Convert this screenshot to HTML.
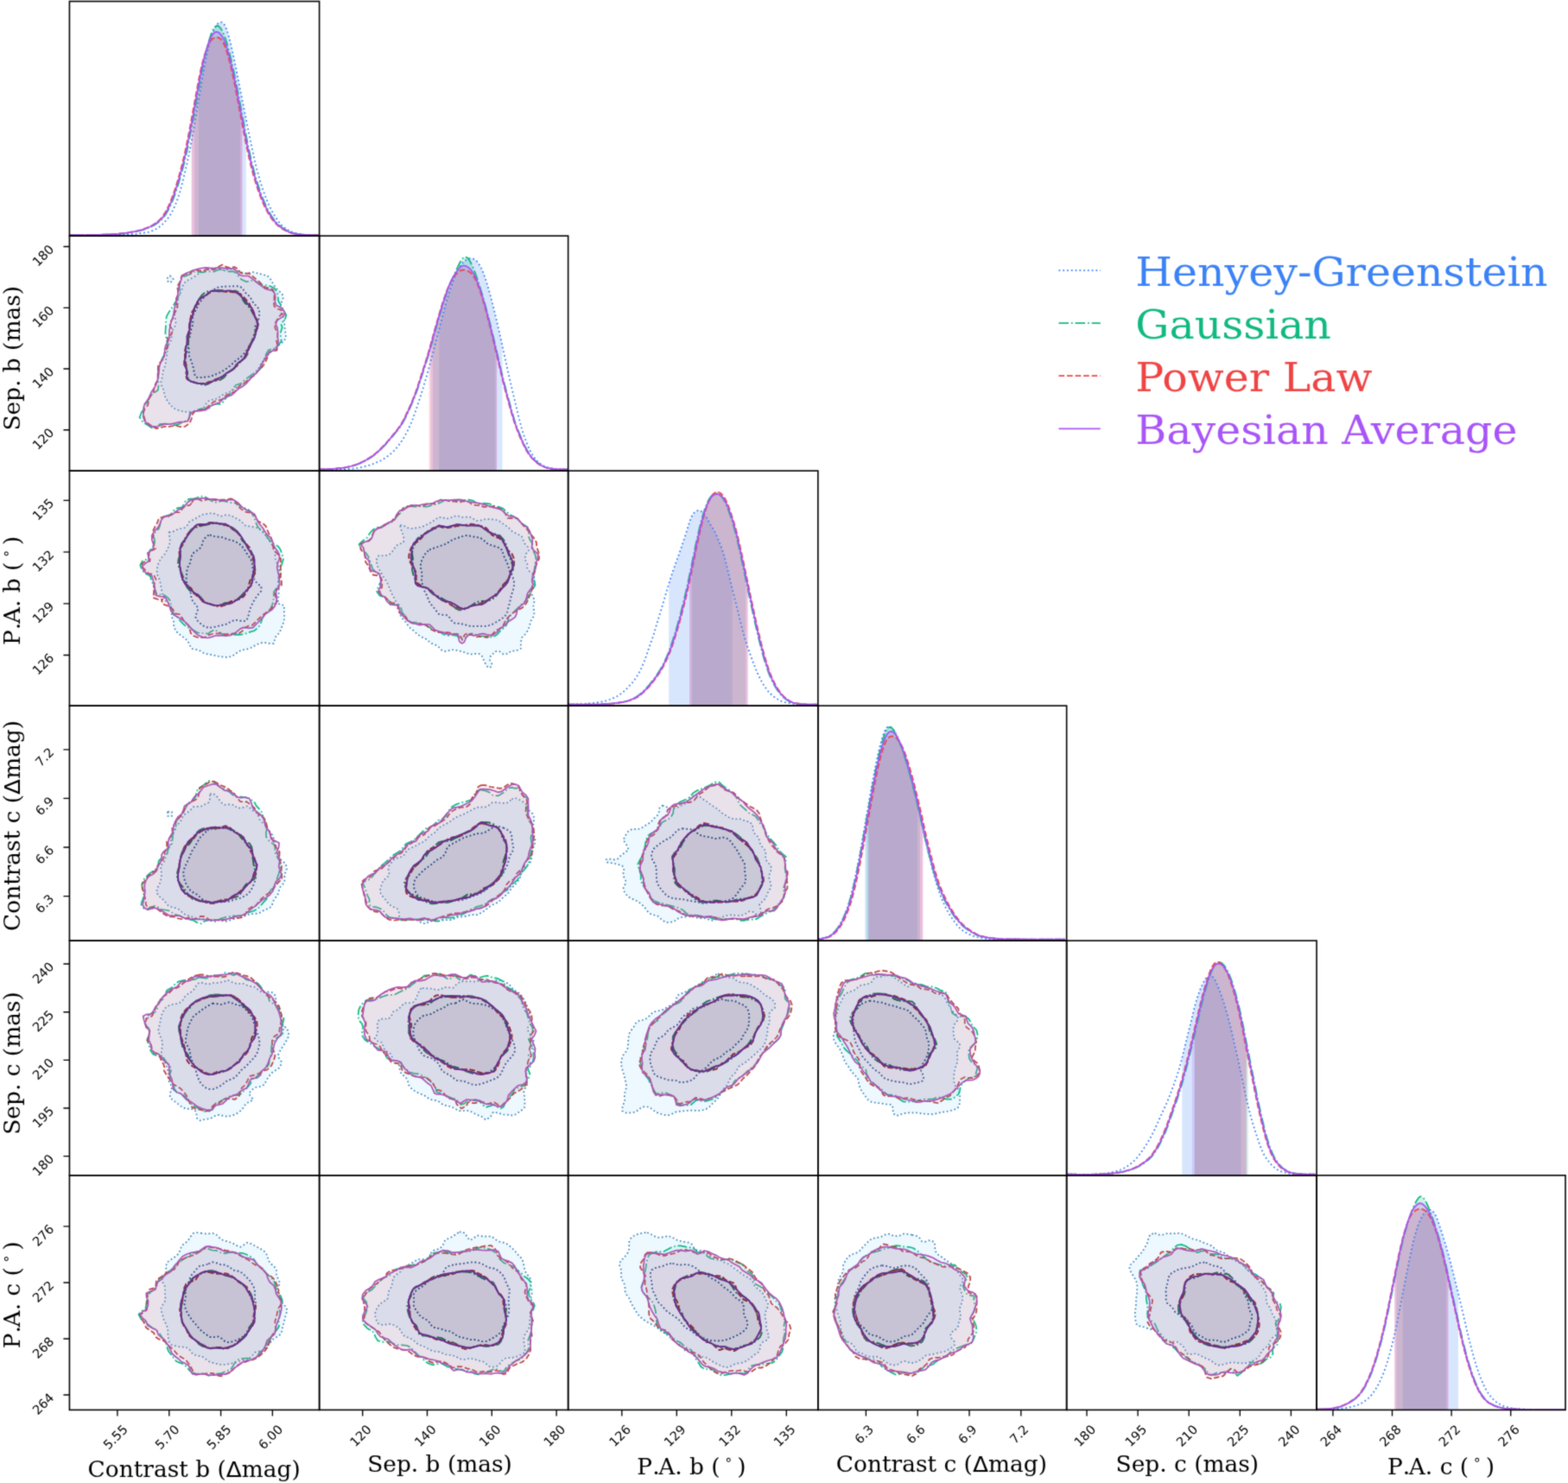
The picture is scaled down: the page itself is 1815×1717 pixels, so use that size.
<!DOCTYPE html>
<html lang="en"><head><meta charset="utf-8"><title>Corner plot</title>
<style>html,body{margin:0;padding:0;background:#fff}svg{display:block}</style></head>
<body>
<svg width="1815" height="1717" viewBox="0 0 1815 1717">
<rect width="1815" height="1717" fill="#fff"/>
<filter id="soft" x="0" y="0" width="1815" height="1717" filterUnits="userSpaceOnUse" color-interpolation-filters="sRGB"><feConvolveMatrix order="3" kernelMatrix="1 4 1 4 16 4 1 4 1" divisor="36" edgeMode="duplicate" preserveAlpha="true"/></filter>
<g filter="url(#soft)">
<rect width="1815" height="1717" fill="#fff"/>
<defs>
<clipPath id="c00"><rect x="80.43" y="1.58" width="289.2" height="271.5"/></clipPath>
<clipPath id="c10"><rect x="80.43" y="273.1" width="289.2" height="272.0"/></clipPath>
<clipPath id="c11"><rect x="369.64" y="273.1" width="288.0" height="272.0"/></clipPath>
<clipPath id="c20"><rect x="80.43" y="545.1" width="289.2" height="272.0"/></clipPath>
<clipPath id="c21"><rect x="369.64" y="545.1" width="288.0" height="272.0"/></clipPath>
<clipPath id="c22"><rect x="657.64" y="545.1" width="289.2" height="272.0"/></clipPath>
<clipPath id="c30"><rect x="80.43" y="817.1" width="289.2" height="272.0"/></clipPath>
<clipPath id="c31"><rect x="369.64" y="817.1" width="288.0" height="272.0"/></clipPath>
<clipPath id="c32"><rect x="657.64" y="817.1" width="289.2" height="272.0"/></clipPath>
<clipPath id="c33"><rect x="946.85" y="817.1" width="287.8" height="272.0"/></clipPath>
<clipPath id="c40"><rect x="80.43" y="1089.1" width="289.2" height="271.7"/></clipPath>
<clipPath id="c41"><rect x="369.64" y="1089.1" width="288.0" height="271.7"/></clipPath>
<clipPath id="c42"><rect x="657.64" y="1089.1" width="289.2" height="271.7"/></clipPath>
<clipPath id="c43"><rect x="946.85" y="1089.1" width="287.8" height="271.7"/></clipPath>
<clipPath id="c44"><rect x="1234.64" y="1089.1" width="289.4" height="271.7"/></clipPath>
<clipPath id="c50"><rect x="80.43" y="1360.8" width="289.2" height="271.6"/></clipPath>
<clipPath id="c51"><rect x="369.64" y="1360.8" width="288.0" height="271.6"/></clipPath>
<clipPath id="c52"><rect x="657.64" y="1360.8" width="289.2" height="271.6"/></clipPath>
<clipPath id="c53"><rect x="946.85" y="1360.8" width="287.8" height="271.6"/></clipPath>
<clipPath id="c54"><rect x="1234.64" y="1360.8" width="289.4" height="271.6"/></clipPath>
<clipPath id="c55"><rect x="1524.0" y="1360.8" width="288.0" height="271.6"/></clipPath>
</defs>
<g clip-path="url(#c10)" stroke-width="1.7" stroke-linejoin="round">
<path d="M213.4 327.5l3.4-2.8 4-2 3.5-1.9 3.7-2.4 3.7-3.2 3.5-1.8 4.1-.6 4.2-1 4.1-1.7 4.5 .4 4.4 2.2 4.4 .1 4.5-1.4 4.4 .3 4.2 1.5 3.9 1.4 3.4 1.4 6 .6 5.2-1.6 5.6 1.4 5.6 1.4 5.9 1.4 3.9 4.7 2.1 3.6 2.3 3.5 2.5 3.3 3.1 3.1 3.2 3.3 1.1 4.2 -2 5.5 -1.4 5.7 .5 4.3 1.5 4.4 2.1 4.1 .8 4.3 .1 4.4 .4 4 1 5.3 .1 4.2 -1.8 3.1 -2.9 2.9 -2.2 1.7 -2.9 1.9 -2.9 2.2 -3.1 3.1 -3.2 3.1 -2.7 3.2 -2.7 3.6 -3.3 3.8 -2.3 3.7 -2.1 4.4 -3.6 3.2 -3.5 2.7 -2.3 4.5 -2.3 4 -3.9 2.1 -4.2 1.3 -3.5 2 -3.8 2.8 -3.5 2.2 -4.3 1.9 -4.4 1.7 -3.7 2.3 -4.2 3 -4.7 1.1 -4.7 1 -3.2 3.2 -2.2 4 -2.9 2.7 -4.8 2.1 -5.3 1.1 -5.1 .2 -5.8-.2 -4.9-1.1 -5.6-2.3 -4.4-3.5 -3.5-4.5 -3.1-5.1 -1.1-4.4 -1-4.5 -2.1-4.1 -.9-4.7 1.2-4.8 .9-4.9 .6-3.9 1.5-3.9 1.1-4 .4-4.1 .8-4 .7-4 -0-4.2 .6-4.1 2.4-3.6 2.1-3.8 -.1-4.4 .1-4.3 2-3.7 2.3-3.7 .6-4 -.7-4.2 -.7-4.2 .6-4.1 1.7-3.9 1.4-3.6 -0-4.7 .2-4.3 2.1-3.9 2.2-4.1 1.1-4.8zM196.6 319.3l2.5 1.5 1.5 2.5 -1.5 2.5 -2.5 1.5 -2.2-1.5 -1.3-2.5 1.3-2.5zM247.7 335.2l3.4-2.3 4.7-1 3.5-.2 4.5-.2 4.8-0 4.5-.2 3.6 0 4 2.2 1.9 3.7 2.6 2.8 3.3 2.8 2.5 3.6 2.2 4.3 3.5 3.4 2.8 3.3 .9 4.4 -.2 3.8 -1 4.8 -2.9 4.8 -1.3 4 .6 4.3 .2 4.8 -1.9 3.5 -2.5 3.4 -1.9 3.7 -1.8 3.5 -3 4.2 -3.1 3.9 -3.3 3.3 -3.6 2.5 -3.2 2.6 -2.9 2.8 -4.7 3.8 -4.9 3.4 -3.6 2.1 -3.9 1.7 -3.8 1.6 -5.6 1.8 -5.5 .6 -5.4 .5 -4.2-.4 -1.9-3.6 -.9-5.1 -1.2-5.6 -2.1-5.7 -1.7-4 -.5-4.4 -.2-4.4 -.7-4.2 .1-4.3 1.4-4.2 1-4.2 .6-4.4 1.4-4.2 1.1-4.3 -.4-4.4 -0-4.3 1.9-3.7 2.2-3.4 1.6-3.8 2-4.1 3.1-3.5 3-3.5 3.3-3.4 4-2.7z" fill="#53b7ff" fill-opacity="0.1" fill-rule="evenodd" stroke="#3b83b7" stroke-dasharray="1.70 2.80"/>
<path d="M247.7 335.2l3.4-2.3 4.7-1 3.5-.2 4.5-.2 4.8-0 4.5-.2 3.6 0 4 2.2 1.9 3.7 2.6 2.8 3.3 2.8 2.5 3.6 2.2 4.3 3.5 3.4 2.8 3.3 .9 4.4 -.2 3.8 -1 4.8 -2.9 4.8 -1.3 4 .6 4.3 .2 4.8 -1.9 3.5 -2.5 3.4 -1.9 3.7 -1.8 3.5 -3 4.2 -3.1 3.9 -3.3 3.3 -3.6 2.5 -3.2 2.6 -2.9 2.8 -4.7 3.8 -4.9 3.4 -3.6 2.1 -3.9 1.7 -3.8 1.6 -5.6 1.8 -5.5 .6 -5.4 .5 -4.2-.4 -1.9-3.6 -.9-5.1 -1.2-5.6 -2.1-5.7 -1.7-4 -.5-4.4 -.2-4.4 -.7-4.2 .1-4.3 1.4-4.2 1-4.2 .6-4.4 1.4-4.2 1.1-4.3 -.4-4.4 -0-4.3 1.9-3.7 2.2-3.4 1.6-3.8 2-4.1 3.1-3.5 3-3.5 3.3-3.4 4-2.7z" fill="#2e66c1" fill-opacity="0.1" stroke="#21498a" stroke-dasharray="1.70 2.80"/>
<path d="M211.8 320.2l3.9-.9 4.5-1.8 4.4-3 6.5 .6 3.5 .3 4.2-1.1 4.5 .1 4.5-0 4.5-1.9 4.7-.3 4.3 1.6 3.5 .5 5-.1 3.1 1.6 2.6 3.3 3.9 4.4 6 2.8 6.1-1.6 4.3 .7 3.2 2.7 4.6 1.8 4.9 .5 4.2 .9 5 2.4 3.4 5 .8 5.4 .3 4.4 1.4 2.5 2.1 2.5 1.8 4.4 1.8 3.2 2 3.6 -1.2 4.5 -2.5 3 -2.3 2.3 .3 1.9 1.2 2.4 -1.8 5.4 -.1 5.2 .9 5.2 -3.8 5.6 -4 3.2 -2.9 .5 -4.5 1.7 -2.5 4.4 -1.9 4.9 -1.9 3.5 -1.4 4.2 -1.5 4.4 -3.8 3.3 -4.6 2.6 -4 2.9 -4 2.7 -3.3 2.9 -2.9 2.6 -5.5 1.7 -4 4.5 -2.7 6.2 -4.8 3.9 -2.8 4.5 -4 3 -5.4-.2 -4.2 2 -3.4 3 -4.2 .5 -5.8 .2 -5.1 2 -4 1 -3.1 2.3 -.7 4.6 -1.8 3.8 -4.4 .9 -4.8 2.7 -4.8 1.8 -5-.9 -4-.5 -4.2-.4 -5.1 .6 -4.3 3 -5.6 .9 -4.6-3.2 -5.2-3.1 -3.7-5.6 2.1-5.4 2.4-4.9 2.1-4.8 2.6-3.1 1.9-3.7 1.9-3.8 3.5-2.6 4.6-3.1 .8-5.1 -.4-5.6 .2-4 -.2-4.1 -.2-4.3 1.1-4 1.8-3.8 1.2-4.1 1.8-3.9 2.8-3.6 1.7-4.2 .2-4.7 -.3-4.8 -.8-4.9 -1-4.9 .3-4.9 .4-5 -.1-5.2 1-4.8 2.4-4.2 2.7-3.9 2.4-3.9 2.6-4.1 2.9-4.2 2-4.2 .2-4.1 -.5-5.2 .7-4.5 1.1-3.4 .9-2.8zM247.7 336.7l5.2-.9 6.1 .4 4.3 1 4.5 0 4.3-.6 5.1 1.7 2.7 4.9 1.3 4.1 2.4 3.5 3.1 2.9 3.6 4.4 2.6 5 2.3 3.7 2.1 4.1 .6 4.4 -.7 4.1 -1.7 4 -1.6 4 -1.2 4.3 -1.7 4.6 -2.3 4.2 -1.4 4.8 -.9 4.9 -2.6 4.1 -3.6 2.9 -3.2 3.2 -3 3.5 -3.8 3 -4.2 2.8 -3.5 3.6 -3.4 4 -4.4 2.6 -5 .8 -4.6 1.3 -4.1 2.5 -4.3 1.4 -6-1.4 -5.2-1.7 -4.7-1.2 -3.1-3.4 -.4-3.5 -.4-4.1 -1.1-4.3 -1-4 -.6-4.1 .1-4.6 .8-3.7 1.4-3.9 1.2-4 .4-4 0-4 .1-4.2 .1-4.1 .4-4.1 .9-4 .9-4.1 .9-4 .9-3.8 1.3-4.6 1.3-4.4 1.6-4.1 2.3-3.9 2.5-3.6 2.3-3.3 3.4-3.1 3.8-1.4 3.3-.5z" fill="#16ffb6" fill-opacity="0.1" fill-rule="evenodd" stroke="#0fb783" stroke-dasharray="10.88 2.72 1.70 2.72"/>
<path d="M247.7 336.7l5.2-.9 6.1 .4 4.3 1 4.5 0 4.3-.6 5.1 1.7 2.7 4.9 1.3 4.1 2.4 3.5 3.1 2.9 3.6 4.4 2.6 5 2.3 3.7 2.1 4.1 .6 4.4 -.7 4.1 -1.7 4 -1.6 4 -1.2 4.3 -1.7 4.6 -2.3 4.2 -1.4 4.8 -.9 4.9 -2.6 4.1 -3.6 2.9 -3.2 3.2 -3 3.5 -3.8 3 -4.2 2.8 -3.5 3.6 -3.4 4 -4.4 2.6 -5 .8 -4.6 1.3 -4.1 2.5 -4.3 1.4 -6-1.4 -5.2-1.7 -4.7-1.2 -3.1-3.4 -.4-3.5 -.4-4.1 -1.1-4.3 -1-4 -.6-4.1 .1-4.6 .8-3.7 1.4-3.9 1.2-4 .4-4 0-4 .1-4.2 .1-4.1 .4-4.1 .9-4 .9-4.1 .9-4 .9-3.8 1.3-4.6 1.3-4.4 1.6-4.1 2.3-3.9 2.5-3.6 2.3-3.3 3.4-3.1 3.8-1.4 3.3-.5z" fill="#0c9165" fill-opacity="0.1" stroke="#086848" stroke-dasharray="10.88 2.72 1.70 2.72"/>
<path d="M210.6 318.9l4.1-1.3 5.1-.9 4.2-3.9 6.7 .4 3.7 .7 4.3-1.8 4.6-.2 4.5 .3 4.6-3.3 4.9-2.3 4.4 2.3 3.8 1.1 5.8-.9 4.3 2.3 2.6 4.3 4.3 1.2 5.8-.5 5.1 4.2 3.6 3.3 3.4 2.5 3.2 3.5 3.7 3 4.5 .5 4.3 2.1 1.5 5 -.1 4.8 -.7 4.3 .7 5.1 4.5 3 4.2 1.5 1.6 2.6 -.5 1.7 -2.1 .9 -2.5 2.6 -2.3 3.9 -2.3 4.1 .4 5.1 2.8 4.8 .2 4.7 -1.5 4.8 1.3 5.7 -.8 5.5 -4.6 .8 -4.1 1 -1.4 4 -1.7 4.8 -1.8 3.5 -2.3 3.9 -3.2 3.4 -3.5 3.5 -3.1 4 -4.1 2.9 -4 2.7 -3.4 3 -3.5 2.1 -4.5 3.5 -3.6 4.9 -5.7 2 -5.3 3 -3.1 3.4 -4.7 1.6 -4.8 1.3 -4 2.8 -3.3 3 -3 2.4 -5.6 1.6 -5.3 .9 -3.1 2.6 -1.1 2.3 -.8 3.8 -2.2 5.6 -5.6 4 -5.5 .3 -5.2-1.6 -4.9 .9 -4.1 .7 -3.5-.4 -4.7 1.2 -5.4 1.1 -5.1-2.8 -4.1-2.8 -3.5-3.4 -1.5-5 -.6-4.1 1.6-4.7 3.5-4.2 .8-3.6 .6-4.3 2.6-3.4 2.5-3.2 .9-5.1 1.3-4.6 2.2-4.2 .6-3.7 0-4.1 .2-4.2 .1-4.3 1.6-4 3.4-3.2 2.3-3.7 0-4.7 1.6-4.1 2.7-4 -.6-4.9 0-4.8 4.6-4 1.1-4.9 -3.1-5.4 1.3-4.7 2.9-4.1 .9-4.4 2.2-4.1 1.8-4.3 -1.5-5.1 -.1-4.7 2.2-4.2 -.3-4.2 -.8-5.4 2.5-4.1 1.9-3.3 .1-3zM247.8 337l5.2 0 6 .5 4.3 .3 4.4 .3 3.8 .2 4.9 1.1 4.3 3 2.7 3 2.8 3.3 2.7 3.3 2.3 5.4 1.9 5.6 2.3 3.7 2.5 4.1 .6 4.5 -1.2 4.2 -1.3 4 -.8 4.4 -1.3 4.4 -2.6 4.1 -2.8 4 -1.6 4.7 -1 4.8 -2.4 4.1 -3.5 3 -3.3 3 -3 3.7 -3.4 3.4 -4.3 2.7 -4.1 2.7 -3.8 3.1 -4.1 2.9 -4.4 2 -4.6 1.1 -4.5 1.1 -4 1.1 -5.8 .4 -5.2-1.4 -4.7-1.3 -4.3-2.5 -1.4-3.8 .5-4.5 .5-4.4 -.6-4 -1.1-4.1 -.5-4.6 .1-3.8 .3-4 .6-4.1 1.2-4 1.4-3.8 1-4 .3-4.1 -.1-4.2 .3-4.1 .7-4.2 .7-4 .6-3.9 1.6-4.7 2.6-3.8 2.4-3.6 1.9-4 2.6-3.5 3.2-2.2 3.8-2.2 2.7-1.9 2.5-1.6z" fill="#ff6060" fill-opacity="0.1" fill-rule="evenodd" stroke="#b74545" stroke-dasharray="6.29 2.72"/>
<path d="M247.8 337l5.2 0 6 .5 4.3 .3 4.4 .3 3.8 .2 4.9 1.1 4.3 3 2.7 3 2.8 3.3 2.7 3.3 2.3 5.4 1.9 5.6 2.3 3.7 2.5 4.1 .6 4.5 -1.2 4.2 -1.3 4 -.8 4.4 -1.3 4.4 -2.6 4.1 -2.8 4 -1.6 4.7 -1 4.8 -2.4 4.1 -3.5 3 -3.3 3 -3 3.7 -3.4 3.4 -4.3 2.7 -4.1 2.7 -3.8 3.1 -4.1 2.9 -4.4 2 -4.6 1.1 -4.5 1.1 -4 1.1 -5.8 .4 -5.2-1.4 -4.7-1.3 -4.3-2.5 -1.4-3.8 .5-4.5 .5-4.4 -.6-4 -1.1-4.1 -.5-4.6 .1-3.8 .3-4 .6-4.1 1.2-4 1.4-3.8 1-4 .3-4.1 -.1-4.2 .3-4.1 .7-4.2 .7-4 .6-3.9 1.6-4.7 2.6-3.8 2.4-3.6 1.9-4 2.6-3.5 3.2-2.2 3.8-2.2 2.7-1.9 2.5-1.6z" fill="#bb3535" fill-opacity="0.1" stroke="#862626" stroke-dasharray="6.29 2.72"/>
<path d="M211.1 319.4l3.3-2.5 4.6-1.9 5-2.2 6.2-1.8 3.9-.6 4.5-.5 4.6 .4 4.6 .4 4.6-.6 4.7-0 4.4 .8 3.9-.1 5.3 .3 3.3 2.9 2.5 3.9 4.7 1.6 6.2 0 5 3.3 3.1 2.8 3.4 2.6 3.9 2.9 3.9 3 4.3 1.3 4.3 1.1 3 3.6 .5 4.8 -.6 4.4 1.5 4.1 4.2 2.1 3.5 2.4 1.8 3.3 .4 3 -2.2 2.4 -3.2 2 -3.4 2.5 -1.6 4.1 1.9 4.5 .5 5.1 -.4 4.9 1 4.8 -.7 5.6 -2.2 4.4 -3.5 1.7 -3.8 1.4 -2.6 3.2 -2.6 4.4 -2 3.4 -2.2 3.8 -2.2 3.9 -2.5 4.2 -3.5 3.6 -3.7 3.3 -3 3.6 -3 3.4 -3.4 2.8 -5.1 2.9 -4.2 3.9 -4.4 3.8 -6.1 2 -3.8 2.5 -3.6 3.7 -4.4 1.7 -4.6 1.5 -3.5 2.8 -3.3 2.6 -6 1 -5.3 .3 -3.8 1.1 -2.7 2.1 -1.2 4.2 -1.7 4.1 -4.6 1.1 -5.2 .2 -4.9 1.2 -4.6 1 -4 .2 -4 .1 -4.8 1.5 -4.8 1.5 -5.1-.5 -4.6-2.5 -3.6-3.7 -1.7-5.2 .3-4.3 .1-5.1 1.2-5.1 2.5-3.3 2.4-3.5 1.6-4 1.7-3.6 2.8-4 2.4-4.1 1.4-4.5 .9-3.8 .7-4 .4-4.1 .3-4.1 1-4.1 1.9-3.8 2.4-3.7 1.1-4.2 -.1-4.6 1.1-4.4 2.6-4.1 1.6-4.4 -.1-5 .3-4.9 .9-4.8 1.1-4.7 1.6-4.4 1.2-4.4 .6-4.5 1-4.4 1.3-4.4 1.1-4.5 .8-4.5 .5-4.1 .6-5 1.4-4.3 1.3-3.4 .5-2.9zM247.7 336.6l5.3 .7 6-.3 4.3-.5 4.5 .2 4 1 4.1 2.5 3.7 3.3 2.8 2.7 2.7 3.5 2.5 3.3 4.2 4.1 2.4 5.3 .8 4.5 2.1 4.1 1.8 4.2 -.8 4.4 -1.6 4.1 -1 4.3 -1.5 4.4 -2.4 4.2 -2 4.4 -2.2 4.3 -2.6 4.1 -1.8 4.3 -2.8 3.6 -3.9 2.4 -3.2 3.2 -2.6 4.4 -4.2 2.8 -4.5 2.2 -3.8 3.2 -4.4 2.3 -4.5 1.6 -4 2.7 -4.2 2 -4.3 .3 -5.9-.3 -5.3-1 -4.6-1.6 -3.8-2.8 -.9-3.7 .4-4.4 -1.1-4.2 -2.1-4 -0-4.2 1.6-4.6 .2-3.7 -.7-4.1 .8-4.1 1.4-3.9 0-4.1 -.1-4.2 1.4-3.9 1.7-3.8 .1-4.2 0-4.3 1.6-3.8 1.6-3.6 1-4.7 1.3-4.4 1.8-3.9 1.8-4.1 2.8-3.4 3.6-1.9 3.8-2.1 2.6-2.5 2.6-1.8z" fill="#ed78ff" fill-opacity="0.1" fill-rule="evenodd" stroke="#aa56b7"/>
<path d="M247.7 336.6l5.3 .7 6-.3 4.3-.5 4.5 .2 4 1 4.1 2.5 3.7 3.3 2.8 2.7 2.7 3.5 2.5 3.3 4.2 4.1 2.4 5.3 .8 4.5 2.1 4.1 1.8 4.2 -.8 4.4 -1.6 4.1 -1 4.3 -1.5 4.4 -2.4 4.2 -2 4.4 -2.2 4.3 -2.6 4.1 -1.8 4.3 -2.8 3.6 -3.9 2.4 -3.2 3.2 -2.6 4.4 -4.2 2.8 -4.5 2.2 -3.8 3.2 -4.4 2.3 -4.5 1.6 -4 2.7 -4.2 2 -4.3 .3 -5.9-.3 -5.3-1 -4.6-1.6 -3.8-2.8 -.9-3.7 .4-4.4 -1.1-4.2 -2.1-4 -0-4.2 1.6-4.6 .2-3.7 -.7-4.1 .8-4.1 1.4-3.9 0-4.1 -.1-4.2 1.4-3.9 1.7-3.8 .1-4.2 0-4.3 1.6-3.8 1.6-3.6 1-4.7 1.3-4.4 1.8-3.9 1.8-4.1 2.8-3.4 3.6-1.9 3.8-2.1 2.6-2.5 2.6-1.8z" fill="#8342c1" fill-opacity="0.1" stroke="#5e2f8a"/>
</g>
<g clip-path="url(#c20)" stroke-width="1.7" stroke-linejoin="round">
<path d="M195.7 616.2l3.4-.1 5.3-2.6 3.5-1.3 4.7-.5 3.5-2.4 3-5.2 5.1-2.6 4.6-2.5 4.5-3 4-.7 4.4-.7 4.5-.6 4.7 1.9 4.9 1.7 4.7-1.3 6.3 .3 4.9 2.7 4.6 2.2 3.5 2.5 1.9 2.5 2.6 2.1 5.5 1 5.9 .9 4.5 1.5 3.9 2.8 2.4 3.3 2.3 3.8 2.3 3.4 3 4.4 3.1 4.5 1.4 4.1 -.1 4.6 .3 4.6 1.8 4.1 1.9 4.1 .7 4.3 -.2 4.2 -.7 4.1 -.5 4.5 .3 4 .6 4.2 .1 4.2 -.2 3.6 -.7 6.2 -.3 3.9 3.6 .8 3.7 1.4 .1 3.3 -.1 4.9 .4 5.2 -.5 4.9 -2 4.8 -1.5 4.2 -1.8 4 -2.9 3.3 -2.4 2.7 -.4 3.8 -1.1 2.9 -3.7 .2 -4.6-1 -4.8-.2 -4.4 1.3 -4.3 2.1 -3.9 2.3 -5.6 2 -5.7 .9 -4 1.9 -3.6 2.9 -3.6 2.4 -4.1 .9 -4.4-0 -4.3-.4 -4.3-.8 -4.2-1 -4.1-.8 -4.2-.6 -3.8-1.5 -3.3-2.1 -5-1.6 -4.6-.9 -2.8-4.3 -2.2-5.1 -4.4-3.5 -4.6-3.4 -4.5-3.8 -2.4-5.4 -.2-5.7 -2.2-5.4 -.4-4.9 .7-5.2 -3.2-4.7 -4.6-4.2 -1.9-4.1 -1.5-4.5 -1.1-4.4 -.9-6 -1.4-5.4 -2.4-5.5 -.8-5.5 1.1-4.9 1.5-4.7 2.9-4.7 4-4.5 2.8-5.3 2.3-4.9 .8-4.8 -.5-4.5 -.8-3.9zM243 619.3l4.1 1.4 5.5 .9 5 .6 4.6 1.7 4.8 1.5 4.7 1.2 4.3 2.2 3.8 3.3 3.2 4.2 2.8 4.8 3.1 4.2 2.8 4.9 .6 4.5 .3 4.7 1.2 3.9 .5 4.3 0 3.5 3.5 4.5 4.7 3.5 -.2 5.2 -3.7 4.4 -3.3 4.5 -2.8 5.2 -1.8 3.7 -1.5 3.9 -1 3.7 -1.2 5.6 -2.6 3.8 -3.6 .1 -4.7-.9 -4.4-.4 -4 1.5 -3.6 2.3 -3.5 1.4 -4.3 .9 -3.9 .8 -5.6 1.5 -5.5 .6 -5.2-1.8 -4-3.1 -3.4-3.2 -2.4-4.3 1.3-4.9 1.8-4.9 -2.4-4.2 -3.5-3.5 -2-4.6 -.7-5.2 -1.5-5.6 -2.7-5.3 -1.1-5.2 .3-4.5 .4-4.9 1.3-5.3 2.8-5.1 .8-5.4 1.8-5 4.3-3 3.9-2.6 2.4-3.9 1.4-4.8 2.5-3.8 2.9-2.6z" fill="#53b7ff" fill-opacity="0.1" fill-rule="evenodd" stroke="#3b83b7" stroke-dasharray="1.70 2.80"/>
<path d="M243 619.3l4.1 1.4 5.5 .9 5 .6 4.6 1.7 4.8 1.5 4.7 1.2 4.3 2.2 3.8 3.3 3.2 4.2 2.8 4.8 3.1 4.2 2.8 4.9 .6 4.5 .3 4.7 1.2 3.9 .5 4.3 0 3.5 3.5 4.5 4.7 3.5 -.2 5.2 -3.7 4.4 -3.3 4.5 -2.8 5.2 -1.8 3.7 -1.5 3.9 -1 3.7 -1.2 5.6 -2.6 3.8 -3.6 .1 -4.7-.9 -4.4-.4 -4 1.5 -3.6 2.3 -3.5 1.4 -4.3 .9 -3.9 .8 -5.6 1.5 -5.5 .6 -5.2-1.8 -4-3.1 -3.4-3.2 -2.4-4.3 1.3-4.9 1.8-4.9 -2.4-4.2 -3.5-3.5 -2-4.6 -.7-5.2 -1.5-5.6 -2.7-5.3 -1.1-5.2 .3-4.5 .4-4.9 1.3-5.3 2.8-5.1 .8-5.4 1.8-5 4.3-3 3.9-2.6 2.4-3.9 1.4-4.8 2.5-3.8 2.9-2.6z" fill="#2e66c1" fill-opacity="0.1" stroke="#21498a" stroke-dasharray="1.70 2.80"/>
<path d="M219.6 577.6l4.8-.1 4.2-1.5 4.8-1.4 3.8 .6 3.7 2.1 3.8 2.6 4.5 1.7 4.2-.7 4.5-1.2 4.5 1.1 3.9 1.3 2.8-.3 5.9 1.5 4.4 3.7 4.2 1.4 4 1.7 3.1 3.1 2.3 3.7 2 4.2 1.5 4.7 2.1 4.2 2.8 3.6 3.3 3.3 3.4 3.3 2.7 3.7 2.8 3.4 4.1 2.6 4.3 2.7 2.4 3.4 2.1 5.3 1.5 6 -1.6 5.5 -2.2 4.5 -0 3.7 -.2 4.4 -1 4 .1 4.7 .2 3.3 -2.7 3 -3.5 4.6 -.4 6.1 -.2 5.2 -1.5 4.3 -1.8 4.1 -2.8 3.2 -3.7 3 -2.8 4.3 -1.8 5.5 -2.7 5.5 -5 4 -5.6 1.7 -4.1 1.5 -2.6 .9 -4.6 .5 -5-.1 -6.2 .5 -5.7 1.2 -5.8-3.9 -6.8-3.4 -5 2.8 -1.7 2 -3.8-.6 -6.1-.2 -3.8-1.1 -3.5-2.3 -4-2 -4.3-2.1 -3.5-3 -2.8-3 -3.9-4.5 -3.9-4.2 -3.7-4.2 -.4-6.3 -.1-4.2 -3-3.8 -3.7-3 -5.3-1.1 -3.9-.5 -1.9-4.1 -1.7-6 -2.9-5.7 -.9-4.4 -2.3-1.9 -3.9-1.6 -3.5-3.9 -2.2-5.7 2.6-5.1 4.2-1.5 3-3 .4-3.7 1.1-4.2 2.5-2.9 2.9-4.2 -.1-5.4 -1.7-4.1 2.7-4.3 4.1-4.3 1.4-4.6 1-5.2 2.7-3.9 4.6-1.2 4.1-1.4 2.6-3.8 4.3-3.4 5.8-.9 2.3-3.5 2.1-4.5zM232.2 609l5-1.2 5.8-.9 4.2-1 4.5-.4 4.1 .9 4.9 1.6 4.5 1.2 4.5 2.1 4.4 3.3 2.6 3.1 1.8 4.1 1.8 3.8 4.2 4.3 4 4.1 2.5 4.8 2.1 5.1 .9 4.2 .2 4.6 .6 4.2 .4 6 -1.7 5.4 -1.4 5.1 -1.6 4.7 -3.2 3.7 -3.7 3.1 -3.5 4.1 -4.2 3.8 -3.1 2.3 -3.6 2 -4.1 .6 -5.7 .7 -5.2 2.6 -5.9 .2 -5.2-1.8 -4.4-1.1 -3.7-2.3 -2.5-4.1 -3.5-3.5 -5.2-1.8 -4.2-2.9 -3-3.6 -2.3-4.1 -1.4-5.5 -2.2-5.8 -2-3.9 -1.7-4.2 -.8-4.4 .3-4.4 1.4-4.3 1.3-4.1 -0-4.6 .6-4.7 2.6-3.7 4.1-4.6 2-5.3 3-3.8 4.2-1.7 3.3-1z" fill="#16ffb6" fill-opacity="0.1" fill-rule="evenodd" stroke="#0fb783" stroke-dasharray="10.88 2.72 1.70 2.72"/>
<path d="M232.2 609l5-1.2 5.8-.9 4.2-1 4.5-.4 4.1 .9 4.9 1.6 4.5 1.2 4.5 2.1 4.4 3.3 2.6 3.1 1.8 4.1 1.8 3.8 4.2 4.3 4 4.1 2.5 4.8 2.1 5.1 .9 4.2 .2 4.6 .6 4.2 .4 6 -1.7 5.4 -1.4 5.1 -1.6 4.7 -3.2 3.7 -3.7 3.1 -3.5 4.1 -4.2 3.8 -3.1 2.3 -3.6 2 -4.1 .6 -5.7 .7 -5.2 2.6 -5.9 .2 -5.2-1.8 -4.4-1.1 -3.7-2.3 -2.5-4.1 -3.5-3.5 -5.2-1.8 -4.2-2.9 -3-3.6 -2.3-4.1 -1.4-5.5 -2.2-5.8 -2-3.9 -1.7-4.2 -.8-4.4 .3-4.4 1.4-4.3 1.3-4.1 -0-4.6 .6-4.7 2.6-3.7 4.1-4.6 2-5.3 3-3.8 4.2-1.7 3.3-1z" fill="#0c9165" fill-opacity="0.1" stroke="#086848" stroke-dasharray="10.88 2.72 1.70 2.72"/>
<path d="M222 582l2.4-4.4 4.4-.1 4.6 2.3 3.5-.7 3.9-1.1 4.1 .7 4.4 .5 4.1-.7 4.5 .2 4.5 0 4.4-1.3 3.9 .6 3.7 6.1 3.8 4.5 3.8 2.7 3.8 1.9 4.7 .2 4.2 2.2 1.7 4.6 2.9 3.7 5 2 3.4 3.2 1.7 4.4 1.9 4.3 2.3 4.1 1.5 4.5 .6 4.6 .7 4.2 2 3.4 4.3 3.9 2.4 4.8 -.3 5.1 0 5 .5 3.5 -.3 4.4 -.2 3.7 1.1 4.3 0 4.6 -4.1 3.3 -4.2 3.9 1.5 6 1.2 5.8 -3.7 4.5 -3.1 3.7 -3 2.9 -4.3 2.4 -4 3.5 -3.7 3.5 -3.3 3.5 -3.4 3.1 -4.2 .7 -4.7 2.4 -2.6 3.8 -3.6 2.3 -4.8-.1 -6 .9 -5.5 .3 -5.6-1.1 -5.9 .5 -4.9 .8 -2.6 1 -5.6 2.7 -7.2-.2 -4.4-1.7 -3.3-3 -1.3-5.1 -1.7-4.7 -3.8-2.7 -2.5-4 -3.5-5.5 -5.9-.9 -2.1-5.1 -5.3-3.6 -6.3-2.3 -1.3-3.7 1.1-1.9 -3.8 .8 -6.9-2.5 .5-8.1 -.1-6.3 2.6-6.8 -2.9-5.8 -5.2-.9 -2.8-2.1 -2.4-3 -4.4-4.4 3.6-4 6.9-.7 .3-4.9 -2.8-4.7 3.8-2.4 5.3-2.7 -2-5.3 -2.1-5.1 1.7-4.4 -.4-6.2 2.7-5.5 2.2-3.7 1.8-5 5.4-1.9 5.2 .1 3.3-2.7 3.4-2.4 6.3-.1 3.9-4.4 3.2-3 5.2-.9zM232 608.3l5.1-1 5.8-2.4 4.4-0 4.4 1 4 1 5 1.1 4.5 1.2 4.4 2.3 3.8 3.8 2.7 2.9 2.8 3.3 2.3 3.5 3.6 4.6 3.9 4.3 1.6 5.2 1.2 5.3 1.6 3.9 1.2 4.3 .8 4.3 .5 6.1 -2.8 5.1 -3.5 4.4 -1.2 4.6 -.9 4.7 -2 4.4 -3.3 4.6 -5.2 3.1 -4 .9 -4 1 -3.7 1.6 -5.1 3.4 -5.6 1.8 -5.9-1.8 -5.3-1.5 -4.3-1.2 -3.2-2.8 -3.2-3.3 -4.7-2.3 -3.8-3.2 -2.4-5.2 -3.2-2.9 -4.1-2.3 -2.8-5.1 -1.3-6.1 -1-4.2 -.8-4.3 -.3-4.3 0-4.3 -.2-4.3 -.3-4.4 1.2-4.4 2.9-3.9 1.9-3.8 1.5-6.1 3.7-4.2 3.6-3.3 3-3 3-1.7z" fill="#ff6060" fill-opacity="0.1" fill-rule="evenodd" stroke="#b74545" stroke-dasharray="6.29 2.72"/>
<path d="M232 608.3l5.1-1 5.8-2.4 4.4-0 4.4 1 4 1 5 1.1 4.5 1.2 4.4 2.3 3.8 3.8 2.7 2.9 2.8 3.3 2.3 3.5 3.6 4.6 3.9 4.3 1.6 5.2 1.2 5.3 1.6 3.9 1.2 4.3 .8 4.3 .5 6.1 -2.8 5.1 -3.5 4.4 -1.2 4.6 -.9 4.7 -2 4.4 -3.3 4.6 -5.2 3.1 -4 .9 -4 1 -3.7 1.6 -5.1 3.4 -5.6 1.8 -5.9-1.8 -5.3-1.5 -4.3-1.2 -3.2-2.8 -3.2-3.3 -4.7-2.3 -3.8-3.2 -2.4-5.2 -3.2-2.9 -4.1-2.3 -2.8-5.1 -1.3-6.1 -1-4.2 -.8-4.3 -.3-4.3 0-4.3 -.2-4.3 -.3-4.4 1.2-4.4 2.9-3.9 1.9-3.8 1.5-6.1 3.7-4.2 3.6-3.3 3-3 3-1.7z" fill="#bb3535" fill-opacity="0.1" stroke="#862626" stroke-dasharray="6.29 2.72"/>
<path d="M220.5 579.2l4.1-.8 4.2-.7 4.6-.9 3.7 .1 3.8 .6 4.1 .3 4.4 .1 4 .9 4.5 .9 4.5-.5 4.3-.9 3.7 .4 5.4 3.6 3.9 4.3 3.4 2.7 3.8 2 4 1.6 3.7 2.8 2.2 4.3 1.8 4.3 2.8 3.6 2.9 3.6 2.3 4 2.8 3.7 3.5 3.2 2.3 3.9 1.3 4.3 1.8 3.7 2.6 3.2 2.5 4.8 -.1 5 -1.7 4.3 -.9 5.2 .8 4.3 1.1 4.4 .5 3.9 .5 4.5 -0 3.6 -2.3 3.4 -1.9 4.7 .8 5.5 .2 5.8 -2.5 5.2 -3.3 4 -3.9 2.4 -3.8 2.7 -3 4 -3.7 3.8 -3.6 3.7 -3.7 3.9 -4.8 .7 -5.4-.9 -4 1.2 -3.5 2.8 -3.3 2.9 -5.5 2.3 -5.8 .4 -5.8-.3 -5.4 .3 -4.2 1.4 -3.8 1.1 -5.6-.4 -6-2.3 -3.1-2.6 -3-3.1 -2.9-3.2 -3-3.3 -3.3-3.2 -3.5-2.8 -5.1-3 -5-2.9 -3.2-4.8 -1.8-5.7 -1.5-3.9 -2-3.9 -2.4-2.5 -4.9-.3 -4.7-1.5 -.9-5.4 -.7-6.1 -1.6-6 -1.5-5 -3.3-2.1 -3.7-1.3 -3-3.5 -.8-4.6 3.5-2.7 3.8-3 -.4-4.5 -.7-4.4 3.2-2.9 3.4-3 -.1-4.5 -1.7-5.2 -.2-4.8 2.8-5 4.2-4.3 2.2-3.9 1.7-4.7 3.1-3.5 4.3-1.3 4.2-.9 3.4-2.4 4.3-3.7 5.2-2.2 3.2-2.8 2.7-3.7zM231.6 606.8l5.5 .4 5.9-1.3 4.2-.5 4.5 .7 4.1 .4 5.2 .2 4.3 2.3 3.5 3.5 4.5 2.8 3.4 2.5 2.5 3.4 2.2 3.7 3.2 4.9 2.3 5.2 3.2 4.2 3.4 4.5 1 4.3 -0 4.6 -.1 4.2 -1.1 5.7 -1.3 5.4 -.1 5.4 -1.5 4.8 -3.3 3.6 -3.2 3.4 -3 4.7 -4.5 3.6 -3.5 1.9 -3.5 2.3 -3.8 1.5 -5.9 .6 -5.6 1 -5.7 .3 -5.3-1.6 -4.3-1.2 -4.2-1.8 -3-3.6 -2.9-4.1 -4.3-2.8 -3.9-3.3 -2.7-3.7 -2.8-3.3 -3.6-4.5 -1.8-6.1 -.5-4.3 -.8-4.3 -.4-4.3 .6-4.3 .5-4.1 -.5-4.4 -.1-4.7 1.9-4.3 2.7-3.6 3.1-5.1 3.2-4.4 3.1-3.7 2.6-3.5 2.8-2.4z" fill="#ed78ff" fill-opacity="0.1" fill-rule="evenodd" stroke="#aa56b7"/>
<path d="M231.6 606.8l5.5 .4 5.9-1.3 4.2-.5 4.5 .7 4.1 .4 5.2 .2 4.3 2.3 3.5 3.5 4.5 2.8 3.4 2.5 2.5 3.4 2.2 3.7 3.2 4.9 2.3 5.2 3.2 4.2 3.4 4.5 1 4.3 -0 4.6 -.1 4.2 -1.1 5.7 -1.3 5.4 -.1 5.4 -1.5 4.8 -3.3 3.6 -3.2 3.4 -3 4.7 -4.5 3.6 -3.5 1.9 -3.5 2.3 -3.8 1.5 -5.9 .6 -5.6 1 -5.7 .3 -5.3-1.6 -4.3-1.2 -4.2-1.8 -3-3.6 -2.9-4.1 -4.3-2.8 -3.9-3.3 -2.7-3.7 -2.8-3.3 -3.6-4.5 -1.8-6.1 -.5-4.3 -.8-4.3 -.4-4.3 .6-4.3 .5-4.1 -.5-4.4 -.1-4.7 1.9-4.3 2.7-3.6 3.1-5.1 3.2-4.4 3.1-3.7 2.6-3.5 2.8-2.4z" fill="#8342c1" fill-opacity="0.1" stroke="#5e2f8a"/>
</g>
<g clip-path="url(#c21)" stroke-width="1.7" stroke-linejoin="round">
<path d="M463.2 608l3.9 .4 4.4 2.6 4.7 .9 4.8-.6 4.9-.8 5-1.4 4.6-2.5 4.5-2.3 3.7-2.7 4-2.8 4.1 .1 4.5 1.6 4.5-.4 4.6-2.5 4.9-.1 4.7 1.3 4.4-.2 4.4-.1 3.9 2 4 2.3 4.4-.2 4.3-1.3 4.3-.2 4.5 .3 3.9 .1 4.3 1.4 3.5 2.6 4.1 2.7 4.2 3.1 4 4.2 5.2 2.6 5.4 2.6 2.2 5.6 1.7 3.5 3.2 3.2 1.2 4.1 -4 5.1 -.3 5.9 2.6 4.7 -.3 4.5 2.8 4.3 4.3 2.6 1.2 3.7 -0 4.6 .2 4.3 -2 5.1 -2.2 4.3 2.7 4.3 1.8 5.3 -1.4 3.9 0 4.4 1.3 4.6 -1.5 5.7 -3 4.9 -1.2 5 -1.6 4.9 -3.2 4.8 -4.2 4.3 -1.3 5.9 .3 6.6 -5.6 2.6 -5.9 .4 -4.1 3.2 -4.9 .5 -4.6-3.4 -4.9 .2 -2.9 3.3 -2.3 1.8 -.8 5 2.3 4.3 -1 3.4 -3.3 1 -2.1-2.6 -1.9-3.6 -2.1-4.6 -1.7-3.9 -3.1-1.5 -5.1-.1 -4.5 .8 -5-1.5 -4.5-1.8 -4.9-.9 -4.7-1.2 -4.8 .6 -4.8 1.5 -4.8-1.7 -3.9-4.1 -3.3-1.9 -4.3-1.7 -3.2-2.3 -4.2-3.4 -4.9-1.9 -4.7-3.4 -4.1-3.9 -3.7-2.9 -3.5-4.2 -2.2-3.2 -3.1-3.4 -2.5-3.9 -.8-4.2 -.8-4.5 -1.9-4 -1.9-3.6 -2.7-5.1 -2.6-4.9 -1.7-4.5 -1.9-4.8 -2.3-4.2 -2.8-4.5 -2.5-4.2 -2.9-4.9 -2.2-4.5 -1-6.2 2.8-4.9 3.6-.1 4.8-.1 4.2-1.4 3-2.8 2.3-3.7 2.3-3.5 4.7-2.2 3.9-2 .2-5.5 -1.7-5.8 -2-4.7zM497.1 636.5l4.4-1.6 4.8-1.6 4.9-1.8 5.1-1.9 4.5-2.9 4.6-2.6 4.9-1.5 4.7-1.6 4.7-1 4.8 .6 5.6 1.1 5.6 .9 4.3 2.9 3.7 3.5 4.6 2.1 4.7 1.5 4.6 1.5 3.6 2.8 1.4 4.7 1.7 4.9 2.7 4.8 1.5 4.9 1.1 4 1.4 3.6 2.3 3.9 1.6 4.3 .2 5.3 -1.2 5.8 -1.9 5.6 -1.1 5.5 -1.2 4.8 -1.2 4.6 -1.3 5.2 -2.7 4.7 -3.9 3.1 -4.5 2.7 -3.3 2 -3.6 1.9 -4 1.4 -4.1 .4 -4.2-.2 -4.4 .1 -4.8 .3 -5-.5 -4.4-1.5 -5.8-1.2 -5.7-.3 -3.6-2.2 -2.4-3.9 -2.8-3.2 -5.3-.6 -5.1-1 -3.4-4.6 -3.5-4.5 -2.8-3.1 -1.9-3.8 -1-3.6 -1.9-3.5 -1.7-3.4 -1-3.6 -1.6-4.5 -.7-4.1 .3-5.1 -.2-4.6 -1.1-4.7 -.2-4.9 1.6-4.8 2.2-4.6 2.8-3.9z" fill="#53b7ff" fill-opacity="0.1" fill-rule="evenodd" stroke="#3b83b7" stroke-dasharray="1.70 2.80"/>
<path d="M497.1 636.5l4.4-1.6 4.8-1.6 4.9-1.8 5.1-1.9 4.5-2.9 4.6-2.6 4.9-1.5 4.7-1.6 4.7-1 4.8 .6 5.6 1.1 5.6 .9 4.3 2.9 3.7 3.5 4.6 2.1 4.7 1.5 4.6 1.5 3.6 2.8 1.4 4.7 1.7 4.9 2.7 4.8 1.5 4.9 1.1 4 1.4 3.6 2.3 3.9 1.6 4.3 .2 5.3 -1.2 5.8 -1.9 5.6 -1.1 5.5 -1.2 4.8 -1.2 4.6 -1.3 5.2 -2.7 4.7 -3.9 3.1 -4.5 2.7 -3.3 2 -3.6 1.9 -4 1.4 -4.1 .4 -4.2-.2 -4.4 .1 -4.8 .3 -5-.5 -4.4-1.5 -5.8-1.2 -5.7-.3 -3.6-2.2 -2.4-3.9 -2.8-3.2 -5.3-.6 -5.1-1 -3.4-4.6 -3.5-4.5 -2.8-3.1 -1.9-3.8 -1-3.6 -1.9-3.5 -1.7-3.4 -1-3.6 -1.6-4.5 -.7-4.1 .3-5.1 -.2-4.6 -1.1-4.7 -.2-4.9 1.6-4.8 2.2-4.6 2.8-3.9z" fill="#2e66c1" fill-opacity="0.1" stroke="#21498a" stroke-dasharray="1.70 2.80"/>
<path d="M471.5 586.2l4.2 0 4.5 .4 4.1-.5 4.8 .4 5.1 .2 4-1.3 3.8-1.1 3.8-.4 4.2-2.1 5.3-2.9 5.5 1.1 5.4 .3 5.5-1.4 4.9 0 6.1-.3 5.4 1.3 3.7 2.9 4.4 1 4.6-1.1 5.9 .6 5.2 2.4 5.4 1.2 5.1 2 4 3.6 3.5 3.2 4.3 2 4.3 2.8 3.5 3.8 4 3 4.6 2.9 1.8 4.8 -.8 5.1 1.7 4.6 3 4.5 .3 5 1 4.6 2 3.4 .8 4.8 -1.1 5.7 -.4 4.2 -.8 4.4 -.9 4.3 1.4 5.9 .9 6.1 -2.4 3.9 -3.1 3.3 -1.7 3.5 -2 5.1 -3.7 4 -4.5 3.8 -4.1 4.1 -2.7 2.9 -2.8 2.9 -2.8 3 -2 4.3 -1.5 5.1 -2.6 3.4 -4.4 3.2 -3.5 4.4 -5.4 3.4 -6.4-1.1 -4.5-.3 -4.5-.2 -4-1.5 -4.5-1.4 -3.8 1.2 -2.5 2.8 -2.8 2.1 -2.4 1.1 .1-.1 -.3-.3 -2.3-.8 -1.9-1.9 -2-1.7 -4.2-.5 -5.5 .6 -5.6-1.5 -5.3-3.3 -4.2-1.5 -4.1-1.6 -3.1-2.3 -5.2-2.4 -5.3-1.8 -4.8-1 -4.7 .2 -4.4-2.6 -2.7-4.5 -2.5-2.9 -1.6-1.9 -.9-4 -2.7-4.6 -4.8-.4 -4.4-.9 -2.9-4.2 -4.1-3.1 -5.9-1.9 -3.5-4.9 2.1-6.4 2.7-5 -0-4.1 -2.3-4.1 -4-3 -3.4-3.7 -1.5-4.9 -1.6-4.7 -1.7-4.4 -3-4.4 -5.3-4 -2.5-6 4.9-4.5 4.3-3.2 1.3-2.2 1.9-2.7 3.2-3.7 4.7-3.1 5.1-.9 4.9-2 3.4-1.7 4.2-1.7 3.2-2.8 3.5-4.7 4-3.7 3.3-3.8zM508.1 609.1l4.2 .3 5.3 1 5.4-1.1 5.6-2 4.2 .4 4.3 .8 4.3-.1 4.4-.3 4.4 .4 3.8 .2 4.6 1.5 3.5 2.8 3.6 3.1 4.2 2 4.4 .5 4.4 1.4 3.6 4 2.8 4.6 1.8 4.9 .8 5 1.4 4.7 1.6 4 1.3 3.5 1.3 3.8 .5 4.9 -1.3 5 -3 4.4 -3 4.2 -2.9 4.1 -3.3 3.7 -2.6 3.7 -2.3 4.1 -3.4 3.9 -4.8 2.4 -5.4 1.1 -5.7-.1 -5.3 1.6 -5 3.6 -4.6 2.7 -4.7 2.3 -5.1 .2 -4.2-2.1 -3.1-3.4 -3.5-3.1 -4.4-2.2 -4.4-2.6 -4.9-2.7 -5.5-2 -3.5-3.3 -2.6-3.3 -3.9-1.6 -3.9-1 -3.6-1.5 -2.5-2.5 -1.2-5 -2.2-5.7 -1-5.3 .7-6.1 .3-4.4 -.5-4.4 -.4-3.7 1-5.6 2.2-5.2 2.2-5.3 4.1-4.1 5.8-2.1 4.7-3 4.3-2.4 3.8-1.3 1.6-1.5z" fill="#16ffb6" fill-opacity="0.1" fill-rule="evenodd" stroke="#0fb783" stroke-dasharray="10.88 2.72 1.70 2.72"/>
<path d="M508.1 609.1l4.2 .3 5.3 1 5.4-1.1 5.6-2 4.2 .4 4.3 .8 4.3-.1 4.4-.3 4.4 .4 3.8 .2 4.6 1.5 3.5 2.8 3.6 3.1 4.2 2 4.4 .5 4.4 1.4 3.6 4 2.8 4.6 1.8 4.9 .8 5 1.4 4.7 1.6 4 1.3 3.5 1.3 3.8 .5 4.9 -1.3 5 -3 4.4 -3 4.2 -2.9 4.1 -3.3 3.7 -2.6 3.7 -2.3 4.1 -3.4 3.9 -4.8 2.4 -5.4 1.1 -5.7-.1 -5.3 1.6 -5 3.6 -4.6 2.7 -4.7 2.3 -5.1 .2 -4.2-2.1 -3.1-3.4 -3.5-3.1 -4.4-2.2 -4.4-2.6 -4.9-2.7 -5.5-2 -3.5-3.3 -2.6-3.3 -3.9-1.6 -3.9-1 -3.6-1.5 -2.5-2.5 -1.2-5 -2.2-5.7 -1-5.3 .7-6.1 .3-4.4 -.5-4.4 -.4-3.7 1-5.6 2.2-5.2 2.2-5.3 4.1-4.1 5.8-2.1 4.7-3 4.3-2.4 3.8-1.3 1.6-1.5z" fill="#0c9165" fill-opacity="0.1" stroke="#086848" stroke-dasharray="10.88 2.72 1.70 2.72"/>
<path d="M471.7 586.6l4-.5 4.4-1.1 4.2 .3 4.8 .6 4.5-2 3.4-1 4.6 .4 3.8-1.1 4.4-3.6 5.5 .4 5.5 1.4 5.4-0 5.4 1.1 4.9-1.4 5.7 .6 4.8 3.7 4.3 .4 4.6 .3 4 1.8 6.1-.3 5.8-.5 4.8 2.3 4.9 1.9 3.3 4.2 2.9 5.3 5.6 .4 5.4-0 3.4 3.9 3.2 3.9 3.7 3.4 2.9 3.9 3.1 4 3.7 4.3 2.2 4.4 .4 4.4 1 4 1.9 4.9 -.2 5.9 -2.8 5.8 -1.2 4.1 -.7 4.5 -1.6 4 -1.7 5.5 .5 5.8 -.2 4.3 -1.4 4 -1.5 3.7 -1.9 5.1 -2.5 4.8 -3.9 4.4 -5.7 3.2 -3.8 2 -3.3 2.6 -3.1 2.7 -3.1 3.2 -2.2 4.2 -1.9 4.1 -4.2 3.1 -4.1 1.8 -4 4.7 -5.7 3.3 -4.5-.8 -4.6-.1 -4 .3 -4.5-2.6 -4.5-2 -4.1 2.2 -1.7 3.4 -1.1 2.2 0 .4 -.2-1 -.9-1.6 -1.1-2.1 -3.3-2.4 -4.9 0 -5.2-1.6 -5.6-.3 -6.4 0 -4.3-1.5 -4-1.8 -2.8-2.4 -4.9-3.7 -5.5-.7 -5 0 -4.6-.7 -4.3-3 -2.6-4.7 -2.9-2.4 -3.6-1.2 -2.6-4.1 .4-4.8 -3.4-2.8 -4.2-.5 -3.7-2.9 -3.6-3.6 -5-2.5 -1.2-4.2 2.5-4.8 .3-6.2 -1.1-4.5 -3.9-2.7 -5.6-.8 -3.3-4.8 -2-5.6 -3.5-4.6 -.4-5.2 -.8-4.5 -4.2-4.6 -.9-5.9 4.8-2.8 5.5-1.9 2.8-2.7 1.3-3.8 1.7-4.5 4-2.9 4.3-1.7 4.4-3 3.6-1.2 4-2 2.6-3.3 4-4.2 3.8-3.9 3.1-4.3zM508.1 608.9l4 1.7 5.5 .5 5.6-1 5.6-1 3.9-.5 4.4-.6 4.3-.7 4.3-.6 4.5 .7 3.9 .9 4.8 1.3 4.2 2 3.2 3.6 3 4.1 3.9 2.2 3.7 1.1 3.9 2.6 2.8 4.2 1.9 4.6 3.4 4 3.6 3.1 2 4.4 .7 4.6 -.3 4.5 -2.3 4.5 -2.5 4.5 -.8 5.1 -2.4 4.5 -4 3.3 -2.8 4.1 -2.5 3.8 -3.1 3.2 -3.6 3.4 -4.3 3 -4.8 2 -4.8 2.3 -5.4 2 -5.6 1.5 -4.8 2.1 -4.6 1 -4.4-.8 -4.4-1.1 -4.1-1.5 -3.6-2.5 -4.3-2.2 -4.8-2.2 -4.8-3.3 -4-4.1 -3.1-3.4 -3.6-2.6 -4-1.3 -3.7-1.9 -3.1-1.8 -2.3-1.7 -.8-4.6 .4-6.1 -2.3-5.3 -3.6-5.2 -1.9-3.9 -.9-4.6 .5-4.8 2.2-5.9 3.7-4.9 4.9-2.8 3.7-4 3.7-5 4.6-3.3 4.2-2.5 3.6-1.4 1.9-1z" fill="#ff6060" fill-opacity="0.1" fill-rule="evenodd" stroke="#b74545" stroke-dasharray="6.29 2.72"/>
<path d="M508.1 608.9l4 1.7 5.5 .5 5.6-1 5.6-1 3.9-.5 4.4-.6 4.3-.7 4.3-.6 4.5 .7 3.9 .9 4.8 1.3 4.2 2 3.2 3.6 3 4.1 3.9 2.2 3.7 1.1 3.9 2.6 2.8 4.2 1.9 4.6 3.4 4 3.6 3.1 2 4.4 .7 4.6 -.3 4.5 -2.3 4.5 -2.5 4.5 -.8 5.1 -2.4 4.5 -4 3.3 -2.8 4.1 -2.5 3.8 -3.1 3.2 -3.6 3.4 -4.3 3 -4.8 2 -4.8 2.3 -5.4 2 -5.6 1.5 -4.8 2.1 -4.6 1 -4.4-.8 -4.4-1.1 -4.1-1.5 -3.6-2.5 -4.3-2.2 -4.8-2.2 -4.8-3.3 -4-4.1 -3.1-3.4 -3.6-2.6 -4-1.3 -3.7-1.9 -3.1-1.8 -2.3-1.7 -.8-4.6 .4-6.1 -2.3-5.3 -3.6-5.2 -1.9-3.9 -.9-4.6 .5-4.8 2.2-5.9 3.7-4.9 4.9-2.8 3.7-4 3.7-5 4.6-3.3 4.2-2.5 3.6-1.4 1.9-1z" fill="#bb3535" fill-opacity="0.1" stroke="#862626" stroke-dasharray="6.29 2.72"/>
<path d="M471.9 587l3.6-2.1 4.6 .2 4.2 .4 4.8-1.5 4.4-.7 3.7 0 4-.8 3.8-2 4.8-1.5 5.5 .1 5.4 .1 5.5-.5 5.5-.3 4.9 .8 5.6 1.8 5.5 .7 4.3 .4 4.4 1 4.1 1 5.6 1.9 5.2 1.7 5.2 1.1 4.7 2 3.7 3.6 4 3 5.1 .8 4.8 1.8 3.4 4 3.5 3.7 4.3 2.9 3.1 4.1 1.6 4.7 1.7 4.7 -.4 5.2 -.5 5.4 3.5 3.4 3.9 3.4 -.7 5.6 -2 5.7 0 4.4 -1.4 4.3 -2.2 3.9 -.3 5.8 .6 5.7 -1.6 3.9 -2.7 3.3 -2.1 3.4 -1.2 5.4 -1.9 5 -4.8 3.6 -3.8 4.4 -.8 4.5 -1.6 4 -3.6 2.6 -4.1 2.4 -3.2 3.3 -3.2 2.8 -4.3 3.1 -3.3 3.8 -4.8 3.4 -6.3-1 -4.4-1.2 -4.4 .8 -3.9 1.3 -4.5-.2 -3.6-.5 -2.9 2.3 -1.4 3.2 -1 2.7 -2.5 1.7 -2.8-1.7 -1.2-3 .2-3 -1.7-3.2 -4.9-0 -5.6 .6 -5.2-2.2 -5.9-1.4 -4.2-1.4 -3.1-3.3 -3.2-3.3 -6-.2 -5.7 .8 -4.8-1.4 -4.5-1.2 -4.7-2.3 -3.4-3.8 -2.7-2.7 -2.2-2.4 -1.2-4.4 -1.5-4.3 -4-.8 -4.7-.2 -3.9-3.6 -2.7-4.9 -4.4-3 -3.1-3.9 2.4-5.5 .7-5.8 -.7-3.8 -.9-5.1 -4.6-2.6 -5.9-1.5 -1-5.9 -.8-5.3 -3.8-3.9 -1.4-4.5 -1.1-6.3 -2.9-3.7 3.5-3.3 6-1.2 2.8-3.1 1.3-3.8 1.8-4.4 3.5-3.2 4.6-.9 4.6-2.9 2.8-2.6 4.2-1.7 3.9-1.9 2.2-6 3.3-4.4 5.6-1.5zM508 608.4l4.3 1 5.3 1 5.3-1.5 5.7-1.5 4.2 .2 4.3 .5 4.3 .5 4.4-.1 4.4-.3 3.9 .3 4.2 2.1 3.7 2.7 4 2.3 4 2.2 4 1.5 3.8 1.9 3.4 3.7 2.8 4.3 1.9 4.7 1.8 4.6 2.3 4.1 1.9 4.1 1.4 3.7 .8 4.1 -1.1 4.7 -2.2 4.6 -1.4 5 -1.6 5 -3.2 4.1 -3.7 3.5 -2.8 3.5 -3.2 3.1 -4.3 2.7 -4.3 2.7 -3.9 3.8 -4.7 2.8 -6.1 .4 -5.7 .8 -4.7 2.6 -4.6 1.3 -4.2-1.5 -3.7-2.4 -3.7-2.2 -4.1-1.9 -4.9-.9 -5-1.6 -4.6-3.6 -4.5-3.4 -3.5-3.2 -3-3 -4-1.5 -4-.6 -3.9-1.2 -2.7-2.8 -.2-5.3 .1-6 -1.2-5.5 -2.1-5.5 -1.3-4.1 -.1-4.5 .4-4.1 .3-6 2.2-5.5 4.5-3.6 4.3-3.7 4.3-4.1 4.8-2.7 4.5-2 3.6-1.9 1.4-1.5z" fill="#ed78ff" fill-opacity="0.1" fill-rule="evenodd" stroke="#aa56b7"/>
<path d="M508 608.4l4.3 1 5.3 1 5.3-1.5 5.7-1.5 4.2 .2 4.3 .5 4.3 .5 4.4-.1 4.4-.3 3.9 .3 4.2 2.1 3.7 2.7 4 2.3 4 2.2 4 1.5 3.8 1.9 3.4 3.7 2.8 4.3 1.9 4.7 1.8 4.6 2.3 4.1 1.9 4.1 1.4 3.7 .8 4.1 -1.1 4.7 -2.2 4.6 -1.4 5 -1.6 5 -3.2 4.1 -3.7 3.5 -2.8 3.5 -3.2 3.1 -4.3 2.7 -4.3 2.7 -3.9 3.8 -4.7 2.8 -6.1 .4 -5.7 .8 -4.7 2.6 -4.6 1.3 -4.2-1.5 -3.7-2.4 -3.7-2.2 -4.1-1.9 -4.9-.9 -5-1.6 -4.6-3.6 -4.5-3.4 -3.5-3.2 -3-3 -4-1.5 -4-.6 -3.9-1.2 -2.7-2.8 -.2-5.3 .1-6 -1.2-5.5 -2.1-5.5 -1.3-4.1 -.1-4.5 .4-4.1 .3-6 2.2-5.5 4.5-3.6 4.3-3.7 4.3-4.1 4.8-2.7 4.5-2 3.6-1.9 1.4-1.5z" fill="#8342c1" fill-opacity="0.1" stroke="#5e2f8a"/>
</g>
<g clip-path="url(#c30)" stroke-width="1.7" stroke-linejoin="round">
<path d="M243 919.3l3-.8 3.7 2 3.2 3.9 2.8 4.5 4.3 2.9 5.3-.5 5.4 .7 4.2 3.7 5.9-.6 5.4-1.8 3.3 2.4 3 2.8 3.8 2.1 2.7 4.1 1.6 4.3 3.4 3.5 3.4 3.2 2.8 4.5 3.2 3.8 2.9 4.4 1.3 5.4 2 5.5 1.9 5.4 1.1 5.2 1.6 4.6 3.2 2.9 3.5 3 1.1 5.6 -2.2 5.7 -.4 3.7 -0 4.9 -2 3.4 -3.6 4 -1.2 4.9 -1.3 4 -3 3.3 -2.2 3.8 -1.2 4.3 -2.7 3.4 -4.1 1.5 -3.9 1.7 -4 2.5 -4.4 .9 -5.8 .3 -5.5 1.7 -4.1 1.4 -4.5 1.1 -4.2 1.2 -5.5 1.9 -5.6 1.3 -4.1-.7 -4.2-1.1 -4.5 .3 -4.8 .3 -4.9-1.3 -4.7-.6 -4.6-.1 -4.2-1.4 -3.7-1.4 -5.6-1.4 -4.5-3.2 -3-3.1 -3.9-1.7 -4.4-.7 -5.3-2.8 -3.6-4.5 -3.2-3.4 -3.5-2.6 -2.8-4.1 1-5.5 2.4-3.6 1.4-4.6 .8-4.6 .3-4.2 -.8-4.2 .1-4.4 3.2-3.8 2.3-3.9 -1-5.4 .7-4.6 3.9-3.3 2.3-4.1 .2-5.3 2.4-4.7 1.2-4.7 .8-4.7 3-3.2 3.4-2.7 1.7-4 1.9-4 3.5-2.2 4.5-3.5 3.4-4 4.9-.4 4.7-.4 4.2-2.3 4.2-2 1.7-5.2zM194.2 940.1l2.4-.6 2.4 .6 .6 2.4 -.6 2.3 -2.4 .6 -2.4-.6 -.6-2.3zM240 961.2l4.3-1.8 5 .1 5.6-.6 5.6-.3 3.8 1.1 3.7 1.8 3.6 1.9 3.7 1.9 3.6 2.3 2.7 3.3 2 4.3 2.7 3.8 3.4 3.2 2.7 5.2 1.1 5.6 1.7 4 1.4 4.4 -0 4.2 -.2 4.9 -.1 4.6 -1.4 5.7 -2.1 5.7 -2.9 5.2 -4 4 -3.2 2.1 -3.7 1.8 -4.1 1.2 -4.1 1.1 -4.2 1.3 -4.4 .9 -4.9 .3 -4.9 .2 -4.6 .1 -6-.3 -5.2-1.2 -4.2-3.5 -3.8-3.8 -4.2-2 -3.9-2.6 -3.3-4.7 -2.7-5.1 -1.7-5.4 -.5-5.8 1.3-5.7 2.5-5.3 2.4-4.8 1.9-5 2.2-4.9 3.1-4.4 2.7-5 2.9-5.1 3.1-3.1 3.2-3.1z" fill="#53b7ff" fill-opacity="0.1" fill-rule="evenodd" stroke="#3b83b7" stroke-dasharray="1.70 2.80"/>
<path d="M240 961.2l4.3-1.8 5 .1 5.6-.6 5.6-.3 3.8 1.1 3.7 1.8 3.6 1.9 3.7 1.9 3.6 2.3 2.7 3.3 2 4.3 2.7 3.8 3.4 3.2 2.7 5.2 1.1 5.6 1.7 4 1.4 4.4 -0 4.2 -.2 4.9 -.1 4.6 -1.4 5.7 -2.1 5.7 -2.9 5.2 -4 4 -3.2 2.1 -3.7 1.8 -4.1 1.2 -4.1 1.1 -4.2 1.3 -4.4 .9 -4.9 .3 -4.9 .2 -4.6 .1 -6-.3 -5.2-1.2 -4.2-3.5 -3.8-3.8 -4.2-2 -3.9-2.6 -3.3-4.7 -2.7-5.1 -1.7-5.4 -.5-5.8 1.3-5.7 2.5-5.3 2.4-4.8 1.9-5 2.2-4.9 3.1-4.4 2.7-5 2.9-5.1 3.1-3.1 3.2-3.1z" fill="#2e66c1" fill-opacity="0.1" stroke="#21498a" stroke-dasharray="1.70 2.80"/>
<path d="M247.3 904.8l4 4.2 4.1 2.9 5.4 1.6 4.6 3.2 4 3.7 5.3 1.8 4.6 .3 4.7 .9 4.6 1.2 5.6 3.7 2.8 5 3.4 3.5 3.2 4.1 1 6.6 2.9 5 2 5 -1.5 6.1 .1 5.3 3.2 4.4 4.1 3.1 2.4 2.1 .6 3.1 -.2 4.9 2.5 5.6 3.5 5.3 .2 5 -.7 4.8 -1 4.5 -1.7 4.4 -1 5.1 -1.8 5.2 -4.6 3.9 -2.7 5 -2.1 5.3 -3.5 3.8 -3.4 3.9 -3.4 3.8 -4.4 2.4 -5.6 1.8 -4.5 1.7 -4.8 1.9 -4.6 .6 -5-.1 -4.5 .7 -4.9 1.1 -4.7 1.3 -3.6 2.5 -4.2 1.4 -5.2-2.2 -6.2 1.6 -3.5 2.7 -4.5-1.2 -4.6-2.8 -5.7-1.1 -5.4-1.8 -5.3-2.6 -5.5-1.5 -4.9-3.7 -5.5-1.3 -4.2-.3 -3.6-2.4 -4-2.1 -4.8 1.5 -3.9 2.3 -4.8-1.1 -2.7-3.8 .8-3.7 1.4-3.4 .6-3.9 .1-3.9 -1.2-3.6 -1-5 2.3-5.9 4.4-4.7 4.3-3.6 4.4-2.8 3.3-4.3 .9-5.9 2.8-3.2 4.5-2.5 2.8-3.3 .6-4.1 1.8-3.7 3-3.3 .5-6.1 .4-6.3 2.8-3.9 .8-4.5 -.3-4.6 3.6-4.4 4.1-4.2 2-4.1 2.2-4.1 2.3-4 3.1-3 3.7-2.2 2.3-3.1 .5-5.4 2.5-4.3 4.9-2.6 3.8-3.5 3.9-2.6zM239.7 958.9l4.7 .4 5-.4 5.4-1.4 5.8 .4 3.6 1.5 3.8 1.3 3.9 1.4 3.3 2.5 2.5 3.5 2.6 3.2 4.1 2.5 4.4 2.7 2.5 4 .6 4.5 .2 4.2 .4 4.1 .7 4.2 .5 4.2 .9 3.7 1.5 6.4 -1.7 6.1 -4.6 3.2 -4.9 2.6 -3.2 4.6 -2.5 5.8 -4.5 4 -5.9 1.5 -5.1 1.6 -4.8 1.7 -5.5 .5 -5.7 .8 -4.1 1.1 -4.5-.2 -4-1.5 -4-1 -4.3-.6 -3.8-1.1 -4.3-3.9 -2.9-4.5 -2.9-4.1 -3.6-4.2 -3.3-4.8 -1.4-5.8 .8-4.3 1.4-4.3 1-4.2 .7-5.9 1.3-5.7 1.6-3.8 2.6-3.3 3.1-2.9 2.8-2.9 2.2-3.6 1.9-3.7 3.1-4.6 3.9-3.3 4.2-1.8z" fill="#16ffb6" fill-opacity="0.1" fill-rule="evenodd" stroke="#0fb783" stroke-dasharray="10.88 2.72 1.70 2.72"/>
<path d="M239.7 958.9l4.7 .4 5-.4 5.4-1.4 5.8 .4 3.6 1.5 3.8 1.3 3.9 1.4 3.3 2.5 2.5 3.5 2.6 3.2 4.1 2.5 4.4 2.7 2.5 4 .6 4.5 .2 4.2 .4 4.1 .7 4.2 .5 4.2 .9 3.7 1.5 6.4 -1.7 6.1 -4.6 3.2 -4.9 2.6 -3.2 4.6 -2.5 5.8 -4.5 4 -5.9 1.5 -5.1 1.6 -4.8 1.7 -5.5 .5 -5.7 .8 -4.1 1.1 -4.5-.2 -4-1.5 -4-1 -4.3-.6 -3.8-1.1 -4.3-3.9 -2.9-4.5 -2.9-4.1 -3.6-4.2 -3.3-4.8 -1.4-5.8 .8-4.3 1.4-4.3 1-4.2 .7-5.9 1.3-5.7 1.6-3.8 2.6-3.3 3.1-2.9 2.8-2.9 2.2-3.6 1.9-3.7 3.1-4.6 3.9-3.3 4.2-1.8z" fill="#0c9165" fill-opacity="0.1" stroke="#086848" stroke-dasharray="10.88 2.72 1.70 2.72"/>
<path d="M247.4 904.5l4.6 2.6 4.6 2.5 5.3 1.9 4.5 3.6 4.2 3 3.7 5.4 3.6 4.3 4.4 .8 3.3-.4 4 3.1 4.7 3.8 2.7 4.4 2.8 4.3 5.7 3 2.6 5.4 1 5.5 2.5 4.4 1.7 4.2 1.4 4.3 2.1 4.4 1.1 3.4 2.1 3.1 3.6 4.8 -.2 5.6 .8 5.5 1.9 4.7 -.5 5 .6 5.2 -0 5.6 -4.5 4.1 -3.5 4.4 -2.9 5.1 -5.1 3.1 -3.9 2.9 -3.9 3.2 -3.3 4.1 -3.3 4 -5 1.6 -4.3 2.8 -2.2 5.3 -4 3.7 -5 .6 -5.3 .2 -4.6 .4 -4.8 1.5 -4.7 .7 -4.2-.5 -3.9 0 -5.3-.1 -5.6-3.8 -4.8-.3 -4.2 2.6 -4 .5 -5.5-1.6 -6.3 2 -5.6-.9 -5.4-2.1 -6.1-.1 -5.3-3 -3.6-2.7 -3.4-2.7 -3.4-2.2 -4.5-.1 -3.4 .2 -2.5-3 -.3-2.2 .3-.5 -.6-3.7 -1-4.5 -.7-4.2 -1.9-3.6 -.4-5 3.7-4.9 3.6-5 4.4-3.4 4.2-3.2 2-5.1 4.4-4.4 2.4-3.3 .6-4.3 1.2-3.9 2-3.5 .4-4.3 -.2-4.4 4-4.7 2.7-5.5 -.5-4.7 1.8-4.3 2.8-3.6 3.4-4.4 4-4.3 1.8-4.2 1.6-4.7 3-3.3 3.8-2.3 3.9-1.8 3.7-2.5 1.4-5.3 .2-5.4 3.9-3.6 4.4-2.1 3.7-2.4zM239.7 958.8l4.6-.5 5.1 1.2 5.5-1.3 5.9-2 4.1 1.1 3.4 2.8 3.2 2.6 3.4 2.3 3.4 2.4 3 3 2.9 3.5 2.4 4.1 1.9 4.1 1.8 3.6 2.1 3.4 1.9 3.6 1.4 4.2 .8 4.4 .5 4.3 -1.2 6.1 -2.7 5.4 -3.2 4.2 -3.8 3.5 -4.1 3.7 -4.3 3.7 -4.5 3.6 -4.4 3.8 -4.8 2.1 -5.5-.1 -5.1 1.4 -5.6 3 -4.3-.1 -4.3-1.4 -4.1-.9 -4.1-.8 -3.7-1.7 -3.5-2 -5.3-1.6 -4.3-3.1 -2.6-5.2 -3.2-4.7 -2.2-5.1 -.2-5.8 .3-4.3 .5-4.4 .6-4.2 1.2-5.8 1.8-5.5 1.3-3.9 1.2-4 2.2-3.5 3.6-2.6 3.7-2.5 2.4-3 3.3-4.3 4-2.6 3.8-2.1z" fill="#ff6060" fill-opacity="0.1" fill-rule="evenodd" stroke="#b74545" stroke-dasharray="6.29 2.72"/>
<path d="M239.7 958.8l4.6-.5 5.1 1.2 5.5-1.3 5.9-2 4.1 1.1 3.4 2.8 3.2 2.6 3.4 2.3 3.4 2.4 3 3 2.9 3.5 2.4 4.1 1.9 4.1 1.8 3.6 2.1 3.4 1.9 3.6 1.4 4.2 .8 4.4 .5 4.3 -1.2 6.1 -2.7 5.4 -3.2 4.2 -3.8 3.5 -4.1 3.7 -4.3 3.7 -4.5 3.6 -4.4 3.8 -4.8 2.1 -5.5-.1 -5.1 1.4 -5.6 3 -4.3-.1 -4.3-1.4 -4.1-.9 -4.1-.8 -3.7-1.7 -3.5-2 -5.3-1.6 -4.3-3.1 -2.6-5.2 -3.2-4.7 -2.2-5.1 -.2-5.8 .3-4.3 .5-4.4 .6-4.2 1.2-5.8 1.8-5.5 1.3-3.9 1.2-4 2.2-3.5 3.6-2.6 3.7-2.5 2.4-3 3.3-4.3 4-2.6 3.8-2.1z" fill="#bb3535" fill-opacity="0.1" stroke="#862626" stroke-dasharray="6.29 2.72"/>
<path d="M247 907.6l4.6 .5 3.9 3.7 4.4 3.3 6 .9 4.3 2.8 4.3 4.1 4.5 .8 5.1-.7 4.6 1.5 2.4 5.8 1.8 5.7 3.8 3.7 4.4 3.1 4 4.3 1.3 6 1.6 5.1 3.4 4 1.4 4.4 1.1 4.6 4.4 2.2 4.8 2.5 -.5 5.4 -2.4 5.2 2.3 5.5 1.2 5.5 -1 5.2 1.3 4.5 1.8 5.1 -2.1 4.7 -4.4 3.8 -1.9 5.2 -1.7 5.8 -3.6 4.5 -4.3 3.1 -4.3 2.6 -3.9 3.4 -3.8 3.5 -4 2.7 -4.1 3.5 -3.6 3.1 -4.9 1.8 -4.5 .7 -4.9 1.4 -4.4 1.4 -4.8 1.2 -4.8 .3 -4 .3 -4 .2 -5.3-.4 -6-.5 -4.1-.1 -4.4-.2 -4.2-.1 -5.8-.1 -5.4-1.6 -5.3-2.4 -6 .2 -5.8-.5 -5.2-3.3 -3.6-2.2 -3.8-2 -3.7-1.1 -4.4 1.1 -4.1 1 -4-2.6 -1.7-3.7 .9-2.6 .9-3.5 .4-4.1 .7-4.1 -.4-3.9 -.2-4 1.5-5.2 3.3-4.9 5.1-2.6 4-3.7 1.7-5.5 3.1-5.1 1-3.9 .1-4.4 2.3-3.5 3.9-2.7 1.8-3.7 -.6-4.6 1.8-5.6 3.4-5.2 .6-4.4 1.1-4.5 1.4-4.2 2.9-4.9 4.6-3.9 1.8-4.3 1.5-4.7 4-2.6 3.8-2.3 2.3-3.9 2.2-2.9 4.1-3 2.6-3.3 2.9-3.8 4.3-1.8 3.6-.9zM239.9 959.8l4.4-1.6 5-.5 5.6 .8 5.6-.3 4 .2 3.7 1.9 3.1 2.8 3.4 2.1 4.1 1.6 3.3 2.9 1.7 4.5 2.3 4.1 3.6 3.1 2.3 3.5 .5 4.1 .5 4.1 2.3 3.9 2.3 4.2 -.5 4.4 -3.2 5.4 -1.3 5.8 -2.6 4.5 -4.2 3.2 -3.4 4.4 -3.7 4.6 -5.7 2.1 -4.9 2.7 -4 3.7 -5 1.7 -5.6 .4 -5.7 .8 -4.2-.2 -4.3-1 -4.2-.2 -4.3-.2 -3.9-1.5 -3.1-2.6 -4.8-2.8 -4.8-2 -3.8-4.3 -2.3-5.4 -1.7-5.3 -.5-5.8 .6-4.2 1-4.3 .6-4.2 .6-6 2-5.4 2.2-3.5 1.6-3.7 1.2-3.9 2-3.8 3.2-3 3.2-2.5 3.7-3.9 3.8-3 4.2-1.3z" fill="#ed78ff" fill-opacity="0.1" fill-rule="evenodd" stroke="#aa56b7"/>
<path d="M239.9 959.8l4.4-1.6 5-.5 5.6 .8 5.6-.3 4 .2 3.7 1.9 3.1 2.8 3.4 2.1 4.1 1.6 3.3 2.9 1.7 4.5 2.3 4.1 3.6 3.1 2.3 3.5 .5 4.1 .5 4.1 2.3 3.9 2.3 4.2 -.5 4.4 -3.2 5.4 -1.3 5.8 -2.6 4.5 -4.2 3.2 -3.4 4.4 -3.7 4.6 -5.7 2.1 -4.9 2.7 -4 3.7 -5 1.7 -5.6 .4 -5.7 .8 -4.2-.2 -4.3-1 -4.2-.2 -4.3-.2 -3.9-1.5 -3.1-2.6 -4.8-2.8 -4.8-2 -3.8-4.3 -2.3-5.4 -1.7-5.3 -.5-5.8 .6-4.2 1-4.3 .6-4.2 .6-6 2-5.4 2.2-3.5 1.6-3.7 1.2-3.9 2-3.8 3.2-3 3.2-2.5 3.7-3.9 3.8-3 4.2-1.3z" fill="#8342c1" fill-opacity="0.1" stroke="#5e2f8a"/>
</g>
<g clip-path="url(#c31)" stroke-width="1.7" stroke-linejoin="round">
<path d="M592.3 925.3l3.8-1.4 3.9 1.2 3.2 2.2 3.9 1.8 2.9 3 .9 4.2 1.9 2.3 1.7 1.4 2.4 2.7 1.6 4.5 -.7 4.7 -.6 4.2 -.3 4.2 .2 4.3 1.5 4.3 1.1 4.3 -.8 4 -1.6 4.9 -1.1 4.7 -.9 4.9 -.2 4.6 -2.5 4.1 -4.5 2.4 -3.7 3.7 -1.2 5.7 -1.3 4 -2.2 3.8 -2.7 3.4 -3 3 -2.6 3.2 -2.3 3.4 -4 3.9 -4.2 3.6 -4.1 4.2 -5.4 2.3 -5 2.9 -4.3 3.7 -4.7 3.1 -4.9 2.5 -5.4 0 -5.7 .9 -4 1.2 -4.6 0 -4.3 .9 -3.9 2.2 -4.3 1 -4.3-.3 -4.3 .5 -4.3 .7 -4.2-.6 -5.7 1.1 -5.4 2.8 -5.7-2 -5.1-3.1 -5-.2 -4.8 .7 -5.4-.6 -3.8-3.2 -.6-4.7 -2.1-4.6 -4.4-2 -4.5-2.5 -3-3.7 -2.5-3.4 -2.5-2.7 -1.9-3 -.9-3.2 .5-3.2 1.4-4 1.7-4.8 3.8-2.7 3.5-4 -1.3-5.3 .9-5.3 2.9-3.5 3.3-4.1 5.2-1.8 4.3-.9 2.8-3.3 2-4.2 5.3-2.6 5.1-2.4 4.6-2.8 4.9-2.1 3.6-3.6 3.7-3.5 4.9-3.1 3.7-4.1 3.6-3.1 4-2.1 4-2.1 4-2.6 4.5-3.4 5.3-2.3 4.6-1.8 4.4-2.4 5-2.4 4.8-2.7 4.7-1 4.9 .7 5-2.3 4.3-3.4 5.1 0 4.6 .3 3.4 .3 2.8 .4 3.6-1.9zM582.6 958.4l4.2 2 3.8 2.6 1.7 4.4 .3 5.2 1 4.8 .8 4.7 -1.3 4.2 -2.3 3.5 -1.2 2.9 -.8 3.6 -.9 3.6 -1.8 4 -1.9 3.5 -2.2 4.3 -2.5 3.7 -3.1 3.1 -3.3 3.2 -3.8 3.2 -4.1 3.2 -4.6 3.4 -4.9 3 -4.8 2 -4.8 1.6 -5.3 2 -5.7 1.9 -4.2 .5 -4.4 .3 -4.2 1 -4.2 1 -4.2 0 -4.2-.4 -4.4-.1 -4.4-.6 -3.9-1.4 -5.1-1.7 -4.6-1.3 -3.8-2.7 -2.4-3.8 -1.5-3.8 -.7-4.1 .9-4.9 2.8-4.7 3.9-4 4-3.9 4.2-3.2 4.1-2.8 3.4-3 3.7-2.8 5.1-2.5 4.1-4.2 1.9-5.9 3.4-4.4 4.2-2.2 4.2-2.1 4.5-2.6 4.9-2.3 5.6-1.7 5.5-1.8 4.9-1 4.6-.3 4.5-1.7 3.7-2.7 3.6-2.2 4-1.2 4.1 .2z" fill="#53b7ff" fill-opacity="0.1" fill-rule="evenodd" stroke="#3b83b7" stroke-dasharray="1.70 2.80"/>
<path d="M582.6 958.4l4.2 2 3.8 2.6 1.7 4.4 .3 5.2 1 4.8 .8 4.7 -1.3 4.2 -2.3 3.5 -1.2 2.9 -.8 3.6 -.9 3.6 -1.8 4 -1.9 3.5 -2.2 4.3 -2.5 3.7 -3.1 3.1 -3.3 3.2 -3.8 3.2 -4.1 3.2 -4.6 3.4 -4.9 3 -4.8 2 -4.8 1.6 -5.3 2 -5.7 1.9 -4.2 .5 -4.4 .3 -4.2 1 -4.2 1 -4.2 0 -4.2-.4 -4.4-.1 -4.4-.6 -3.9-1.4 -5.1-1.7 -4.6-1.3 -3.8-2.7 -2.4-3.8 -1.5-3.8 -.7-4.1 .9-4.9 2.8-4.7 3.9-4 4-3.9 4.2-3.2 4.1-2.8 3.4-3 3.7-2.8 5.1-2.5 4.1-4.2 1.9-5.9 3.4-4.4 4.2-2.2 4.2-2.1 4.5-2.6 4.9-2.3 5.6-1.7 5.5-1.8 4.9-1 4.6-.3 4.5-1.7 3.7-2.7 3.6-2.2 4-1.2 4.1 .2z" fill="#2e66c1" fill-opacity="0.1" stroke="#21498a" stroke-dasharray="1.70 2.80"/>
<path d="M557.3 914.6l4 .7 4.8 1.8 4.4 3.6 5.9 .7 5-2.8 3.9-3.1 4.1-3.1 3.8-.7 2.2 1 2.7-.3 2.9 1.7 1.9 4.3 3.9 3.5 4.6 2.9 -.3 4.9 -1.2 4.6 .9 4.8 -.3 5 1.2 5.4 3.6 4.2 1.5 5.2 -1.1 5.7 -1.3 5.4 .8 5.5 .9 6.3 -1.7 5.5 -.9 5 -.8 5.4 -1.8 4 -2.7 3.7 -2.9 3.3 -3.3 4.8 -2.9 5.1 -3.2 2.7 -3.3 2.7 -2.4 3.6 -3.3 3.1 -4.7 1.9 -3.1 3 -3.9 4.5 -6 1.1 -4.7 3.3 -4.6 3.4 -3.9 .8 -3.8 1.2 -3.6 1.6 -5.2 2.2 -5.1 3.5 -3.9 1.8 -4.2 1.3 -4 1.8 -4.3 .6 -4.6-.4 -4.1 1.7 -3.9 2.5 -4.5 .1 -4.6-1.2 -4.4-.1 -4.2-.1 -4.2-.8 -4.3-.1 -4.4 .2 -4-0 -5.2 .8 -4.4 .1 -4.6-1.5 -4.8-1 -4.7-.8 -3.6-2.7 -2.3-3.3 -4-3.6 -5.4-2.2 -3.9-.4 -3.3-1 -1.2-3.3 .3-3.9 -2.1-4.7 -1.7-4.3 -.7-3.9 -2-3.4 -1.2-3.3 3.6-2.3 5.4-2.1 2.5-3.4 2.6-3.6 2.6-3.3 4-4.5 4.3-3.3 4.1-3.7 3.9-4.2 4.9-3.3 4.9-2.8 3.7-4 3.5-4.7 5.5-2.5 5-2.8 2.7-3.1 3.1-2.9 2.9-2.8 3.8-3.5 5.1-1.8 4.9-2.9 3.6-4.6 5.5-2 4.6-3.5 2.4-5.6 3.8-4.7 4.9-2.8 4.9-1.6 4.7-1.5 4.3-1 4.1-1.2 2.7-3.4 1.5-4.8 3.6-2.9 2.3-.9zM557.2 952l4.4-.1 4.3 .4 3.8 .9 3.9 2.5 3.2 3.3 2.7 4 1.5 5.1 2.3 4.8 2.7 4.2 .6 4.9 -1 5.5 -1.4 5.4 -1.6 4.6 -.1 4.9 .3 5.6 -2 5 -3.5 3.9 -3.8 3.6 -4.2 3 -3.8 3.4 -3.6 3.3 -4.5 2.2 -4.9 1.7 -5.4 1.1 -5.7 .4 -5.1 3.1 -5.1 2.9 -5.6 1.1 -4.1 1.4 -4.2 1 -4.4-.2 -4.3 .1 -4.3 1.2 -4.4 .3 -5.7-1.9 -5.2-2.3 -4.5-2.8 -3.8-2.5 -3.7-1.7 -3.9-2.5 -3.3-4.1 -1.9-5.4 1.8-5.9 3.5-5.2 2.9-4.9 4.2-4 4-3.8 3.9-3.9 4.5-3.5 3.1-4.7 3.5-5 4.4-3.6 4.4-3.8 6-1.4 4.5 .2 3.9-1 3.5-2 5.6-2.5 5.2-2.6 4.2-2.1 3.9-1.7 3.2-2.4 2.8-2.9 2.8-2.7z" fill="#16ffb6" fill-opacity="0.1" fill-rule="evenodd" stroke="#0fb783" stroke-dasharray="10.88 2.72 1.70 2.72"/>
<path d="M557.2 952l4.4-.1 4.3 .4 3.8 .9 3.9 2.5 3.2 3.3 2.7 4 1.5 5.1 2.3 4.8 2.7 4.2 .6 4.9 -1 5.5 -1.4 5.4 -1.6 4.6 -.1 4.9 .3 5.6 -2 5 -3.5 3.9 -3.8 3.6 -4.2 3 -3.8 3.4 -3.6 3.3 -4.5 2.2 -4.9 1.7 -5.4 1.1 -5.7 .4 -5.1 3.1 -5.1 2.9 -5.6 1.1 -4.1 1.4 -4.2 1 -4.4-.2 -4.3 .1 -4.3 1.2 -4.4 .3 -5.7-1.9 -5.2-2.3 -4.5-2.8 -3.8-2.5 -3.7-1.7 -3.9-2.5 -3.3-4.1 -1.9-5.4 1.8-5.9 3.5-5.2 2.9-4.9 4.2-4 4-3.8 3.9-3.9 4.5-3.5 3.1-4.7 3.5-5 4.4-3.6 4.4-3.8 6-1.4 4.5 .2 3.9-1 3.5-2 5.6-2.5 5.2-2.6 4.2-2.1 3.9-1.7 3.2-2.4 2.8-2.9 2.8-2.7z" fill="#0c9165" fill-opacity="0.1" stroke="#086848" stroke-dasharray="10.88 2.72 1.70 2.72"/>
<path d="M557.2 909l5.1 .2 5.4 1.8 5 .7 3.5 .7 2.9 .4 3.9-.9 3.9-3.1 4.8-2 4.6 1.3 3.3 2.3 2 3.2 1.7 4.5 2.9 4.3 3.3 3.2 .7 4.1 -1.3 4.5 -.3 4.8 1.3 5.2 2.6 4.9 2.7 4.6 2.5 5.2 .4 5.7 -.2 5.6 -.6 5.8 -1.2 5.8 -.1 6 -2.2 4.6 -4.3 3.9 -2 3.5 -1.6 4.2 -3.2 3.1 -4.3 4 -2.3 5.3 -3 2.7 -4 1.9 -2.7 3.1 -1.6 4.6 -2.4 4 -3.5 2.6 -4.6 3.5 -4.3 3.7 -4.1 4.1 -4.8 3.2 -4 1.3 -3.9 1.2 -3.9 1.1 -5.7 1 -5.6 1.5 -4 1.2 -4.4 .2 -4.4 .2 -4.3 1.1 -4.2 1.4 -4.2 1.1 -4 1.8 -4 1.9 -4.4 .1 -4.2-1.1 -4.2 .1 -4.3 1.3 -4.2 .2 -4.5-.6 -4 .2 -5.2 .4 -4.4-.6 -4.5 .2 -5 .8 -5.3-1.1 -4.5-2.7 -3.2-3.4 -3.3-2.5 -4.5-.5 -4.8-1.5 -3.2-3.5 -2-3.9 -1.3-4.3 -1.7-4.7 -1.1-4.1 -.4-4 -1.4-4 -.6-4.4 3.8-3.2 5.5-2 2.5-3.3 2.5-3.7 3.9-1.8 5.7-1.8 4-4.2 4.5-3.5 4.3-3.5 4-4.1 5.4-2.3 3.9-4.2 3.2-4.8 5.1-2.6 4-4.3 3.1-2.7 4.5-1.3 3.5-2 2.5-5 3.7-3.5 5.9-1.5 4.8-3.3 5.1-3 4.3-3.8 3-4.9 4.2-2.8 4.1-1.9 4.6-1.5 5.5-.2 4.5-3.2 1.5-5.6 2.1-3.7 3.6-3.4 1.3-4.2 1.1-3.3zM557.3 953.2l3.7 .7 4.1 1.5 4.1 .5 4 .6 3.5 2.6 2.4 4.1 3.2 4.2 3 4.7 .5 5.1 .7 4.8 .2 5.6 -1.8 5.4 -.6 4.9 -1.2 4.7 -2.4 4.5 -1.1 5.2 -1.9 5 -3.7 3.8 -3.8 3.5 -4.9 2.1 -4.9 1.4 -3.6 3.1 -4.2 3.2 -5.2 1.6 -5.2 2.3 -5.5 1.8 -5.5 1.3 -5.6 1.2 -4.2 .2 -4.3 .6 -4.2 1.1 -4.3 .5 -4.4-.2 -4-.6 -5.5-1.9 -5.4-1 -5.3-.3 -4.7-1.6 -4.6-1.8 -4.1-3.2 -1.2-5.5 .5-5.6 .8-5.6 3.5-5 2.8-4.8 3-4.8 4.5-3.3 3.7-4.3 3-4.9 3.2-4.9 4.7-3.6 5.9-1.5 4.8-3 4.6-3.6 3.4-2 3.7-1.9 3.9-1 6.3-.7 5.1-2.5 4-2.6 3.5-2.2 3.1-2.7 3.1-2.2 3.5-1.9z" fill="#ff6060" fill-opacity="0.1" fill-rule="evenodd" stroke="#b74545" stroke-dasharray="6.29 2.72"/>
<path d="M557.3 953.2l3.7 .7 4.1 1.5 4.1 .5 4 .6 3.5 2.6 2.4 4.1 3.2 4.2 3 4.7 .5 5.1 .7 4.8 .2 5.6 -1.8 5.4 -.6 4.9 -1.2 4.7 -2.4 4.5 -1.1 5.2 -1.9 5 -3.7 3.8 -3.8 3.5 -4.9 2.1 -4.9 1.4 -3.6 3.1 -4.2 3.2 -5.2 1.6 -5.2 2.3 -5.5 1.8 -5.5 1.3 -5.6 1.2 -4.2 .2 -4.3 .6 -4.2 1.1 -4.3 .5 -4.4-.2 -4-.6 -5.5-1.9 -5.4-1 -5.3-.3 -4.7-1.6 -4.6-1.8 -4.1-3.2 -1.2-5.5 .5-5.6 .8-5.6 3.5-5 2.8-4.8 3-4.8 4.5-3.3 3.7-4.3 3-4.9 3.2-4.9 4.7-3.6 5.9-1.5 4.8-3 4.6-3.6 3.4-2 3.7-1.9 3.9-1 6.3-.7 5.1-2.5 4-2.6 3.5-2.2 3.1-2.7 3.1-2.2 3.5-1.9z" fill="#bb3535" fill-opacity="0.1" stroke="#862626" stroke-dasharray="6.29 2.72"/>
<path d="M557.2 913.5l4.4 .2 5.3 .4 4.9 1.4 4.5 1.8 4.2-.9 3.7-2.7 4-3 4-2.2 4.2-.5 3.9 1.5 2 3.7 2.2 4 4.2 3.2 2.7 4.4 -0 4.8 .3 4.8 -.2 4.8 -0 4.7 2.3 4.5 2.1 5.1 .3 5.5 .2 5.6 .4 5.6 -.3 5.6 -2.1 5.5 -2 5.4 -.7 5 -2.2 4.6 -2.4 3.3 -1.8 4.1 -1.3 4.2 -3.4 4.7 -4.4 3.9 -2.2 3.2 -2.1 3.7 -2.7 3.3 -3.3 3 -3.3 3.2 -2.9 3.4 -4.7 3.6 -5.5 1.9 -4.7 3 -4 4.7 -3.6 1.8 -4.2 .7 -3.8 1.1 -5.3 2.2 -5.8 .7 -4 1.3 -4.2 1.6 -4.4 .3 -4.3 .4 -4.1 1.9 -4.2 .9 -4.5-.1 -4.1 1.4 -4.1 2 -4.3-.9 -4.1-1.9 -4.4 .6 -4.2 1.7 -4.5-.8 -3.9-1 -5 .5 -4.6 .2 -4.8-.7 -4.7-.5 -4.9-.2 -4.9-.9 -3.4-3.1 -2.7-3.6 -4.6-1.5 -4.8-.5 -3.9-2.2 -2.9-3.7 -.9-4.7 -.1-5 -1.3-4 -1.6-3.8 -.7-4.1 .9-3.5 2.7-3.4 3.7-4.4 3.7-1.7 4.2-1.7 2.8-3 4.1-4.3 5.2-2.4 3.9-4 3.9-4.1 4.7-3.2 4.9-3 4.1-3.8 3.3-4.8 5-2.7 5.7-2 2.4-3.8 2.4-3.7 3.8-1.7 4.9-2.1 3-4.4 4.5-3.4 5.9-1.9 3.6-4.4 3.4-4.5 4-4.2 4-3.8 5-1.1 4.9-1 4.7-2.4 4.4-1.9 3.6-2.6 2.9-3.5 2.7-4.1 2.5-3.5 1.2-1.6zM557.2 951.9l4.1 1.1 3.8 2.3 4 1 3.9 .6 3.8 2.1 3 3.8 1.8 5 2.5 4.8 2.2 4.4 .4 5 -.6 5.6 -.1 5.6 -1.1 4.8 -1.7 4.6 -1.5 4.9 -2.1 4.8 -3.3 3.9 -3.2 3.9 -3.6 3.7 -4.4 2.5 -4 2.7 -3.7 3.2 -4.7 2.5 -5.1 1.7 -5.2 2.5 -5.7 1.3 -5.7 .5 -5.5 1.6 -4.1 1 -4.3 .2 -4.3 .2 -4.3 .7 -4.3 .8 -4.1-.2 -5.6-1.9 -5.5-.8 -5.3-.7 -4-2.8 -3.3-2.9 -3.9-2.7 -2.4-4.6 .7-5.3 .7-5.4 1.4-5.8 2.8-5.1 3.3-4.8 4.8-3.2 4.3-3.6 2.7-5.2 4.1-3.9 5.4-2.4 4.8-3.2 4.2-3.9 5-2.9 3.8-1.2 3.8-1.5 3.6-1.7 5.7-2.3 5.3-2.2 4.2-2 4-1.4 3.6-1.9 3-2.6 2.5-3.1z" fill="#ed78ff" fill-opacity="0.1" fill-rule="evenodd" stroke="#aa56b7"/>
<path d="M557.2 951.9l4.1 1.1 3.8 2.3 4 1 3.9 .6 3.8 2.1 3 3.8 1.8 5 2.5 4.8 2.2 4.4 .4 5 -.6 5.6 -.1 5.6 -1.1 4.8 -1.7 4.6 -1.5 4.9 -2.1 4.8 -3.3 3.9 -3.2 3.9 -3.6 3.7 -4.4 2.5 -4 2.7 -3.7 3.2 -4.7 2.5 -5.1 1.7 -5.2 2.5 -5.7 1.3 -5.7 .5 -5.5 1.6 -4.1 1 -4.3 .2 -4.3 .2 -4.3 .7 -4.3 .8 -4.1-.2 -5.6-1.9 -5.5-.8 -5.3-.7 -4-2.8 -3.3-2.9 -3.9-2.7 -2.4-4.6 .7-5.3 .7-5.4 1.4-5.8 2.8-5.1 3.3-4.8 4.8-3.2 4.3-3.6 2.7-5.2 4.1-3.9 5.4-2.4 4.8-3.2 4.2-3.9 5-2.9 3.8-1.2 3.8-1.5 3.6-1.7 5.7-2.3 5.3-2.2 4.2-2 4-1.4 3.6-1.9 3-2.6 2.5-3.1z" fill="#8342c1" fill-opacity="0.1" stroke="#5e2f8a"/>
</g>
<g clip-path="url(#c32)" stroke-width="1.7" stroke-linejoin="round">
<path d="M766.8 932.7l3.1 .5 2.6 1.5 4.1 1.3 5.3-.3 3.8-1.5 3.9-2 3.7-2 3.7-3.9 3.2-4.1 5.2-1.6 4.7 1.9 3.6 2.8 4.5 2.8 3.9 3.1 4.3 2.9 4.8 3 4.2 4.1 5 3 4.8 3.1 5.4 1.1 5.8-.3 5.8 2.2 5.4 1.4 3.5 3.2 .4 5.2 .9 3.8 3.2 3.2 2.8 3 1.2 6 3 4.7 3.9 4.7 -.4 6.2 .6 4.2 2.8 3.1 2.9 3.4 .4 4.4 -1.8 4.3 -1 4.3 1.1 4.3 1.5 4.3 -.6 4.2 -2.4 3.6 -1.8 3.7 -1.1 3.8 -3.4 4 -4.3 3.5 1.6 6.5 .3 6 -4.8-0 -4-3.4 -4.8-.6 -5.2 3.3 -5.7 1.7 -4.4-.5 -4.4-.4 -3.9-0 -4.3 1.2 -4.1 1.3 -4.8 1.9 -5.9 1.9 -4.5-1.1 -4.8-1.5 -5 .1 -4.9-.9 -4.9-1.3 -4.4 .3 -5.3 .6 -4.2 .4 -3.2 2.3 -3.2 2.4 -4.6 .9 -5-.1 -4.5-2.9 -4.5-4.1 -4.3-1.3 -4.4-1.4 -3.1-2.7 -2.8-3.8 -3-3.2 -3.8-3.3 -4.4-2.8 -5.2-1.9 -4.2-3 -3.4-3.8 -1.4-5.4 1.9-4.2 .7-4.4 -2-4.2 -.8-5.1 1-4.9 -2.3-3.2 -3.5-1 -2.5-.6 -2.2-.6 -5-1 -4.1-.6 -1.2-1.4 .1-2 4.7-.4 5.5 .8 3.4-1.2 2.7-3 4.5-3.6 5.1-3.8 -2.6-5.9 -3.6-5.4 2.7-5.2 3.1-5 5-2.6 5.6 .6 4.6-1.5 4-2.7 3-1.8 3.9-2.3 3.8-4.4 3.9-3.7 1.9-4.3 -.1-2.9 1-2zM789.8 959.3l4.4 .4 5 .3 5.2 2.3 4.4 3.7 4.6 2.1 4.8 .6 4.9 1 4.7 1.2 4.9-.5 4.6-.9 4.4 1.3 3.8 3 3 4.2 3 4.1 2.6 3.8 2 4.2 2.7 4.5 2.9 4.7 .6 5.6 -.1 5.7 1.1 5.9 -.6 5.2 -2.3 3.2 -2.7 2.9 -2.6 4.4 -3.1 4.2 -3.1 3.3 -3.9 2.1 -3.6 .8 -4.4 1.2 -4.4 .7 -4.4-.4 -4.3-.1 -4 1.1 -5.7 .9 -5.4-1.3 -5.5-.9 -5.8-1 -5.4-1.3 -5.6-.7 -5.6-.4 -5.5-1.3 -3.5-2 -3.1-3 -2.5-3.2 -3.3-4.2 -2.4-4.8 -.8-5.7 -.1-5.6 -0-5 -1.1-4.7 -3-4.4 -1.8-4.8 1-5.1 2.1-4.1 4-3.5 4.8-3.6 4.9-3.1 5.1-2.6 4-3.6 3.2-3.6 3.3-2.4z" fill="#53b7ff" fill-opacity="0.1" fill-rule="evenodd" stroke="#3b83b7" stroke-dasharray="1.70 2.80"/>
<path d="M789.8 959.3l4.4 .4 5 .3 5.2 2.3 4.4 3.7 4.6 2.1 4.8 .6 4.9 1 4.7 1.2 4.9-.5 4.6-.9 4.4 1.3 3.8 3 3 4.2 3 4.1 2.6 3.8 2 4.2 2.7 4.5 2.9 4.7 .6 5.6 -.1 5.7 1.1 5.9 -.6 5.2 -2.3 3.2 -2.7 2.9 -2.6 4.4 -3.1 4.2 -3.1 3.3 -3.9 2.1 -3.6 .8 -4.4 1.2 -4.4 .7 -4.4-.4 -4.3-.1 -4 1.1 -5.7 .9 -5.4-1.3 -5.5-.9 -5.8-1 -5.4-1.3 -5.6-.7 -5.6-.4 -5.5-1.3 -3.5-2 -3.1-3 -2.5-3.2 -3.3-4.2 -2.4-4.8 -.8-5.7 -.1-5.6 -0-5 -1.1-4.7 -3-4.4 -1.8-4.8 1-5.1 2.1-4.1 4-3.5 4.8-3.6 4.9-3.1 5.1-2.6 4-3.6 3.2-3.6 3.3-2.4z" fill="#2e66c1" fill-opacity="0.1" stroke="#21498a" stroke-dasharray="1.70 2.80"/>
<path d="M832.5 905.6l3.6 3.5 4 3 4.2 2.7 4.1 3.8 3.5 3.7 2.3 4.7 2.2 4.5 4.2 3.8 3.8 3.4 3.1 3 3.1 1.2 4 2.1 2.2 3.2 2.5 4.5 3.7 4.1 1.9 3.5 1.8 3.7 2.2 3.3 3.4 4.6 3.9 4.1 3.2 3.9 2.1 4.7 3.8 3.5 4.4 3.8 -.2 6.4 -1 6.1 .8 5.4 1 5.6 .3 4.2 -1.8 4.2 -2.1 4 .9 6 -.1 5.5 -3.2 3.7 -2.9 3.4 -2.6 3.6 -3.1 2.9 -3.4 2.1 -3.5 1.8 -3.8 1.8 -4.4 2.3 -5.1 3.3 -6 .6 -4.3 0 -4.3 1.1 -4.4-.3 -4.4-1.5 -4.3-.5 -4.1 .4 -4.3-.2 -4.2 .1 -4.3 .6 -4.4-.4 -4.1-1.6 -4.1-1 -4.3-.4 -4.3-.8 -4.1-.7 -5.7 .1 -4.9-1.8 -3.7-3.6 -4.5-2.7 -5.3-1.6 -5.4-1.4 -5-1.4 -4.8-1.5 -4.9-1.1 -4.3-1.6 -3.7-3.7 -3.2-5 -2.9-5.1 -3.7-5 -1.9-5.7 0-6.2 -1.9-5.7 -1.6-6 2.8-5.5 3.7-5.1 1.1-5.9 1-5.8 .8-5 1.9-5.3 3.9-3 4.8-2 3.7-2.7 2.6-4.9 2.1-3.5 3.9-1.9 5.5-3.1 3.2-5.4 .4-4.8 1.2-3 3.1-3 3.7-2.4 4.2-1.9 4.2-1.8 2.9-2.4 3.3-4 5.1-3.1 5.5-2.1 4.9-2 4.2-2.1 3.4-2 3.1-1.5zM815.2 955.7l4.5 .1 5 .2 5.6 .7 5.4 2.6 5.8 1.4 5.7 1.6 4.3 3 4 3 4.3 3.8 3.8 4.2 3.5 4.4 3.2 4.7 3.4 4.3 3 4.4 2 4.9 1.8 5.1 1.4 5.5 .4 5.8 -0 4.2 -.8 4.4 -1.6 3.7 -2.1 4.3 -2.4 4 -4.2 2.9 -5.2 1.4 -5.7 .2 -5.8 .4 -4 1.3 -4.1 1.6 -4.3 .7 -4.3-.3 -4.2-.8 -4.3-.7 -4.4 .1 -4.3 1.1 -4 1.1 -5.4-.5 -5-2.1 -4.6-3.7 -3.7-4.7 -4-3.3 -4.6-2.2 -4.2-2.3 -3.4-3.5 -1.5-5 .4-5.6 .2-5.5 -.9-5.6 -1.4-4.9 -.4-4.7 2.8-4.2 4.4-3.3 3.1-4.5 2.3-4.7 2.8-4 2.8-4.2 4.1-4 5.5-2.2 4.8-2.6z" fill="#16ffb6" fill-opacity="0.1" fill-rule="evenodd" stroke="#0fb783" stroke-dasharray="10.88 2.72 1.70 2.72"/>
<path d="M815.2 955.7l4.5 .1 5 .2 5.6 .7 5.4 2.6 5.8 1.4 5.7 1.6 4.3 3 4 3 4.3 3.8 3.8 4.2 3.5 4.4 3.2 4.7 3.4 4.3 3 4.4 2 4.9 1.8 5.1 1.4 5.5 .4 5.8 -0 4.2 -.8 4.4 -1.6 3.7 -2.1 4.3 -2.4 4 -4.2 2.9 -5.2 1.4 -5.7 .2 -5.8 .4 -4 1.3 -4.1 1.6 -4.3 .7 -4.3-.3 -4.2-.8 -4.3-.7 -4.4 .1 -4.3 1.1 -4 1.1 -5.4-.5 -5-2.1 -4.6-3.7 -3.7-4.7 -4-3.3 -4.6-2.2 -4.2-2.3 -3.4-3.5 -1.5-5 .4-5.6 .2-5.5 -.9-5.6 -1.4-4.9 -.4-4.7 2.8-4.2 4.4-3.3 3.1-4.5 2.3-4.7 2.8-4 2.8-4.2 4.1-4 5.5-2.2 4.8-2.6z" fill="#0c9165" fill-opacity="0.1" stroke="#086848" stroke-dasharray="10.88 2.72 1.70 2.72"/>
<path d="M831.5 907.9l3.3 2.7 3.9 3.5 5 2 5.3 1.5 3.9 3.6 3.1 4 4.4 3.1 3.9 2.7 3.3 2.4 4.5 2.3 3.9 2.4 2.9 3.6 1.1 4.5 1.7 5.3 2.2 4.9 1 3.9 1 4 1.6 3.8 2.5 5.4 3.1 4.8 3.4 3.9 3.1 4.1 4.1 3.1 4.3 3.4 .5 5.7 .5 5.8 2.7 5.3 -.3 5.8 -.6 4.2 .8 4.6 -.2 4.2 -3.1 5.5 -1.5 5.2 -1.4 4.6 -3.2 3.3 -4 2.5 -3.4 1.6 -3.2 .6 -4.2 1.6 -3.7 3 -4.1 2.2 -5 1.4 -5.5 2.7 -4 1.1 -4.4 .3 -4.3 .2 -4.3-0 -4.2-.2 -4.2 .2 -4.3 .5 -4.2-.4 -4.1-1.2 -4.2-1.2 -4.3-.2 -4.4 .2 -4.3-.2 -4.2-.9 -4.1-.6 -5.8 .6 -5.4-.7 -4.4-3.3 -4.8-2.2 -5.3-1.4 -4.5-2.9 -4.7-1.7 -5.1-.3 -5.1-1.1 -4.4-2.8 -3.4-4.6 -2.7-5.4 -2.5-5.3 -1.7-5.7 -.8-6.1 -2.5-5.2 -2.2-5.5 .3-5.7 1.3-5.6 1.7-5.6 2.9-5.4 1.5-5.6 .5-5.1 3.1-4.3 4-2 3.7-3.2 1.9-4.2 .6-5.4 2-4.5 4.4-2.8 3.3-3.8 1.1-5.2 4.1-4 4.1-.5 3.9-1 3.7-2.3 4.3-1.4 5.1 .1 4.9-1.5 4-5 3.5-3.7 4.4-2.4 3.9-3.7 3.8-2.9 3.8-1.2 3-.8zM814.8 953l5.2 1 4.7 2.3 5.4 1.1 5.8 .9 5.5 2.6 5.2 2.6 4 2.9 3.7 3.7 4.4 3.6 4.2 3.4 4.1 3.6 3.7 4.5 2.4 4.8 2.5 4.6 2.8 4.6 1.6 5.1 1.6 5.3 1.9 5.7 .3 4.4 -1.4 4.5 -2 3.7 -2.7 4 -2.7 3.6 -4.1 2.6 -5 1.8 -5.2 2.4 -5.7 1.4 -4.3-0 -4.3 0 -4.3 .5 -4.3 .3 -4.2 .1 -4.2 .1 -4.3-0 -4.4-.4 -3.9-.3 -4.9-1.3 -4.1-3 -4.9-2.9 -5.7-1.8 -4.1-3.3 -3-4.1 -3.4-3 -3.1-3 -1.9-4.4 -1.6-5 -1.1-5.5 -0-5.6 .1-5 .9-4.1 2.6-3.5 2.3-4.9 1.6-5.1 3.1-4.5 3.3-3.8 3.4-3.7 4.3-3.7 4.6-3.5 4.4-3.8z" fill="#ff6060" fill-opacity="0.1" fill-rule="evenodd" stroke="#b74545" stroke-dasharray="6.29 2.72"/>
<path d="M814.8 953l5.2 1 4.7 2.3 5.4 1.1 5.8 .9 5.5 2.6 5.2 2.6 4 2.9 3.7 3.7 4.4 3.6 4.2 3.4 4.1 3.6 3.7 4.5 2.4 4.8 2.5 4.6 2.8 4.6 1.6 5.1 1.6 5.3 1.9 5.7 .3 4.4 -1.4 4.5 -2 3.7 -2.7 4 -2.7 3.6 -4.1 2.6 -5 1.8 -5.2 2.4 -5.7 1.4 -4.3-0 -4.3 0 -4.3 .5 -4.3 .3 -4.2 .1 -4.2 .1 -4.3-0 -4.4-.4 -3.9-.3 -4.9-1.3 -4.1-3 -4.9-2.9 -5.7-1.8 -4.1-3.3 -3-4.1 -3.4-3 -3.1-3 -1.9-4.4 -1.6-5 -1.1-5.5 -0-5.6 .1-5 .9-4.1 2.6-3.5 2.3-4.9 1.6-5.1 3.1-4.5 3.3-3.8 3.4-3.7 4.3-3.7 4.6-3.5 4.4-3.8z" fill="#bb3535" fill-opacity="0.1" stroke="#862626" stroke-dasharray="6.29 2.72"/>
<path d="M831.6 907.8l3.7 2.2 3.8 3.5 4.7 2.3 4.6 2.8 3.5 3.8 4 2.9 4.5 3 2.9 3.9 3.1 3.2 3.8 2.8 2.9 2.5 3.1 3 2.5 3.3 2.4 4.8 2.6 4.7 1.7 3.6 .7 4.1 1 4.1 4.3 4.3 3.8 4.1 2 4.9 3.2 4 4 3.2 3 4.2 1.3 5.5 .4 5.8 1.1 5.4 .8 5.7 -1.3 4.1 -1.2 4.3 .2 4.3 .3 5.9 -2 5.1 -2.6 3.9 -2.5 3.7 -2.3 4.2 -3.1 3.4 -4.2 .6 -4.4-.4 -3.9 2.3 -3.8 3.2 -5.3 1.2 -5.9 .6 -4 1.3 -4.3 1.1 -4.3-.1 -4.3-.6 -4.3-.1 -4.1 .7 -4.3 1 -4.3 .3 -4.2-1 -4-2 -4.2-1.5 -4.4 .2 -4.4 .8 -4.3-.3 -4-1.1 -5.7-.7 -5.4-.1 -5.1-1.6 -4.7-2.6 -4.3-3.4 -4.7-2.4 -5.1-.8 -4.8-1.6 -4.9-1.2 -5-1.6 -2.5-5.2 -2.1-5.5 -4.5-4.5 -1.9-5.6 -.1-6.3 -1.7-5.4 -2.3-5.4 .7-5.6 2.7-5.2 .1-5.9 .9-6 4-4.8 1.6-4.7 .7-5.1 2.4-3.8 3.8-3 3.7-2.5 2.4-4.8 .4-5 3.4-3.8 4.9-2.3 2.7-4.6 1.5-5.4 3.1-2.5 4.1-.9 4.4-.5 4.4-1.3 4.2-2.1 3.5-2.4 4.4-3.7 4.3-3.2 4.5-3.1 4.4-2.9 4.4-1.3 4.1-.6 2.7-1.2zM815 954.7l4.8 .7 4.7 1.7 5.5 .7 5.7 1.2 5.8 1.8 5.7 1.5 3.6 3.8 3.4 4.1 5.5 1.9 4.8 3.4 3 4.9 3.6 4.5 2.1 5 1.5 5.2 3.2 4.3 2.7 4.7 .9 5.6 1.1 5.7 .5 4.3 -1 4.5 -1.9 3.6 -2.1 4.4 -2.3 4.3 -4.6 2.4 -5.4 .7 -5.3 1.8 -5.7 1 -4.2 .1 -4.2 1 -4.3 1 -4.3-.5 -4.2-.5 -4.2 .7 -4.3 .7 -4.4-.5 -3.9-.3 -5.2-.7 -4.5-2.5 -4.8-3.1 -4.9-3.1 -3.6-3.9 -3.9-3 -4.1-2.3 -2.6-3.7 -1.1-4.8 -2.1-4.8 -.9-5.5 .5-5.6 -.9-5 .1-4.5 2.9-3.8 3-4.3 2.3-4.8 2.8-4.5 2.9-4.2 3.4-3.7 4.6-3.4 4.9-3.1 4.6-3z" fill="#ed78ff" fill-opacity="0.1" fill-rule="evenodd" stroke="#aa56b7"/>
<path d="M815 954.7l4.8 .7 4.7 1.7 5.5 .7 5.7 1.2 5.8 1.8 5.7 1.5 3.6 3.8 3.4 4.1 5.5 1.9 4.8 3.4 3 4.9 3.6 4.5 2.1 5 1.5 5.2 3.2 4.3 2.7 4.7 .9 5.6 1.1 5.7 .5 4.3 -1 4.5 -1.9 3.6 -2.1 4.4 -2.3 4.3 -4.6 2.4 -5.4 .7 -5.3 1.8 -5.7 1 -4.2 .1 -4.2 1 -4.3 1 -4.3-.5 -4.2-.5 -4.2 .7 -4.3 .7 -4.4-.5 -3.9-.3 -5.2-.7 -4.5-2.5 -4.8-3.1 -4.9-3.1 -3.6-3.9 -3.9-3 -4.1-2.3 -2.6-3.7 -1.1-4.8 -2.1-4.8 -.9-5.5 .5-5.6 -.9-5 .1-4.5 2.9-3.8 3-4.3 2.3-4.8 2.8-4.5 2.9-4.2 3.4-3.7 4.6-3.4 4.9-3.1 4.6-3z" fill="#8342c1" fill-opacity="0.1" stroke="#5e2f8a"/>
</g>
<g clip-path="url(#c40)" stroke-width="1.7" stroke-linejoin="round">
<path d="M233.2 1137.6l3.7 1.2 4.5 .8 5.1-1.6 6.2-.2 5.5-.8 5.7-2.1 5.4 2.5 5.5 1.8 6-.7 5.2 2.2 4.1 1.2 4.4 .7 4.2 3.3 4.7 3.2 6.2-.7 5.6 .6 3.1 3.1 .9 4.2 -.1 4.7 2.1 4.7 3 4.3 .6 5.2 .2 5.2 1.5 4.7 2.9 3.3 3 2.9 1.9 4.4 -.7 5.2 -1.9 3.6 -2.1 3.7 -2.3 3.6 -3.4 5.4 -2 4.5 1.2 3.7 2.3 3 .3 2 -.6 2.8 -1.9 3.3 -3.8 2.5 -4.1 2.6 -3.6 4 -3.1 4.9 -2.7 5.4 -5.2 2.2 -5.5 1 -4.6 3.7 -2.6 3.6 2.4 3 2.7 3.4 -3 2.5 -4.4 1.7 -2.9 3.5 -2.5 4 -3.8 3.2 -3.7 2.3 -4.1 1.6 -5 1.2 -4.6-.7 -5.2-1.5 -5.4 1.6 -5.3 3 -6.2 .8 -5.4 1.4 -3.5-2.5 -.7-4.8 -1.7-4.7 -4.8-1.9 -5.4 .4 -4.8-2.2 -4.6-3.6 -4-3 -2.9-2.2 -2.5-3.2 .7-5.4 1.8-6 -3.4-5.2 -.9-5.9 .3-5.8 -2.1-5.3 -1.6-5.1 -2.8-4.6 -2.3-5.3 .9-5.9 .6-5.5 -.5-5.7 -2.4-5.4 -1.9-5.6 1.5-5.7 1.1-5.6 1.1-6 2.3-5 1.7-3 2.5-2.4 4.5-2 5.2-.8 4.7-1.3 3.7-3 2.4-4 3.3-3.2 4.6-2.8 3.5-3.5 1.8-3.3 1.9-2.6 2-1zM246.2 1161.7l4.6 .4 5 .9 4.7-1.4 4.9-1.3 4.8 1.6 4.6 1.7 4.5 1 3.7 2.5 2.8 3.4 3.2 3.4 2.4 3.1 1.6 4 1 3.9 1.9 4.8 1.5 4.7 1.5 4.9 1.4 4.8 -0 5.6 -1.4 5.6 -1.8 5.2 -3.1 4.3 -3.1 3.1 -3.1 3.5 -3.8 3.9 -4.6 3.6 -3.6 4.5 -3.8 4.2 -5 2.2 -4.9 2.1 -4.2 3.3 -3.9 2.9 -3.9 1.9 -3.9 1 -4.2-.1 -3.9-1.5 -3.3-2.7 -2.8-3.2 -2-3.6 -1.5-4.2 -1.4-4.8 -1.4-5 -2-4.6 -2.1-4.7 -1.2-4.9 -.6-5.1 -2.2-4.6 -2.5-4.6 .2-5.7 1-5.6 .7-5 1.8-4.7 2.4-4.9 2.6-4.6 4-3.3 4.1-2.9 3.8-3.1 3.9-2.2 3.3-2.1z" fill="#53b7ff" fill-opacity="0.1" fill-rule="evenodd" stroke="#3b83b7" stroke-dasharray="1.70 2.80"/>
<path d="M246.2 1161.7l4.6 .4 5 .9 4.7-1.4 4.9-1.3 4.8 1.6 4.6 1.7 4.5 1 3.7 2.5 2.8 3.4 3.2 3.4 2.4 3.1 1.6 4 1 3.9 1.9 4.8 1.5 4.7 1.5 4.9 1.4 4.8 -0 5.6 -1.4 5.6 -1.8 5.2 -3.1 4.3 -3.1 3.1 -3.1 3.5 -3.8 3.9 -4.6 3.6 -3.6 4.5 -3.8 4.2 -5 2.2 -4.9 2.1 -4.2 3.3 -3.9 2.9 -3.9 1.9 -3.9 1 -4.2-.1 -3.9-1.5 -3.3-2.7 -2.8-3.2 -2-3.6 -1.5-4.2 -1.4-4.8 -1.4-5 -2-4.6 -2.1-4.7 -1.2-4.9 -.6-5.1 -2.2-4.6 -2.5-4.6 .2-5.7 1-5.6 .7-5 1.8-4.7 2.4-4.9 2.6-4.6 4-3.3 4.1-2.9 3.8-3.1 3.9-2.2 3.3-2.1z" fill="#2e66c1" fill-opacity="0.1" stroke="#21498a" stroke-dasharray="1.70 2.80"/>
<path d="M230.3 1131.6l4.4 .5 4.1 .6 4.2-2.2 4.3-1.8 4.5 1.3 4.1-.3 4.5-3.5 4.9 .7 5 2.2 4.6-1.8 4.1 .5 2.5 3.3 3.2 3.1 4.2 1.1 5 1 4.6 2.3 3.5 4 2.8 4.5 3.3 3 2.6 3.7 1.2 5.3 4.3 3 5.4 3.1 1.4 5.2 2.8 4.5 2.8 4.6 -1.4 6 .6 5.7 -.1 4.7 -3.3 3.4 -4.7 2.5 -3.4 4.4 -2 5.1 -.2 5.4 -.6 4.8 -1.6 4.4 -.5 6.1 -3.3 4.9 -5 2.8 -2.7 4.2 -3.9 3.1 -4.6 2.7 -2.3 5.6 -3.8 4.4 -3.2 2.8 -2.8 3.5 -3.8 2.2 -6.3 0 -5.2 1.6 -4.9 2.8 -3.6 2 -3.4 1.7 -4.2 1.6 -2.3 3.8 -.7 2.7 -2.9 2.1 -5 .6 -4.8-2.5 -4.9-2.3 -4.4-2 -3.4-3.5 -3.2-4.2 -3.5-4 -4.2-2.4 -4.4-1.5 -3-4.2 -1.2-5.6 -3.4-4.9 -.5-6 1.9-6.2 -3.1-5.1 -3.2-3.4 -2.5-4 -4-2.4 -5-.9 -3.7-1.6 -2.7-4.2 -1.8-5.7 -2.2-6.2 2-6 1.6-5.8 -3.7-4 -2.7-3.8 1.3-4.4 .4-1.2 1.2-2.4 3.9-3 5.2-2 2.8-4.9 1-6.2 5-3.5 2.4-5.3 2.8-5.6 5.2-2.8 4.2-4.4 3.4-2.4 4.4-1.3 4.7-.8 5.4 .2 5.1-.9zM247.7 1151.7l4.9 0 4.8 .3 4.8 .4 4.8 .2 4.6 1.4 3.7 3.3 2.9 4.5 3.8 3.4 3.7 2.6 2.8 3.3 2.9 3.6 3 3.7 1.2 4.7 -.3 5 .4 4.8 -0 4.8 -2.3 4.7 -2.5 4.9 -1.8 5.1 -2.7 4.6 -3.4 3.9 -3.3 3.9 -3.3 4.6 -4.4 3.7 -5.1 2.9 -4.7 3.3 -5.5 2.4 -5.7 1.1 -5 1.2 -4.6 .3 -4-1.6 -3.7-2.4 -4.2-2.7 -4.1-3.2 -3.3-3.9 -2.5-4.4 -2.1-4.8 -2.9-4.6 -3.4-5 -1.4-5.9 -.7-5.8 -1.6-5.5 -.6-5.9 1.9-5.5 2.5-4.6 2.1-4.4 2.9-4 3.6-3.5 3-4 3.8-3.8 3.8-1.4 4.1-1.1 3.6-1.8 4.7-2.1z" fill="#16ffb6" fill-opacity="0.1" fill-rule="evenodd" stroke="#0fb783" stroke-dasharray="10.88 2.72 1.70 2.72"/>
<path d="M247.7 1151.7l4.9 0 4.8 .3 4.8 .4 4.8 .2 4.6 1.4 3.7 3.3 2.9 4.5 3.8 3.4 3.7 2.6 2.8 3.3 2.9 3.6 3 3.7 1.2 4.7 -.3 5 .4 4.8 -0 4.8 -2.3 4.7 -2.5 4.9 -1.8 5.1 -2.7 4.6 -3.4 3.9 -3.3 3.9 -3.3 4.6 -4.4 3.7 -5.1 2.9 -4.7 3.3 -5.5 2.4 -5.7 1.1 -5 1.2 -4.6 .3 -4-1.6 -3.7-2.4 -4.2-2.7 -4.1-3.2 -3.3-3.9 -2.5-4.4 -2.1-4.8 -2.9-4.6 -3.4-5 -1.4-5.9 -.7-5.8 -1.6-5.5 -.6-5.9 1.9-5.5 2.5-4.6 2.1-4.4 2.9-4 3.6-3.5 3-4 3.8-3.8 3.8-1.4 4.1-1.1 3.6-1.8 4.7-2.1z" fill="#0c9165" fill-opacity="0.1" stroke="#086848" stroke-dasharray="10.88 2.72 1.70 2.72"/>
<path d="M229.8 1128.7l4.7-.3 4.3 1 4.2 1.3 4.4-.1 4.4-.1 4.3 1 5.1-.8 4.1-3.4 5-1.6 4.8 1 3.7 1.5 3.6 1.2 3.9 .8 4.3 1.9 3.8 3.5 3.2 4.1 3.7 3.7 3.4 3.8 2.6 3.7 3.3 3 4.4 2.8 4.3 3.4 3.5 4.5 1.8 5.3 1.2 5 .8 4.9 -1.9 6.1 -1.1 5.5 -.2 3.6 -2 2.5 -4 2.5 -2.5 5.4 .4 6.3 1.7 5.6 1.4 5 -1.5 5.6 -2.8 5.9 -4.3 4.4 -6 2.1 -4.3 2.7 -5 1.6 -5.8 1.5 -2.5 5.8 -3.1 5 -3.2 2.5 -1.7 4.5 -1.5 5.4 -4.7 3.5 -6-.6 -6.2 .5 -3.5 2.6 -3.4 2.2 -4.2 .8 -3.2 3.1 -.6 2.2 -2.3 2.1 -5 1.1 -5-1.8 -5.6-1.2 -4.6-1.7 -2.8-4.8 -1.9-5.8 -3.1-4.9 -3.4-3.8 -1.9-2.3 -3.4-2.1 -5.7-3.3 -3.6-5 -3.8-5.4 -3.2-5.7 .5-4 -.8-2.8 -2.4-3.9 -1.9-4.7 -3.1-3.1 -3.6-1.8 -2.2-3.6 -1.2-5.3 -4.6-5.5 2.2-6 .8-5.6 -4.3-3.4 -1.1-4.8 1.6-4.3 -.1-.9 1.8-.7 4.8-2.3 2.5-5.5 2.2-5.1 3.3-4.6 2.4-5.5 5-3.2 4.6-3.1 4-3.9 5.6-2 3.5-2.2 3.2-3 3.6-2.7 4.2-2.9 4.7-2.6zM247.8 1153.9l4.7-.4 4.9-.7 4.8-1 5 .2 4.4 2 4 2.8 4 3.3 3.4 3.9 2.6 3.9 2.5 3.5 3.4 3.2 3.6 3.5 2.2 4.7 .3 5.1 -1.3 5 -2.3 4.3 -2.5 4.2 -1.5 5.4 -1.1 5.5 -2 5.1 -3.1 4.1 -4.1 3.3 -4.1 3.8 -3.8 4.3 -4.4 3.8 -5.1 2.8 -5.9 1 -5.7 .9 -4.8 1.8 -4.5 .3 -3.7-1.6 -3.7-2.1 -4.6-2.1 -5-2.3 -4.6-3 -3.2-4.4 -1.1-5.7 -.6-5.7 -1.7-5.7 -1.9-5.6 -1.7-5.4 -.7-5.5 -.1-5.5 -.1-5.8 .9-5.2 2.1-4.7 3.2-4.2 3.8-3.6 4.1-3 4.4-2.7 3.6-1.6 3.9-1.5 3.7-1.3 4.9-1.1z" fill="#ff6060" fill-opacity="0.1" fill-rule="evenodd" stroke="#b74545" stroke-dasharray="6.29 2.72"/>
<path d="M247.8 1153.9l4.7-.4 4.9-.7 4.8-1 5 .2 4.4 2 4 2.8 4 3.3 3.4 3.9 2.6 3.9 2.5 3.5 3.4 3.2 3.6 3.5 2.2 4.7 .3 5.1 -1.3 5 -2.3 4.3 -2.5 4.2 -1.5 5.4 -1.1 5.5 -2 5.1 -3.1 4.1 -4.1 3.3 -4.1 3.8 -3.8 4.3 -4.4 3.8 -5.1 2.8 -5.9 1 -5.7 .9 -4.8 1.8 -4.5 .3 -3.7-1.6 -3.7-2.1 -4.6-2.1 -5-2.3 -4.6-3 -3.2-4.4 -1.1-5.7 -.6-5.7 -1.7-5.7 -1.9-5.6 -1.7-5.4 -.7-5.5 -.1-5.5 -.1-5.8 .9-5.2 2.1-4.7 3.2-4.2 3.8-3.6 4.1-3 4.4-2.7 3.6-1.6 3.9-1.5 3.7-1.3 4.9-1.1z" fill="#bb3535" fill-opacity="0.1" stroke="#862626" stroke-dasharray="6.29 2.72"/>
<path d="M230.1 1130.1l4.5 1 4.2-.2 4.2-.5 4.4-.5 4.3-.9 4-.4 5.1-0 4.5-1.3 5-.8 4.5 1.3 3.1 1.9 3.5 1.6 3.9 1.3 3.9 2.1 4.3 2.2 4.3 2.6 3.4 4.1 3.2 3.9 3.9 2.4 4.1 2.3 3.5 3.8 1.9 5.1 2.3 4.9 2.3 4.6 1.4 4.6 1.3 4.8 .7 5.7 .1 5.6 -.2 4.2 -1.5 3.6 -3.4 3.6 -2.7 4.6 -1.3 4.8 -1 4.9 -1.4 4.7 -2.5 4.2 -1.7 5.3 -2.8 5.2 -4.1 3.5 -1.9 5 -4.1 3.2 -6.4 .5 -2.8 5.2 -2.4 5.9 -4.1 1.7 -3.6 2.3 -2.9 2.9 -5.2 2 -5 1.9 -3.7 4.1 -3.7 3.4 -4.3 1.1 -3.5 .5 -2.3 2.8 -1.7 2.5 -3.1 .5 -4.4-.5 -4.9-1.7 -4.9-2.1 -3.8-2.8 -3.8-2.7 -4.7-2.2 -3.5-3.8 -3.4-3.6 -4.4-1.3 -4.4-3.6 -.4-6 -1.1-5.6 -2.7-5.4 -.2-6 -.6-5.4 -3.6-3 -3.5-2.9 -2.4-4.1 -3.3-3 -4.1-1.2 -3.1-3 -.7-5.7 -2.5-5.7 .5-5.8 0-5.4 -3.1-4 -1.8-4.4 -1.3-4 -.9-4.1 3.9-2 5.2-.1 3-4.1 2.5-4.8 4.1-4.1 2.6-5.3 3.9-4.2 4.2-3.8 4.6-3.2 5.5-2.3 2.6-3.6 3.4-2.8 5.1 .1 4.7-1.3 4.1-4.2zM247.8 1152.9l4.8-.3 4.8 .2 4.8-.7 4.8 .5 3.8 2.7 3.9 2.8 4.3 2.8 3.8 3.4 3.7 2.7 3.4 3.1 2.1 4.2 1.7 4.3 1.8 4.5 0 5 -.2 4.8 .8 4.9 -1.9 5 -3.7 4.2 -1.5 5.3 -2.7 4.7 -4.1 3.2 -2.5 4.6 -3 4.9 -5.3 2.8 -4.1 4 -5 3 -6 .8 -5.3 2.2 -5 1.5 -4.6 0 -4.2-.9 -3.9-2.1 -3.9-3.2 -3.8-3.5 -3.4-3.8 -3.1-4.1 -3.2-4.3 -2-5.1 -1.4-5.8 -2.3-5.5 -1.2-5.7 -1.1-5.5 -.2-5.8 1.7-5.4 1.3-5 1.9-4.6 3.3-3.9 3.2-4 3.4-3.7 4.5-2.8 3.5-2 3.8-1.9 3.9-.9 5-.6z" fill="#ed78ff" fill-opacity="0.1" fill-rule="evenodd" stroke="#aa56b7"/>
<path d="M247.8 1152.9l4.8-.3 4.8 .2 4.8-.7 4.8 .5 3.8 2.7 3.9 2.8 4.3 2.8 3.8 3.4 3.7 2.7 3.4 3.1 2.1 4.2 1.7 4.3 1.8 4.5 0 5 -.2 4.8 .8 4.9 -1.9 5 -3.7 4.2 -1.5 5.3 -2.7 4.7 -4.1 3.2 -2.5 4.6 -3 4.9 -5.3 2.8 -4.1 4 -5 3 -6 .8 -5.3 2.2 -5 1.5 -4.6 0 -4.2-.9 -3.9-2.1 -3.9-3.2 -3.8-3.5 -3.4-3.8 -3.1-4.1 -3.2-4.3 -2-5.1 -1.4-5.8 -2.3-5.5 -1.2-5.7 -1.1-5.5 -.2-5.8 1.7-5.4 1.3-5 1.9-4.6 3.3-3.9 3.2-4 3.4-3.7 4.5-2.8 3.5-2 3.8-1.9 3.9-.9 5-.6z" fill="#8342c1" fill-opacity="0.1" stroke="#5e2f8a"/>
</g>
<g clip-path="url(#c41)" stroke-width="1.7" stroke-linejoin="round">
<path d="M488.9 1144.1l5.3 .3 5.9 .2 4.8 1.5 4.7-.3 4.5-2.8 4.9 .2 5.7 .5 3.9-4.2 4.4-3 5.3-.1 4.6-.2 4.8 .5 4.7-.6 4.8-2 5.4 1.6 5.7 2 4.2-2.1 4.3-1.2 4.1 1.1 4 1.5 4.3 2.2 2.8 3.9 2.9 3.2 3.7 2 3.4 2.3 3.4 4.7 2.7 5.1 1.6 3.7 1.5 3.9 1.2 3.6 1.3 4.8 1.5 4.8 -1.5 5 -3.4 4.4 1.8 5.2 4.4 4.1 1.1 5.6 -.4 5.8 -2.7 5.2 -2.8 5.6 .9 4.4 1.3 4.4 -.3 4.2 -2.8 4.6 -2.1 4.7 1 5.8 .5 5.5 -2.2 3.8 -1.6 4.1 .4 4 .4 4.6 .4 4 -.4 5.7 -3.8 4 -4.2 2.6 -3.9 2.7 -3.9 .2 -4.5-.9 -4.4 0 -5.6-1.8 -5.9-1.1 -3.6 6.2 -5.3 2.7 -4.2-3.5 -5.6-2.2 -4.8-2.5 -4.5-2.5 -5.6 .2 -5.5 .2 -4.9-2.2 -4.7-2.8 -4.9-.8 -4.7-1.3 -4.3-3.4 -4.7-1.8 -5-.7 -3.8-2.3 -4.1-2.9 -4.8-1.7 -5.1-2.5 -4.6-3.4 -3.3-4.3 -1.2-5.4 -2.8-4.3 -4.6-3 -1.7-5.2 -.9-5.5 -4.2-2.9 -3.1-3.3 -1.6-6 -5.2-2.9 -4-4.4 -1.2-6.1 -5.3-1.6 -3.6-3.5 3.7-5.3 -.2-6.2 -.4-6.3 2.3-3.7 4.5-1.3 5.7 .8 3.7-3.5 2.4-5.3 5.1-2 3.5-3.4 3.8-4.4 5.1-.1 5.6-.9 3.4-4.2 1.6-4.9 1.7-4 1.4-2.2zM527.2 1161.5l4.6-2.6 4.8-1.7 4.7 2.3 4.9 2.2 4.7 .3 4.7 .4 4.8 .8 4.9 1.6 4.7 2.7 4.5 2.7 3.6 3.4 3 4.2 2.8 4.4 1.9 5.2 1.2 3.8 1.8 3.6 2 3.6 1.5 3.8 1.5 3.9 1.5 3.5 1 5 -.9 4.5 -2.8 4 -3.6 3.9 -3.6 4.5 -2.6 5.2 -2.1 5.1 -2.9 4.3 -4.3 2.8 -5.2 1.9 -5.6 2.2 -5.4 1.9 -4.2 1.1 -3.8 .3 -4.7-1.4 -4.9-2.3 -5.5-1.1 -5.5-.7 -4.1-2.8 -4-3.3 -5-2.3 -4.2-2.8 -1.6-3.8 -1.8-3.9 -3.6-3.4 -4.3-3 -4.9-1.5 -4.6-1.7 -3.5-3.6 -2.7-4.4 -1.7-4.6 -2-4.7 -2-5.6 -.3-5.7 .7-4.8 2-4.6 2.6-3.1 3.2-3.1 3.5-2.3 5.1-.9 4.8-1.3 4.4-3.2 5-1.9 4.9-2.4 4.3-3.1 4.1-1z" fill="#53b7ff" fill-opacity="0.1" fill-rule="evenodd" stroke="#3b83b7" stroke-dasharray="1.70 2.80"/>
<path d="M527.2 1161.5l4.6-2.6 4.8-1.7 4.7 2.3 4.9 2.2 4.7 .3 4.7 .4 4.8 .8 4.9 1.6 4.7 2.7 4.5 2.7 3.6 3.4 3 4.2 2.8 4.4 1.9 5.2 1.2 3.8 1.8 3.6 2 3.6 1.5 3.8 1.5 3.9 1.5 3.5 1 5 -.9 4.5 -2.8 4 -3.6 3.9 -3.6 4.5 -2.6 5.2 -2.1 5.1 -2.9 4.3 -4.3 2.8 -5.2 1.9 -5.6 2.2 -5.4 1.9 -4.2 1.1 -3.8 .3 -4.7-1.4 -4.9-2.3 -5.5-1.1 -5.5-.7 -4.1-2.8 -4-3.3 -5-2.3 -4.2-2.8 -1.6-3.8 -1.8-3.9 -3.6-3.4 -4.3-3 -4.9-1.5 -4.6-1.7 -3.5-3.6 -2.7-4.4 -1.7-4.6 -2-4.7 -2-5.6 -.3-5.7 .7-4.8 2-4.6 2.6-3.1 3.2-3.1 3.5-2.3 5.1-.9 4.8-1.3 4.4-3.2 5-1.9 4.9-2.4 4.3-3.1 4.1-1z" fill="#2e66c1" fill-opacity="0.1" stroke="#21498a" stroke-dasharray="1.70 2.80"/>
<path d="M509.7 1127.3l4.5 3.7 5.2 3.1 4.5-2.9 3.1-1.8 2.7 3.2 4.7 3 5.4-3.5 5-3.6 5.2 2 4.7 1.6 4.8-1.6 4.8-.8 5.6 1.9 6.3 1.3 5.1 2.5 2.8 4.3 3.8 3.8 4.9 2.2 3.5 4.1 2.8 3.8 2.9 2.3 2.2 3.2 .5 5 2.1 4.8 3 3.8 1.2 4.5 .8 4 2 3.9 2.3 4.4 .7 4.3 -2.2 3.7 -2.8 5.7 2.9 6.3 3.2 5.1 -.6 4.7 .4 4.2 -.6 4.6 -3.3 3.3 -2.6 3.1 .1 4.1 2.1 4.2 -1.4 5.4 -3 4.4 -3.1 4.3 -5.2 2.1 -4.8 2.2 -2.3 4.2 -3 3.9 -4 4.1 -2.3 4.5 -1.5 3.7 -3.4 1.9 -4.1-2 -3.9-2.4 -3.8 1.4 -4.8 1.4 -4.3-2.7 -3.1-3.9 -4.7-1.2 -4.7 .1 -3.2-.1 -2.2 .6 -2.6 2.8 -4.4 1.5 -2.9-3.2 -2.7-3.3 -4.5-1 -4.3-1.6 -4.4-3.1 -4.6-1.5 -3.4-.4 -1.8-1.4 -.8-4 -2.4-4.5 -4-3.3 -4.1-3.3 -4.7-3.2 -4.9-1.8 -4.5-.6 -4.1-.9 -3.7-2.4 -3.6-2.8 -2.6-3.1 -2-3.3 -4.3-2.4 -5.5-.4 -5.7-2.4 -2.9-4.8 -2.9-3.9 -3.9-2.3 -4.7-2.3 -3.9-3.1 -3.5-2.3 -3.8-2.3 -3.1-4.7 -.2-5.6 .9-4.9 -1.3-3.9 -2.6-2.9 -1.8-5.7 .9-7.2 2.5-5.6 3.4-3.4 3.6-2.6 4.2-.4 4.4-.1 5.1-1.4 4.8-2 4.7-1.6 5.3-.3 4.5-.7 3.9-2 4.9-2.3 5.8-2.8 4.4-4 4.4-3 5.1-3.1 4.7-4.2 5.3-.6 5.3 .8 3.9-1.6zM522.4 1154.2l5.5-.5 5.6-1 4.9 .1 4.7 .3 4.8 .6 4.7 1.6 4.8 1.4 4.8 1.7 3.8 3.5 3.8 3.5 4 3.1 3.9 3.2 3.9 3.4 2.6 4.3 .8 5 2 4.7 2.8 4.5 .7 4.9 -.3 4.9 -.1 4.9 -.8 4.4 -2.1 4.1 -3.8 3.7 -3.7 3.5 -1.7 4 -1.6 3.9 -3.1 3.6 -3 2.7 -3.5 2.7 -4.8 2 -4.7 .5 -4.8 .1 -5.8-.9 -5.6-1.7 -4.6-2 -4.3-2.2 -4.7-1.1 -5-1.1 -4.2-3.2 -4.5-2.8 -5.4-2 -4.8-3.1 -4.8-2.1 -4.7-2.2 -3.7-3.5 -3.4-3.9 -3.7-3.6 -4-3.1 -3.7-3.3 -2.4-4.4 .1-5.1 -.1-4.7 -.7-4.7 .9-4.9 1.3-4.9 1.2-5 3.4-3.3 4.8-1.4 6 .2 6.2-.6 4.6-3.8 4.2-2.8 3.9-.8 3.9-.7 4.5-.8z" fill="#16ffb6" fill-opacity="0.1" fill-rule="evenodd" stroke="#0fb783" stroke-dasharray="10.88 2.72 1.70 2.72"/>
<path d="M522.4 1154.2l5.5-.5 5.6-1 4.9 .1 4.7 .3 4.8 .6 4.7 1.6 4.8 1.4 4.8 1.7 3.8 3.5 3.8 3.5 4 3.1 3.9 3.2 3.9 3.4 2.6 4.3 .8 5 2 4.7 2.8 4.5 .7 4.9 -.3 4.9 -.1 4.9 -.8 4.4 -2.1 4.1 -3.8 3.7 -3.7 3.5 -1.7 4 -1.6 3.9 -3.1 3.6 -3 2.7 -3.5 2.7 -4.8 2 -4.7 .5 -4.8 .1 -5.8-.9 -5.6-1.7 -4.6-2 -4.3-2.2 -4.7-1.1 -5-1.1 -4.2-3.2 -4.5-2.8 -5.4-2 -4.8-3.1 -4.8-2.1 -4.7-2.2 -3.7-3.5 -3.4-3.9 -3.7-3.6 -4-3.1 -3.7-3.3 -2.4-4.4 .1-5.1 -.1-4.7 -.7-4.7 .9-4.9 1.3-4.9 1.2-5 3.4-3.3 4.8-1.4 6 .2 6.2-.6 4.6-3.8 4.2-2.8 3.9-.8 3.9-.7 4.5-.8z" fill="#0c9165" fill-opacity="0.1" stroke="#086848" stroke-dasharray="10.88 2.72 1.70 2.72"/>
<path d="M509.7 1128.2l4.8 .9 4.6 .6 4.4 .2 3.5-0 3.4 .8 4.4 1.7 5.1 .7 4.4-1.4 5.2-.1 4.7 2.1 4.7 .5 4.9 .1 5.4 2.5 5.3 1.3 4.9 .3 4 2.5 3.5 4.6 4.6 2.6 5.4 .8 4.4 2.2 2.6 3.4 2.1 3.8 2.4 4.5 2.2 4.4 2.6 3.5 2.1 4.2 .4 4.8 .1 4.6 1.8 4.7 .3 4.8 -2.8 3.9 -1.1 5.5 .2 6.4 -1.4 5.8 1.5 3.9 .7 3.4 -2.4 2.7 -1.5 3.9 -.7 4.7 -1.7 3.9 -.7 4.9 1.8 4.9 .4 5.7 -3.1 5 -5 3.5 -4 2.3 -3.6 2 -2.9 3.7 -3.8 4.1 -4.3 3.4 -2.2 2.3 -1.8 1.1 -3.2-1.8 -4.3-2.7 -4.4 .9 -3.9 1.1 -3.7-2 -4.5-1.2 -5.3 2.1 -4.5-0 -2.9-1.2 -1.3 .5 -1.4 3.8 -6 3.1 -5.3-4.5 -1.7-5.1 -4.1-1.4 -4.4-1 -3.9-4.4 -4-4.1 -2.8-.8 -1.6 0 -2.3-2.5 -2.6-4.4 -3.2-4 -4.2-3.2 -5.9-.8 -5.5-.2 -4.2-1.6 -4.2-1.7 -4.8-1.8 -3.9-3.1 -1.3-4.1 -1.5-3 -4.5-.5 -5.6-1.7 -3.4-5.5 -3.7-4.1 -3.2-3.5 -2.3-4.6 -4.1-2.8 -5.2-1.5 -2.7-3.3 -.2-3.1 -1-3 -3.3-4.4 -.1-4.8 .3-5 -2.5-3.8 -2.3-3.8 .1-6.1 1.9-5.5 1.8-3.8 2.1-3.3 3.9-2 3.8-.4 4.9-.8 4.3-3 4.3-3.3 5.4-.9 4.5-1.8 4.8-1.4 5.7 1.1 5.5-2.6 3.9-4.4 5-2.2 5.4-2.5 5.3-2.4 4.8-1.8 4.5-2 4.5-.1zM522.4 1154.6l5.5 .4 5.5-.3 4.8-.4 4.7-.1 4.9 .2 4.8 .9 4.7 1.9 4.3 2.4 4.1 2.6 4.1 3.2 3.5 3.7 3.2 3.9 3.6 3.3 3.9 3.3 3.2 4.1 2 4.7 1.8 4.8 1.5 5.1 -.3 5.4 -1.9 4.7 -2.4 3.8 -2.6 3.4 -3.2 3.9 -2.7 4.4 -1.1 4.2 -1.2 4.1 -1.9 4.4 -3.1 3.8 -4.9 1.7 -5.3 .2 -4.7-.2 -4.2-1 -5.1-2.1 -6-.9 -5.3 .2 -4.7-.2 -5.1-.5 -5.1-1.1 -4.6-2.6 -4.4-3.5 -4.9-3 -5.2-2.6 -4.2-3.1 -3.3-3.9 -3.2-4.1 -3.8-3.4 -4.8-2.2 -4.7-2.4 -3.5-3.7 -1.2-4.9 1.4-4.9 1.1-4.9 -1.2-4.9 -1.1-4.5 .3-5 1.4-5 3.4-3.2 5-1.3 5.8-.2 5.6-2.2 4-4.5 4.2-3.6 4.5-1 4.3 .6 4.8 1.2z" fill="#ff6060" fill-opacity="0.1" fill-rule="evenodd" stroke="#b74545" stroke-dasharray="6.29 2.72"/>
<path d="M522.4 1154.6l5.5 .4 5.5-.3 4.8-.4 4.7-.1 4.9 .2 4.8 .9 4.7 1.9 4.3 2.4 4.1 2.6 4.1 3.2 3.5 3.7 3.2 3.9 3.6 3.3 3.9 3.3 3.2 4.1 2 4.7 1.8 4.8 1.5 5.1 -.3 5.4 -1.9 4.7 -2.4 3.8 -2.6 3.4 -3.2 3.9 -2.7 4.4 -1.1 4.2 -1.2 4.1 -1.9 4.4 -3.1 3.8 -4.9 1.7 -5.3 .2 -4.7-.2 -4.2-1 -5.1-2.1 -6-.9 -5.3 .2 -4.7-.2 -5.1-.5 -5.1-1.1 -4.6-2.6 -4.4-3.5 -4.9-3 -5.2-2.6 -4.2-3.1 -3.3-3.9 -3.2-4.1 -3.8-3.4 -4.8-2.2 -4.7-2.4 -3.5-3.7 -1.2-4.9 1.4-4.9 1.1-4.9 -1.2-4.9 -1.1-4.5 .3-5 1.4-5 3.4-3.2 5-1.3 5.8-.2 5.6-2.2 4-4.5 4.2-3.6 4.5-1 4.3 .6 4.8 1.2z" fill="#bb3535" fill-opacity="0.1" stroke="#862626" stroke-dasharray="6.29 2.72"/>
<path d="M509.6 1130l4.7 .2 4.8-1.2 3.8-1 4.2 .1 3.7 1.7 4.1 1.8 4.9 .3 4.8-1.8 5.6-.2 3.9 4.1 4.3 3 5.1-.6 5.8-.5 5.4 1.3 4.2 2.1 3.9 2.6 4.6 2.6 4.5 2.8 4.3 2.6 4.2 2.3 2.5 3.1 1.4 3.8 2.1 4.4 2.8 4.3 1.2 4.6 1.4 4.4 2.1 3.6 1.9 3.9 2.1 4.6 2.7 4.8 -1.9 4.9 -3.4 4.6 2.3 5.7 2 5.4 -.6 5 .4 4.7 -1.5 4.6 -3.4 3.3 -3.2 2.7 -2.4 3.4 -.3 4.8 1.3 4.9 -.5 5.2 -4.4 2.9 -5.4 1 -4.1 3.8 -3.5 3.6 -3.5 3.9 -1.3 5.6 -2.9 4.2 -2.8 2.1 -2 1.2 -4-.3 -4-2 -3.9-.7 -4 .3 -4.1-1.3 -3.8-2.8 -4.8-1.2 -4.8 .5 -3.3-.3 -3-.3 -3.5 2.2 -2.9 2.2 -3-1.2 -3.3-2.4 -4-1.6 -4.1-1.8 -4.5-2.5 -4.7-1.1 -3.8 .1 -3.2-1.4 -1.7-4.3 -2.2-4.4 -3.7-2.6 -3.3-2.9 -4.1-3.5 -5-1.3 -4.6-1 -3.6-2.5 -3.1-3.3 -3.4-3 -2.1-3.4 -2.1-3.7 -4.6-1.6 -5.8-.1 -3.8-4.5 -2.5-5.6 -4.9-1.4 -5-.7 -3.4-4.2 -2.8-4.6 -3.8-1.9 -3.3-1.9 -1.8-4.3 -.6-5.1 .5-4.9 .7-4.8 -1.7-4 -1.5-3.8 1-5.6 .8-5.9 1.3-3.9 2.7-2.2 4 .2 4.4-1 3.5-3.7 4.1-3.2 4.6-2.8 4.7-2.5 4.8-1.6 4.9-1.3 5.7 .3 5.7-.8 4-4.2 4.8-2.7 6.2 .3 5.7-1.3 4.5-3 4.4-2.3 4.2-.1zM522.3 1152.9l5.6 .3 5.5 .6 4.9-.3 4.6 .7 4.8 .9 4.9-0 4.9 1.3 4.2 3 4.4 2.4 4 3.1 3.6 3.8 4.1 2.9 3.8 3.5 2.5 4.4 2.1 4.5 1.4 4.9 1.3 5 1.5 4.6 -.1 4.9 -1.5 4.6 -1.1 4.1 -1.7 4 -3.2 3.9 -3.1 4.1 -1.9 3.8 -2.2 3.6 -1.8 4.3 -2.1 4.2 -4.5 2.1 -5.1 1.1 -4.7 1 -4.9-.9 -5.4-1.9 -5.8-1.4 -4.8-1.3 -4.7-.5 -4.9-.8 -4.6-2.3 -4.6-2.5 -4.7-2.6 -4.8-3.2 -5.3-2.4 -3.9-3.4 -3.4-3.8 -4.3-2.7 -4-3.2 -3.8-3.5 -4-3 -2.9-3.7 -1.7-4.2 -.5-4.7 .1-4.8 -.8-4.8 -.7-4.7 1.3-5 2.5-4.2 3.1-2.9 4.3-2.4 5.4-1.9 5.5-1.8 5.6-1 4.6-1.9 3.5-2.2 3.9-1.2 4.6-.2z" fill="#ed78ff" fill-opacity="0.1" fill-rule="evenodd" stroke="#aa56b7"/>
<path d="M522.3 1152.9l5.6 .3 5.5 .6 4.9-.3 4.6 .7 4.8 .9 4.9-0 4.9 1.3 4.2 3 4.4 2.4 4 3.1 3.6 3.8 4.1 2.9 3.8 3.5 2.5 4.4 2.1 4.5 1.4 4.9 1.3 5 1.5 4.6 -.1 4.9 -1.5 4.6 -1.1 4.1 -1.7 4 -3.2 3.9 -3.1 4.1 -1.9 3.8 -2.2 3.6 -1.8 4.3 -2.1 4.2 -4.5 2.1 -5.1 1.1 -4.7 1 -4.9-.9 -5.4-1.9 -5.8-1.4 -4.8-1.3 -4.7-.5 -4.9-.8 -4.6-2.3 -4.6-2.5 -4.7-2.6 -4.8-3.2 -5.3-2.4 -3.9-3.4 -3.4-3.8 -4.3-2.7 -4-3.2 -3.8-3.5 -4-3 -2.9-3.7 -1.7-4.2 -.5-4.7 .1-4.8 -.8-4.8 -.7-4.7 1.3-5 2.5-4.2 3.1-2.9 4.3-2.4 5.4-1.9 5.5-1.8 5.6-1 4.6-1.9 3.5-2.2 3.9-1.2 4.6-.2z" fill="#8342c1" fill-opacity="0.1" stroke="#5e2f8a"/>
</g>
<g clip-path="url(#c42)" stroke-width="1.7" stroke-linejoin="round">
<path d="M830.9 1127.4l3.3 .8 3.1 2.1 5.3 1.2 5.9 .8 4.4 3.2 4.9 2.2 5.8 .1 5.4 2.2 4.9 2.9 4.9 3 3.7 3.6 3.9 3.1 4.3 2.4 3.5 2.4 2.8 4.2 -.1 5.4 -4.1 3.1 -2.9 4 1.1 5.3 -.4 4.9 -2.1 5.3 -.2 5.7 -1 5.7 -1.3 5.2 -2 4.7 -3.6 3.7 -4.2 3.8 -4.1 3.8 -3.9 3.3 -3.7 3.4 -4.4 2.8 -4.3 2.6 -2.5 4 -2.1 3.8 -3.8 3.6 -3.3 4.5 -1.3 3.9 -2.2 3.8 -3 2.7 -3.1 4.4 -2 4.9 -3.8 4.1 -4.1 3.8 -3.6 4 -4.2 2.6 -4 1.1 -4.1 .4 -5.4-.2 -5.7-.1 -4.7 .6 -4.8 .3 -5.1 .7 -4.5 2.2 -4.6 1.7 -4.9-.3 -4.8-1.3 -4.9-1.7 -4.3-3.6 -4.5-2.6 -4.7-.3 -3.3 .7 -2.9 2.6 -3.8 2.8 -4.3 .9 -3.6 .1 -3.7-0 -3.9-2.2 .3-5.6 2.7-5.8 -.5-5.6 .8-5.7 1.4-4.1 -.2-4.5 -.9-3.9 -1.2-5 -1.4-4.9 -1.5-4.6 -.8-4.7 .4-4.9 1.6-4.8 3.3-4.2 2.5-4.9 .3-5.8 .3-5.6 1.1-5.1 2.6-4.3 2.8-3.8 2.1-3.9 4-2.8 5.2-.8 4.5-2.5 3.3-4 3.7-2.8 4.6-1.1 5.5-1.3 5.2-3 5.3-2.8 4.7-2.8 1-4.3 .7-3.5 3.9-2 5.1-2 4.8-2.7 5.2-2.7 4.6-2.6 4.4-3 4.8-3.1 5.2-2.4 4.8-2.7zM841.9 1158.5l5.2-0 4.8 1.1 4.7 2.4 4.4 1.8 3 2.5 2 3.6 1.2 4.6 0 5 -.4 4.7 -.5 4.9 -2.5 4.7 -3.1 4.4 -2.2 4.7 -3.7 3.6 -4.1 3.7 -3.7 4.4 -5.1 2.6 -4.5 3.7 -4.5 3.7 -5.5 1.9 -4 3.1 -3.4 4 -2.9 2.7 -3.4 2.6 -3.5 2.3 -4.1 4.1 -3.5 4.3 -4.8 2.1 -4.9 1.5 -5.6 0 -5.3-2.4 -5.1-.2 -4.9-.2 -4.6-2.2 -4.3-1.2 -4.3-1.6 -2.7-3.9 -1.2-4.8 -1.8-4.9 -.7-5.6 .5-5.5 1.8-3.9 2.6-3.5 1.7-5.6 2.8-5.2 4.4-2.3 3.5-2.6 3.1-4.1 4-3.2 4.4-2 3.8-2.5 2.3-3.9 2.2-4.2 4.1-3 4.3-2.7 3.8-4 5.3-1.6 6 .2 5-3.7 3.6-1.6 4.2-.6 3.6-1.7 4-2.1 4.6 .5z" fill="#53b7ff" fill-opacity="0.1" fill-rule="evenodd" stroke="#3b83b7" stroke-dasharray="1.70 2.80"/>
<path d="M841.9 1158.5l5.2-0 4.8 1.1 4.7 2.4 4.4 1.8 3 2.5 2 3.6 1.2 4.6 0 5 -.4 4.7 -.5 4.9 -2.5 4.7 -3.1 4.4 -2.2 4.7 -3.7 3.6 -4.1 3.7 -3.7 4.4 -5.1 2.6 -4.5 3.7 -4.5 3.7 -5.5 1.9 -4 3.1 -3.4 4 -2.9 2.7 -3.4 2.6 -3.5 2.3 -4.1 4.1 -3.5 4.3 -4.8 2.1 -4.9 1.5 -5.6 0 -5.3-2.4 -5.1-.2 -4.9-.2 -4.6-2.2 -4.3-1.2 -4.3-1.6 -2.7-3.9 -1.2-4.8 -1.8-4.9 -.7-5.6 .5-5.5 1.8-3.9 2.6-3.5 1.7-5.6 2.8-5.2 4.4-2.3 3.5-2.6 3.1-4.1 4-3.2 4.4-2 3.8-2.5 2.3-3.9 2.2-4.2 4.1-3 4.3-2.7 3.8-4 5.3-1.6 6 .2 5-3.7 3.6-1.6 4.2-.6 3.6-1.7 4-2.1 4.6 .5z" fill="#2e66c1" fill-opacity="0.1" stroke="#21498a" stroke-dasharray="1.70 2.80"/>
<path d="M864.3 1128.5l5.5 .4 5.6-.5 5.6 1.2 5 2.6 4.9 1.2 4.7 1.5 3.9 3 3.7 2.6 4.1 2.8 1.9 4.2 -.6 4.4 .1 4.3 2.8 3.6 2.5 3.7 -.2 4.9 -1.6 4.8 -2 4.3 -1.9 4.1 -1.4 4.5 -1.9 4.5 -1.3 3.9 -.7 3.6 -1.6 4.6 -3.9 3.6 -5.1 1.8 -3.7 3.7 -2.6 4.6 -3.8 3.5 -3.3 3.9 -2.2 4.7 -2.8 4.3 -3.8 3.4 -4.3 3.2 -3.7 3.7 -3.5 3.4 -4.5 2 -4 3.1 -2.6 5 -3.7 3.7 -5 1.6 -4.1 2.4 -3.2 3.5 -3.5 3.2 -4.3 2 -4.3 1.3 -4.5 .8 -5.2-.8 -3.7-.6 -2.5 2.1 -3.7 3.2 -4.4 .7 -4.2-.4 -4.2-.1 -3.1-1.3 -1.1-4.1 -2.9-4.6 -5.2-2.1 -5.5-2.3 -5.2 .9 -4.4 .8 -2.4-3.5 -1.8-4.5 -2.8-4.3 -1.9-4.5 -3.1-3.8 -3.3-4 -1.2-5.1 -1.5-5 -1.1-5.9 2.7-5.5 1.8-5.4 1.6-5.4 2.4-5.3 .7-5.6 .7-5.7 1.8-5.2 4-3.5 5-2.8 2.5-3.3 2.6-3.4 3.4-2.5 3.2-2.6 2.6-3.3 3.1-2.6 5.6-2.1 4.8-3.2 3.5-4.7 3-5 4.2-4.1 5.4-2.3 3.7-1.8 3.5-2.2 3.5-1.9 3.7-1.6 3.7-1.7 4-1.5 4.3-.9 4.4-.5 4.2-.6 4.3-1 4.2-1.2 4.2-.7 5.9 .4zM839.1 1153.2l4.5-1.1 4.8-.7 5.6 1.9 5.5 1.2 4.8-.2 4 1.1 3.8 2 4.4 1.8 3.5 3.2 2.2 4.2 1.7 4.7 1 5.1 -1.3 5.1 -3.3 4.4 -3.4 4.2 -2 5 -2.4 4.7 -3 4.2 -3.1 4.6 -3.9 4 -3.8 3.3 -3.7 3.6 -4.6 3.3 -4.6 3.5 -4.7 3.3 -5.1 2.7 -3.6 1.9 -3.9 1.6 -3.6 1.4 -4.6 2.8 -4.8 1.5 -5.3-1.5 -4.4-1 -4.2-.3 -3.9-2.1 -3-3.5 -3.5-2.8 -3.2-2.4 -2-3.5 -1.6-3.4 -2.5-2.6 -2.3-3.9 -.7-4.9 -.4-4.8 .5-5.1 2.8-4.5 3.4-4.5 2.3-3.2 3-3.1 2.9-2.9 3.9-4.1 4.2-3.5 4.5-3.4 4.2-4.1 3.9-4.2 4.4-2.9 5.1-1.6 4.9-2.2 5.3-1.6z" fill="#16ffb6" fill-opacity="0.1" fill-rule="evenodd" stroke="#0fb783" stroke-dasharray="10.88 2.72 1.70 2.72"/>
<path d="M839.1 1153.2l4.5-1.1 4.8-.7 5.6 1.9 5.5 1.2 4.8-.2 4 1.1 3.8 2 4.4 1.8 3.5 3.2 2.2 4.2 1.7 4.7 1 5.1 -1.3 5.1 -3.3 4.4 -3.4 4.2 -2 5 -2.4 4.7 -3 4.2 -3.1 4.6 -3.9 4 -3.8 3.3 -3.7 3.6 -4.6 3.3 -4.6 3.5 -4.7 3.3 -5.1 2.7 -3.6 1.9 -3.9 1.6 -3.6 1.4 -4.6 2.8 -4.8 1.5 -5.3-1.5 -4.4-1 -4.2-.3 -3.9-2.1 -3-3.5 -3.5-2.8 -3.2-2.4 -2-3.5 -1.6-3.4 -2.5-2.6 -2.3-3.9 -.7-4.9 -.4-4.8 .5-5.1 2.8-4.5 3.4-4.5 2.3-3.2 3-3.1 2.9-2.9 3.9-4.1 4.2-3.5 4.5-3.4 4.2-4.1 3.9-4.2 4.4-2.9 5.1-1.6 4.9-2.2 5.3-1.6z" fill="#0c9165" fill-opacity="0.1" stroke="#086848" stroke-dasharray="10.88 2.72 1.70 2.72"/>
<path d="M864.3 1130.2l5.4 .2 5.5 0 5.7-.3 5 2.6 4.8 1.2 5.3 .3 3.7 3.4 2.6 3.7 3.1 3.1 2.3 3.7 1.3 3.7 2.3 3.5 3.5 3.1 1.9 4.8 -.6 5.6 -1.4 5.5 -2.9 4.1 -3.1 3.4 -2.4 4.1 -2.8 4.5 -1.6 4 -.8 2.9 -2.1 3.5 -3.3 3.6 -3.8 3 -3.9 3.6 -2.8 4.7 -2.7 4.4 -3.3 3.9 -2.3 4.6 -2.1 4.8 -3.4 3.9 -3.7 4.1 -3.6 4.1 -3.9 3.2 -3.2 3.7 -3.3 3.6 -4.9 2.1 -4.9 2.1 -4.5 2.5 -4.3 2 -3.9 2.4 -4 2.6 -4.3 1.5 -4 1.2 -3.8 .9 -4.7-1.4 -5-1.1 -3.9 2.9 -3.5 2.1 -2.9-.2 -4 .9 -4 1.5 -2.6-.7 -1.1-3.7 -3.4-4.4 -5.3-1.6 -5.6-.3 -5.3 1.6 -4.9-1.1 -2-4.6 -1.7-4.6 -1.7-4.6 -1.1-5.1 -3-4.4 -3.5-3.5 -3.8-3.9 -2.5-5.2 2-5.8 2-5.6 .1-5.8 1.8-5.3 1.8-5.4 1.6-5.4 1.8-5.6 2.1-4.9 3.7-3.5 4.1-3.9 2.5-3.3 2.9-3.1 3.2-2.6 3.4-2.5 3.3-2.6 2.9-2.7 4.7-3.4 5.1-2.7 3.6-4.4 4.1-3.8 4.5-3.4 4.2-4.2 3.9-1.3 3.9-1.3 3-3.3 2.6-3.7 4.1-1.1 4.7 .1 4.1-1.7 4.2-2.1 4.5 1 4.8 1.6 4.3-.4 4.2-.5 5.7 1zM838.8 1152.1l4.8-.7 4.8 0 5.6 .9 5.5 1.3 4.9-0 4.3 .7 4 2.1 4.4 2.4 3.2 3.4 1.7 4.5 1.7 4.6 1.1 5.1 -1.8 4.9 -3 4.5 -2.8 4.4 -2.8 4.6 -1.8 5.1 -1 5.6 -3.3 4.9 -5.3 2.7 -4.4 2.6 -4.3 2.7 -5.5 2 -4.3 4 -3.9 4.4 -5.2 2.5 -3 3 -3.1 3.4 -3.9 1 -5.7-.3 -4.6 1.5 -4.9 .6 -4.4-1.1 -4.4-.4 -4.5-1.5 -2.4-4.2 -2.2-4.3 -3.7-2 -3.2-2 -2.5-2.9 -2.9-2.9 -3-4.3 .5-5.3 1.8-4.7 1.1-4.7 2.7-4.4 3.3-4.3 1.6-3.7 2.1-3.7 2.5-3.4 3-5 4.3-3.8 5.4-2.5 4.9-2.9 5.1-1.8 4.8-2.2 4.6-2.7 5-1.9 4.7-2.9z" fill="#ff6060" fill-opacity="0.1" fill-rule="evenodd" stroke="#b74545" stroke-dasharray="6.29 2.72"/>
<path d="M838.8 1152.1l4.8-.7 4.8 0 5.6 .9 5.5 1.3 4.9-0 4.3 .7 4 2.1 4.4 2.4 3.2 3.4 1.7 4.5 1.7 4.6 1.1 5.1 -1.8 4.9 -3 4.5 -2.8 4.4 -2.8 4.6 -1.8 5.1 -1 5.6 -3.3 4.9 -5.3 2.7 -4.4 2.6 -4.3 2.7 -5.5 2 -4.3 4 -3.9 4.4 -5.2 2.5 -3 3 -3.1 3.4 -3.9 1 -5.7-.3 -4.6 1.5 -4.9 .6 -4.4-1.1 -4.4-.4 -4.5-1.5 -2.4-4.2 -2.2-4.3 -3.7-2 -3.2-2 -2.5-2.9 -2.9-2.9 -3-4.3 .5-5.3 1.8-4.7 1.1-4.7 2.7-4.4 3.3-4.3 1.6-3.7 2.1-3.7 2.5-3.4 3-5 4.3-3.8 5.4-2.5 4.9-2.9 5.1-1.8 4.8-2.2 4.6-2.7 5-1.9 4.7-2.9z" fill="#bb3535" fill-opacity="0.1" stroke="#862626" stroke-dasharray="6.29 2.72"/>
<path d="M864.3 1127.4l5.5 .9 5.6 .7 5.7-.1 5.5 .8 4.7 2.6 4.2 2.9 4.8 1.5 4.6 2.2 2.1 4.5 .8 4.6 1.1 3.8 1.7 3.7 2.3 3.7 .7 4.4 -1.3 4.6 -.8 4.7 -1.3 4.5 -2.4 3.9 -2.2 4.5 -1.4 4.7 0 4.1 -.3 3.9 -2.6 4.2 -3.8 3.6 -3.7 3.5 -3.4 3.7 -4.2 3 -4 3.3 -2.2 4.8 -2.4 4.6 -3.3 3.8 -3.5 3.7 -4.2 3.4 -4.2 3.3 -3.9 2.8 -4 2.8 -3.1 4.1 -3.8 3.4 -5.3 1.7 -4 2.9 -3.1 3.8 -3.9 2.4 -4.3 1.9 -4.1 2 -3.9 1.4 -3.9 1.1 -5.2-.1 -4.1-1.4 -4.3 1.5 -3 2.9 -3.2 1.8 -3.9 1.1 -4.3 .8 -4.1-1.2 -1.1-4.9 -2-4.9 -5.3-1.1 -5.5-.8 -5.1-.1 -4.8 .1 -3.1-3.7 -1-5 -1.2-4.9 -1.8-4.8 -3.6-3.7 -4.4-3.2 -1.4-5.2 1-5.1 -.7-5.4 .1-6 3.6-5 .9-5.7 -1-5.8 1.5-5.5 2-5.5 1.9-5.3 3.1-4.5 4.3-3.9 3.3-2.2 3.3-2.7 2.9-3 3.1-2.8 3.6-2.2 3.3-2.3 4.6-3.6 4.3-3.6 4.2-3.6 4.5-3.4 3.9-4.2 4.9-3.1 4.2-.6 3.7-1.4 3.3-2.8 3.3-2.3 4.1-.7 4.1-.5 4-1.2 4.2-1.3 4.2-1 4.3-1.1 4.3-.4 4.2 0 5.6-.9zM838.9 1152.4l4.7 .3 4.8 0 5.6-.7 5.5 .1 5 .6 4.4 1.1 4.3 2 4.1 2.7 2.9 3.8 1.5 4.5 .8 4.7 .5 4.8 -.5 4.9 -1.7 4.9 -3.1 4.4 -3.1 4.4 -1.4 5.3 -1.9 5.1 -4.3 3.8 -4.6 3.3 -3.8 3.4 -3.8 3.4 -4.5 3.4 -5.2 2.7 -4.6 3.3 -4.5 3.7 -3.9 1.4 -4.1 .9 -3.6 1.5 -4.5 2.7 -4.7 1.5 -5 .2 -4.6-.3 -4.1-1.5 -4-2 -3.6-2.8 -2.8-3.5 -2.8-3 -2.8-2.5 -3-2.5 -2.8-3.1 -1.5-4.6 .3-5.1 1.1-4.6 1-4.8 1.3-5 3.1-4.6 2.5-3.2 2.3-3.6 2.6-3.2 4.6-3.5 4.3-3.4 4.1-4.1 4.7-3.2 4.8-2.5 5-1.9 5-1.8 4.6-2.8 4.3-3.5z" fill="#ed78ff" fill-opacity="0.1" fill-rule="evenodd" stroke="#aa56b7"/>
<path d="M838.9 1152.4l4.7 .3 4.8 0 5.6-.7 5.5 .1 5 .6 4.4 1.1 4.3 2 4.1 2.7 2.9 3.8 1.5 4.5 .8 4.7 .5 4.8 -.5 4.9 -1.7 4.9 -3.1 4.4 -3.1 4.4 -1.4 5.3 -1.9 5.1 -4.3 3.8 -4.6 3.3 -3.8 3.4 -3.8 3.4 -4.5 3.4 -5.2 2.7 -4.6 3.3 -4.5 3.7 -3.9 1.4 -4.1 .9 -3.6 1.5 -4.5 2.7 -4.7 1.5 -5 .2 -4.6-.3 -4.1-1.5 -4-2 -3.6-2.8 -2.8-3.5 -2.8-3 -2.8-2.5 -3-2.5 -2.8-3.1 -1.5-4.6 .3-5.1 1.1-4.6 1-4.8 1.3-5 3.1-4.6 2.5-3.2 2.3-3.6 2.6-3.2 4.6-3.5 4.3-3.4 4.1-4.1 4.7-3.2 4.8-2.5 5-1.9 5-1.8 4.6-2.8 4.3-3.5z" fill="#8342c1" fill-opacity="0.1" stroke="#5e2f8a"/>
</g>
<g clip-path="url(#c43)" stroke-width="1.7" stroke-linejoin="round">
<path d="M1014.4 1131.1l5.6-.3 5.6-2 5.4 .2 4.2 2.9 3.2 2.4 3.4 2 4.1 3.4 5 2.7 4.8-2.5 5.1-1.7 5.3 3.5 5.6 1.6 5.3 1.7 3.7 4 4.5 1.8 4.9 .9 3.3 3.2 2 4.4 2.4 3.7 2.6 4 2.2 3.8 3.2 3.2 3.1 2.5 -.2 4.7 -3.1 3.5 -1.9 3.6 -.2 4.2 .3 4.9 .6 5.1 3.2 2.9 3.4 2.8 -.5 4.9 -2.5 4.9 .1 5.6 .3 5.5 -1.7 4.8 -1.6 4.8 -.7 4.9 -.3 4.7 .3 4.1 .7 3.9 2.1 2.4 2.2 2.6 1.1 3.5 .7 4.6 -.1 4.3 -.6 5.5 -2.1 4.1 -5.1 1.8 -6 1.5 -5.6 .9 -5.6 1.1 -4.1 1.1 -4.3 .4 -4.3-.3 -4.3-.3 -4.3-.6 -4.1-.6 -5.8 0 -5.3 .1 -5.2 1.2 -4.4 2 -4.1-.6 -2.4-2.9 .3-4.3 -1-4.2 -3.4-1.1 -3.9 0 -5.3-1 -5.7-.6 -5.4-.8 -4.1-2.6 -2.1-2.6 -1.7-2.5 -2.8-3.9 -2.9-4.5 -1.2-5.2 -1.1-5.6 -3.7-4.4 -4-4.3 -3-5 -3.4-4.6 -2.5-4.8 -1.5-5.1 -2.2-5 -3-4.4 -2.7-3.9 -1.9-3.8 -.7-3.3 .4-3.3 1.6-4.3 .8-5.2 -.7-4.2 .2-4.5 1.4-4.1 1.5-5.9 1.6-5.3 2.2-3.9 1.6-3.6 2.3-4.6 4.5-3 6-1.5 4.4-3.6 4.4-3 4.9-.7 4.4-1.1 3.3-2.3 1.8-3.1zM1006.5 1158.7l4.8 .5 4.7 1 4.9 .5 4.7 1.7 4.8 1.4 4.9 .9 4.7 1.8 4.4 1.4 4.7 .9 3.9 2.6 2.7 3.8 3.3 3 3.6 2.9 2.7 3.6 2.6 2.9 2.8 3.1 1.4 4.7 .4 5.3 2.2 5.3 .7 5.6 -.9 5 -.8 4.7 -1.8 3.9 -2.1 3.7 -2.5 4.2 -1.9 4 1.2 4.2 2.3 3.7 .4 3.7 -1.9 3.1 -4 1.3 -4.4 1.1 -4.6 .9 -4.9-.7 -4.7-1.3 -4.9-.5 -4.9-.5 -4.6-1.3 -4.2-1.3 -3.5-1.7 -2.4-2.8 -2.7-3.1 -3.3-2.1 -3.2-2.4 -2.9-3.3 -3.1-3.6 -3.6-3.6 -3.3-3.9 -2.1-4.3 -1.8-4.2 -2-3.7 -1.9-3.9 -1.1-4.7 -.7-4.8 -.6-4.9 -.1-4.8 -.5-4.7 -0-4.8 1.3-5 1.6-4.7 2.7-3.8 4.1-2.2 4.5-2z" fill="#53b7ff" fill-opacity="0.1" fill-rule="evenodd" stroke="#3b83b7" stroke-dasharray="1.70 2.80"/>
<path d="M1006.5 1158.7l4.8 .5 4.7 1 4.9 .5 4.7 1.7 4.8 1.4 4.9 .9 4.7 1.8 4.4 1.4 4.7 .9 3.9 2.6 2.7 3.8 3.3 3 3.6 2.9 2.7 3.6 2.6 2.9 2.8 3.1 1.4 4.7 .4 5.3 2.2 5.3 .7 5.6 -.9 5 -.8 4.7 -1.8 3.9 -2.1 3.7 -2.5 4.2 -1.9 4 1.2 4.2 2.3 3.7 .4 3.7 -1.9 3.1 -4 1.3 -4.4 1.1 -4.6 .9 -4.9-.7 -4.7-1.3 -4.9-.5 -4.9-.5 -4.6-1.3 -4.2-1.3 -3.5-1.7 -2.4-2.8 -2.7-3.1 -3.3-2.1 -3.2-2.4 -2.9-3.3 -3.1-3.6 -3.6-3.6 -3.3-3.9 -2.1-4.3 -1.8-4.2 -2-3.7 -1.9-3.9 -1.1-4.7 -.7-4.8 -.6-4.9 -.1-4.8 -.5-4.7 -0-4.8 1.3-5 1.6-4.7 2.7-3.8 4.1-2.2 4.5-2z" fill="#2e66c1" fill-opacity="0.1" stroke="#21498a" stroke-dasharray="1.70 2.80"/>
<path d="M1012.7 1127.5l4.3 .6 4.5 .7 4 .6 5.6 .1 5.5 .7 5.5 1.9 5.5 1.3 4.9 2.6 4.6 3 5.3 .3 5 .8 5.4 2.2 6.3-0 5.6 1.9 3.9 2.5 4 .9 3.8 2.7 .3 4.8 1 4.5 2 3.7 1 4.3 1.7 5.4 5.4 3.6 5.6 .4 4.3-.1 3.7 2.8 2.2 3.9 1.4 2.9 2.2 2.7 3.2 3.5 1.2 5.3 -.7 4.9 -1.2 4.2 -4.1 3.4 -4.2 3.9 -0 5.4 .5 5.6 2.7 4.3 4.5 2.7 2.2 3.5 -.7 3.9 -1 2.6 .8 2.3 -1.5 1.6 -3.6 .7 -3.7 1.4 -3.8 2.6 -3.6 3.2 -2.5 3.8 -.5 4.1 -1.6 4.4 -3.6 3.5 -4.6 2.7 -5.9-.1 -6.3-2.3 -5.4 .5 -4.5 1.9 -4.5-0 -4.7-.1 -4.7 1.1 -4.7 1.1 -5 .7 -5.2 .3 -5.2-.5 -4.2-2.8 -4.3-3.9 -4.5-1 -4.4-0 -3.5-2.4 -3.4-3.7 -4.6-2.5 -3.3-3 -3.2-3.2 -4.6-2.7 -2.1-4.9 -.7-6 -3.6-3.7 -3.9-3.3 -2.8-4.3 -4.1-4 -4.3-4.1 -4.5-3.9 -3.4-4 -1.7-4.2 -2.5-3.8 -2.5-3.9 -.8-5.2 -0-5.4 -.9-5 -.6-5.4 -.1-5.6 1.5-5.4 .8-5.4 .5-4.9 2.4-4.2 2.7-4.5 2-4.7 1.8-3.4 1.7-2.7 4.3-3.8 5.9-1.6 5.4-2.2 5.2-3.4 5.8-.6zM1016 1150.3l4.9 .2 4.9 .3 4.6 2.2 4.2 3.4 4.6 1.7 5 .7 5.7 .2 6 .7 4 3.8 2.3 5.2 2.6 4.5 3.1 3.9 3 3.5 2.8 3.8 1.5 5.2 1.1 5.3 2.7 4.3 3.3 4.3 1.8 5 -1.1 5.2 -3.9 3.6 -3.4 3.4 -1.1 4.4 -1 4.2 -2.5 3.8 -3.8 2.9 -5 1 -5.1 .1 -4.5 .9 -4.8 .9 -5-.3 -4.8-1.3 -4.6-2.3 -4.4-2.2 -4.1-1 -4.3-.8 -4.6-2.2 -4.5-3.1 -3.7-4.3 -2.4-5.5 -2.3-4.8 -3.1-3.7 -3.4-3.2 -2.9-3.7 -2-5 -2.2-4.8 -3.6-4.2 -2.1-5 .9-5.4 2.7-4.5 3.8-3.2 3.5-2.9 1.5-5 2-4.9 3.8-2.2 4.3-1.2 4.6-1.6z" fill="#16ffb6" fill-opacity="0.1" fill-rule="evenodd" stroke="#0fb783" stroke-dasharray="10.88 2.72 1.70 2.72"/>
<path d="M1016 1150.3l4.9 .2 4.9 .3 4.6 2.2 4.2 3.4 4.6 1.7 5 .7 5.7 .2 6 .7 4 3.8 2.3 5.2 2.6 4.5 3.1 3.9 3 3.5 2.8 3.8 1.5 5.2 1.1 5.3 2.7 4.3 3.3 4.3 1.8 5 -1.1 5.2 -3.9 3.6 -3.4 3.4 -1.1 4.4 -1 4.2 -2.5 3.8 -3.8 2.9 -5 1 -5.1 .1 -4.5 .9 -4.8 .9 -5-.3 -4.8-1.3 -4.6-2.3 -4.4-2.2 -4.1-1 -4.3-.8 -4.6-2.2 -4.5-3.1 -3.7-4.3 -2.4-5.5 -2.3-4.8 -3.1-3.7 -3.4-3.2 -2.9-3.7 -2-5 -2.2-4.8 -3.6-4.2 -2.1-5 .9-5.4 2.7-4.5 3.8-3.2 3.5-2.9 1.5-5 2-4.9 3.8-2.2 4.3-1.2 4.6-1.6z" fill="#0c9165" fill-opacity="0.1" stroke="#086848" stroke-dasharray="10.88 2.72 1.70 2.72"/>
<path d="M1012.5 1125.7l4.2-1.4 4.5-.6 4.6 .6 5.9 1.4 5.2 3.3 4.9 4.2 4.7 2.7 4.3 3 5.8 1.3 5.1 1.3 4.4 3.3 5.8 .6 5.5 1.2 4.5 3 5.7 .4 4.5-.1 3.4 1.4 2.3 3.4 2.7 3.6 2.2 2.7 2.9 3 3.6 3.6 1.4 5 3 3.8 2.8 1.8 .4 3.4 -.1 4.6 2.3 3.4 3.6 2.4 3.5 3.3 1.8 4 1.4 3.6 .8 4.5 -1.3 5.7 .2 3.8 -1.1 1.8 -2.6 5.2 2.1 4.1 3.7 2.8 2 3.8 .6 4.1 -.9 4 -1.5 2.6 -2.3 1.2 -3.5 1.7 -4 0 -5.1-1 -4.9 2.6 -2.4 5.5 -1.8 4 -2.5 2.9 -2.3 3.1 -3 3.4 -4.6 2.2 -4.3 3.1 -4.2 3.3 -6.2-1.1 -5.3-1.6 -4.7 .4 -4.8-.3 -4.6-.8 -4.6-1.3 -4.4-1.6 -5.3 .5 -5.4 .8 -4.5-2.3 -4.6-1.2 -4.8 .7 -4.5-1.5 -2.9-5 -3.6-3.8 -4.5-1.8 -4.3-2.4 -3.5-3.8 -2.6-4.6 -3.1-4 -2.8-4.2 -.5-6.1 -.6-5.9 -3.5-4.3 -2.9-4.6 -1.1-5.3 -2.4-4.8 -4.5-3.2 -5.3-2.1 -4.5-2.7 -2.4-4.2 -.8-5.3 -.1-5.4 .3-5.5 .3-5.5 .6-5.6 .6-5.4 -.2-5.2 .5-5 1.8-5.3 1.4-5.3 2-4 4.3-2.6 6.2-.3 6.1-.7 5.5-2.2 5.1-3.7 5.5-1.7zM1016.1 1151.4l4.7-.1 4.8 .9 4.9 .3 5 .6 4.7 1.8 4.9 1.6 5 2.2 4 3.9 3.6 3.6 3.8 3.2 3.2 3.8 3.6 3.6 3.5 3.3 2.4 4 1.9 5 1.8 5.1 2 4.7 1.7 4.7 .1 4.9 -1.1 4.5 -1.6 4.2 -1.9 4.2 -1.7 4 -1.5 4 -2.4 4.1 -4.2 2.6 -5.2 .5 -4.8 1.1 -4.6 .5 -4.6-1.1 -4.7-.7 -5.1 .1 -5.1-0 -5.1-.3 -4.3-1.4 -3.4-3.3 -2.9-4.5 -3.6-3.7 -4.6-3.3 -4.6-3.4 -3.6-3.8 -2.7-4.2 -2-4.3 -1.5-4.4 -2.8-4.5 -4-4.1 -1.8-4.9 .4-5 .4-4.9 .9-4.8 2.1-3.9 2.1-3.9 1.8-5.2 3.8-3.8 4.8-.4 4.4 .2 4.5-1.4z" fill="#ff6060" fill-opacity="0.1" fill-rule="evenodd" stroke="#b74545" stroke-dasharray="6.29 2.72"/>
<path d="M1016.1 1151.4l4.7-.1 4.8 .9 4.9 .3 5 .6 4.7 1.8 4.9 1.6 5 2.2 4 3.9 3.6 3.6 3.8 3.2 3.2 3.8 3.6 3.6 3.5 3.3 2.4 4 1.9 5 1.8 5.1 2 4.7 1.7 4.7 .1 4.9 -1.1 4.5 -1.6 4.2 -1.9 4.2 -1.7 4 -1.5 4 -2.4 4.1 -4.2 2.6 -5.2 .5 -4.8 1.1 -4.6 .5 -4.6-1.1 -4.7-.7 -5.1 .1 -5.1-0 -5.1-.3 -4.3-1.4 -3.4-3.3 -2.9-4.5 -3.6-3.7 -4.6-3.3 -4.6-3.4 -3.6-3.8 -2.7-4.2 -2-4.3 -1.5-4.4 -2.8-4.5 -4-4.1 -1.8-4.9 .4-5 .4-4.9 .9-4.8 2.1-3.9 2.1-3.9 1.8-5.2 3.8-3.8 4.8-.4 4.4 .2 4.5-1.4z" fill="#bb3535" fill-opacity="0.1" stroke="#862626" stroke-dasharray="6.29 2.72"/>
<path d="M1012.9 1128.6l4.1-.4 4.4-.2 4.2 .6 5.7 .2 5.6 .3 5.4 2.2 5.7 1.3 4.9 2.7 4.4 3.3 4.8 1.5 4.9 1.5 5.6 1.5 5.5 1.8 5.1 2.3 4.8 1.5 4.2 1 3.1 1.9 1.2 3.6 1.9 4.1 2.9 2.8 3 2.8 2.8 4.4 2.7 4.4 4.3 1.5 3.9 1.4 1.1 4.1 1.4 4.1 2.7 2.6 2.5 2.7 1.6 4.5 .8 4.6 1.1 3.7 0 4 -3.3 3.9 -3.1 4 .2 4.8 1.4 4.7 2 4.3 2.5 3.9 3 3 2.4 3.1 -.1 4.3 -1.6 3.4 -2.7 2.3 -3.8 1.9 -4.1 .2 -4.2 .2 -4 2.6 -3.4 3.2 -2.8 2.8 -2.6 2.9 -2.8 2.5 -3.5 2.2 -4.4 1.9 -4.8 2.1 -4.9 1.8 -4.9 1.5 -4.8 .4 -4.7-.1 -4.8 1.1 -4.8 .4 -4.7-1.7 -4.7-1 -5-1 -4.5-2.5 -5-.7 -4.8 .2 -4.2-1.4 -3.8-2.1 -3.9-3.2 -3.3-4.1 -3.7-2.6 -4.1-2.3 -2.6-4.5 -2.5-4.6 -4-3.3 -2.6-4.5 -2.8-4.2 -4.4-3.1 -3.1-4.8 -2.4-5.4 -2.4-4.9 -2.5-4.6 -2.7-3.9 -2.1-4 -2.8-3.7 -3.2-3.7 -.7-5.1 .4-5.3 -2.7-5.1 -.7-5.7 1.4-5.7 .5-5.5 1.6-4.8 2-4.4 1.9-5.1 2-4.8 1.5-4 3.1-3 5.6-.7 5.9-1.6 5.6-1.7 5.6-1.4 5.3-1.7zM1016.1 1150.9l4.8 .1 4.7 1.2 4.8 .6 4.8 1.3 4.7 1.8 4.8 1.5 4.9 2.3 4.5 2.8 4.5 2.5 3.8 3.4 3.1 4.2 3 4.1 2.4 3.9 2.4 4 3.1 4.3 1.8 5.2 1.2 5 1.9 4.6 .9 4.8 -.7 4.8 -2.3 4 -2.7 3.8 -1.6 4.1 -1.5 3.9 -2.7 3.6 -3.8 2.6 -4.5 2 -4.9 1.9 -4.8 .4 -4.8-1 -4.6-1.6 -4.8-1.3 -5.1-.4 -4.8-.6 -4.2-1.5 -3.6-2.4 -3.5-3.5 -4-3.4 -4.7-3.2 -4-4 -3.2-4.2 -3-3.9 -2.2-4.1 -1.9-4.3 -2.9-4.5 -2.6-4.7 -1.5-4.8 -1.2-4.8 .7-4.9 2.1-4.5 1.4-4 1.8-4.2 2.9-4.3 3.3-4 3.8-2.1 4.5-.3 4.7-.8z" fill="#ed78ff" fill-opacity="0.1" fill-rule="evenodd" stroke="#aa56b7"/>
<path d="M1016.1 1150.9l4.8 .1 4.7 1.2 4.8 .6 4.8 1.3 4.7 1.8 4.8 1.5 4.9 2.3 4.5 2.8 4.5 2.5 3.8 3.4 3.1 4.2 3 4.1 2.4 3.9 2.4 4 3.1 4.3 1.8 5.2 1.2 5 1.9 4.6 .9 4.8 -.7 4.8 -2.3 4 -2.7 3.8 -1.6 4.1 -1.5 3.9 -2.7 3.6 -3.8 2.6 -4.5 2 -4.9 1.9 -4.8 .4 -4.8-1 -4.6-1.6 -4.8-1.3 -5.1-.4 -4.8-.6 -4.2-1.5 -3.6-2.4 -3.5-3.5 -4-3.4 -4.7-3.2 -4-4 -3.2-4.2 -3-3.9 -2.2-4.1 -1.9-4.3 -2.9-4.5 -2.6-4.7 -1.5-4.8 -1.2-4.8 .7-4.9 2.1-4.5 1.4-4 1.8-4.2 2.9-4.3 3.3-4 3.8-2.1 4.5-.3 4.7-.8z" fill="#8342c1" fill-opacity="0.1" stroke="#5e2f8a"/>
</g>
<g clip-path="url(#c50)" stroke-width="1.7" stroke-linejoin="round">
<path d="M232.5 1427.7l4.2 .7 4.8-.1 5-.4 4.6 2.1 3.4 3.6 4 2.6 5.1 1.2 5.1 1.7 4.9 2.8 4.5 1.9 4-2.4 4-2.7 4.6 1.3 4.9 2.7 5.1 2.6 5 3.2 3.6 4.8 1.4 5.8 2.6 3.9 4 3 2.6 4.7 .1 5.8 2.2 4.4 1.9 4.8 -2.3 4.8 -1.4 4.8 2.2 4 2.2 3.7 1.8 4.5 2.7 3.7 2.3 3 .9 3.4 -1.6 4.5 -1.3 5.2 -1.2 4.8 -1.2 4.6 -.8 4.3 -1.8 3.9 -3.8 2.6 -4 2.5 -3.1 3.4 -2.9 3.3 -2.8 3.6 -3.5 3.5 -4.7 .8 -5 1.2 -3.5 5.1 -4.7 3.5 -5.5 .3 -4.7 1.5 -4.6 1.8 -4.8 .8 -4.9 .8 -4.7 .6 -4.8-.8 -5.1-1.2 -4.8-1.5 -4.3-2.9 -3.7-2.7 -4.2-1.2 -4.2-.9 -3.5-1.8 -3.4-4.6 -4.7-3.1 -5.6 .2 -4.5-1.1 -3.5-.7 -2.4-.7 -3.1-4.2 -1.2-6.5 .1-4.5 -.5-4.5 -1.6-4.1 -2.8-5.5 -1.4-5.4 -1.2-4.1 -.5-4 2.3-4.5 2.9-4.7 -.7-6.1 -0-5.3 -.2-4.5 -2.1-3.7 -.9-4.9 2.9-4.6 2.2-4.6 -1.1-5 1.7-5.1 4.6-3.1 4.3-3 3.7-3.3 2.6-4.5 1.3-4.6 3.1-3.1 3.9-2.5 3.1-4.9 3.5-4.5 4.5-.8zM241.5 1463.1l4.7-1.9 4.8 1.2 4.6 1.7 5.2 .3 4.8 2.5 4.2 3.5 4.4 .9 4.2 1.1 3.9 3.3 3.7 3.6 3.6 3.8 2.7 4.3 2.1 4.4 .8 5 -.3 5.5 1 5.7 .2 4.3 -1 4.4 -.6 4.1 .6 4.8 -.8 4.9 -2.5 4.1 -2.8 4.7 -2.9 3.9 -3.9 3.7 -4 2.8 -4.9 2.1 -4.8 1.7 -4.1 .7 -4-1.1 -3.5-3.2 -4.2-2.4 -4.9 .6 -5-.3 -4.7-3.1 -4.4-3.4 -3.6-3.6 -3.2-4 -3.5-4 -3-4 -2.2-3.4 -1.8-3.3 -1.9-4.4 -1-4.9 .8-4.1 .7-3.9 -.4-4.8 .6-5 2.5-4.5 1.4-4.9 1.6-5.3 3.6-3.9 3.2-4 3.8-3.7 5.4-.9z" fill="#53b7ff" fill-opacity="0.1" fill-rule="evenodd" stroke="#3b83b7" stroke-dasharray="1.70 2.80"/>
<path d="M241.5 1463.1l4.7-1.9 4.8 1.2 4.6 1.7 5.2 .3 4.8 2.5 4.2 3.5 4.4 .9 4.2 1.1 3.9 3.3 3.7 3.6 3.6 3.8 2.7 4.3 2.1 4.4 .8 5 -.3 5.5 1 5.7 .2 4.3 -1 4.4 -.6 4.1 .6 4.8 -.8 4.9 -2.5 4.1 -2.8 4.7 -2.9 3.9 -3.9 3.7 -4 2.8 -4.9 2.1 -4.8 1.7 -4.1 .7 -4-1.1 -3.5-3.2 -4.2-2.4 -4.9 .6 -5-.3 -4.7-3.1 -4.4-3.4 -3.6-3.6 -3.2-4 -3.5-4 -3-4 -2.2-3.4 -1.8-3.3 -1.9-4.4 -1-4.9 .8-4.1 .7-3.9 -.4-4.8 .6-5 2.5-4.5 1.4-4.9 1.6-5.3 3.6-3.9 3.2-4 3.8-3.7 5.4-.9z" fill="#2e66c1" fill-opacity="0.1" stroke="#21498a" stroke-dasharray="1.70 2.80"/>
<path d="M241.5 1446l3.9 1.5 4.8 .3 4.5 2 4.9 1.5 5.5-1.2 5.2-.2 5.1 .7 5.2 .2 4.9 1.7 4.9 2.5 4 3.7 2.7 4.8 3.3 3.2 3.8 2.5 2.6 3.1 2.5 3.2 4 2.9 3.5 3.8 1.7 5.3 1.3 5.2 2.1 4.1 3.1 3.8 1.9 5.1 -2.3 5.6 -1.3 4.3 1 5.2 -1 4.9 -.8 5 .5 5 -2.9 4.5 -3.6 3.6 -2.1 5 -3.6 4.4 -2.4 5.2 -3.4 4.3 -4.7 2.9 -2.7 5.1 -5.2 2.7 -5.5-.9 -5.6 .3 -4.8 1 -3.9 2.8 -2.6 4.5 -2.8 4.2 -3.5 1.5 -3.7 1.5 -4.3 1.9 -4.7 .4 -4.8 1.5 -4.7 .6 -5-2.2 -4.7-.5 -4.7 .8 -3.8-1.2 -3.5-2.5 -3.5-3.8 -3.2-3.7 -4.2-1.5 -4.6-1.8 -3.3-3.9 -2.9-3.9 -3-3.9 -1.7-4.5 -1.2-4.7 -2.3-3.9 -2.7-3.5 -2.5-4.1 -3.9-4 -5.1-2.9 -4.1-3.3 -3.7-3.3 -4.6-3.2 -2.9-5.3 3.9-4.2 4.1-2.3 .7-4.2 .6-4.8 .8-4.1 .9-3.6 3.6-3.3 4.7-2.8 2-4.2 .7-4.2 2.7-4.1 3.3-3.1 3.8-2.7 4.5-3 3.7-2.8 3.5-2.9 2.7-2.9 2.7-2.9 4-2.6 3.9-2.2 3.7-2.8 4.7-1.8 5.4-1.2 4.5-2.4 3.2-1.3zM241.4 1471.4l4-.2 4.1 .9 3.8 1.6 4 1.8 4.7 1.5 4.7 1.2 4.5 1.7 3.9 2.3 3.2 2.4 2.9 2.8 3.4 3.7 3.8 3.7 2.4 3.8 1.3 4.2 1 5 1.1 5 .6 4.9 .2 4.7 -.1 4.1 -1.3 3.7 -2.8 3.5 -2.7 3.9 -2.1 4.3 -2.4 3.8 -2.7 3.4 -2.9 3.5 -3.6 2.9 -4.2 2.2 -4.5 2.4 -5 1.6 -5-.5 -4.7-.7 -4.1 .3 -3.9 .1 -4.3-.8 -4.3-1.3 -4.1-2.5 -3.2-3.6 -3.3-3.1 -3.6-2.9 -2.5-4 -2-4.2 -2.8-3.8 -2.2-4.2 -.5-4.8 -.5-4.9 -.2-4.8 .7-4.7 .8-4.7 .9-4.7 1.7-4.7 1.4-4.7 1.6-4.9 3-4.5 4.4-3.9 4.8-2.9 3.5-1.4 2.9-1.2 2.9-1.3z" fill="#16ffb6" fill-opacity="0.1" fill-rule="evenodd" stroke="#0fb783" stroke-dasharray="10.88 2.72 1.70 2.72"/>
<path d="M241.4 1471.4l4-.2 4.1 .9 3.8 1.6 4 1.8 4.7 1.5 4.7 1.2 4.5 1.7 3.9 2.3 3.2 2.4 2.9 2.8 3.4 3.7 3.8 3.7 2.4 3.8 1.3 4.2 1 5 1.1 5 .6 4.9 .2 4.7 -.1 4.1 -1.3 3.7 -2.8 3.5 -2.7 3.9 -2.1 4.3 -2.4 3.8 -2.7 3.4 -2.9 3.5 -3.6 2.9 -4.2 2.2 -4.5 2.4 -5 1.6 -5-.5 -4.7-.7 -4.1 .3 -3.9 .1 -4.3-.8 -4.3-1.3 -4.1-2.5 -3.2-3.6 -3.3-3.1 -3.6-2.9 -2.5-4 -2-4.2 -2.8-3.8 -2.2-4.2 -.5-4.8 -.5-4.9 -.2-4.8 .7-4.7 .8-4.7 .9-4.7 1.7-4.7 1.4-4.7 1.6-4.9 3-4.5 4.4-3.9 4.8-2.9 3.5-1.4 2.9-1.2 2.9-1.3z" fill="#0c9165" fill-opacity="0.1" stroke="#086848" stroke-dasharray="10.88 2.72 1.70 2.72"/>
<path d="M241.4 1443.6l4.5 .7 5 .8 5 1.1 4.8 1.3 4.8 1 4.8 1.5 4.6 2 4.6 2.5 4.5 2.4 4.2 2.1 3.6 3.1 4.2 2.6 4.8 1.7 3.5 2.7 2.1 3.5 3 2.9 4.7 2.5 3.7 3.7 2.3 4.9 2.1 4.8 .4 5 .7 5 2.1 4.7 -.6 5.2 -3 4.1 -.9 4.4 -.8 4.9 -1.8 5 .6 5.3 .3 4.8 -2.7 4 -2.8 4.5 -1.7 5.7 -2 5.3 -3.1 4.4 -4.1 4.1 -4.5 4 -5.5 2.5 -4.9 1.1 -4.8 1.8 -4 1.4 -4.1 2 -3 2.8 -3.3 3.5 -3.8 2 -4.2 2 -4.9 2.5 -4.9-1.2 -4.7-2.3 -5 0 -4.7 .6 -4.8 .5 -4.6-.1 -3.1-2.3 -1.9-3.6 -2.4-4.4 -3.4-4.6 -4.2-3.3 -3.7-2.2 -3.1-2.4 -2.6-3.1 -3-3.2 -3.7-3.2 -3.2-3.5 -3.8-3 -4.6-1.3 -3.9-2.6 -2.7-5.2 -4.7-3 -4.1-3 -2.2-5.5 -2.9-4.7 -1.6-4.5 3.9-2.7 3.9-3.3 -.5-5 1-4.9 .6-4.1 -.9-4.3 2.7-5.1 5.2-1.5 2.2-3.6 .5-4.9 3.8-3.5 3.9-2.1 3.4-3.2 4.9-2.6 4.8-1.8 2.9-3.4 1.6-4 2.4-3.1 4.5-2.2 4.2-1.7 4-1.3 4.9-1.7 4.8-3.1 4.2-3.1 3-1.8zM241.4 1472.8l3.7 .9 3.9 .8 4.1 .1 4.5-.3 5 .3 4.8 1.9 3.9 3.2 3.3 3.3 3.2 2.2 3.7 1.8 4.3 3.2 2.3 4.8 1 4.3 1.8 3.9 3.2 4.3 2 4.9 -.8 5.3 -1.6 4.7 -.4 3.9 -0 3.8 -1.4 4.2 -2.5 4.1 -2.3 4.1 -2.7 3.8 -3.5 2.8 -3.6 2.7 -3.4 2.8 -3.7 3.2 -4.4 2.7 -5.2 .6 -4.9-1.3 -4.7 0 -4.1 1.4 -4 .1 -3.9-1.9 -3.8-2.2 -4.1-2.2 -3.9-2.5 -3.9-2.5 -3.7-2.9 -2.3-4.1 -1.8-4.4 -2.8-3.8 -2.1-4.2 -.7-4.9 -1.2-4.8 -.6-4.9 1.5-4.8 1.6-4.6 .7-4.7 .7-5.1 .5-5.3 2.3-4.9 5.3-2.5 5.8-2.5 2.9-4.5 2.6-2.9 3-1.3 3.1-.4z" fill="#ff6060" fill-opacity="0.1" fill-rule="evenodd" stroke="#b74545" stroke-dasharray="6.29 2.72"/>
<path d="M241.4 1472.8l3.7 .9 3.9 .8 4.1 .1 4.5-.3 5 .3 4.8 1.9 3.9 3.2 3.3 3.3 3.2 2.2 3.7 1.8 4.3 3.2 2.3 4.8 1 4.3 1.8 3.9 3.2 4.3 2 4.9 -.8 5.3 -1.6 4.7 -.4 3.9 -0 3.8 -1.4 4.2 -2.5 4.1 -2.3 4.1 -2.7 3.8 -3.5 2.8 -3.6 2.7 -3.4 2.8 -3.7 3.2 -4.4 2.7 -5.2 .6 -4.9-1.3 -4.7 0 -4.1 1.4 -4 .1 -3.9-1.9 -3.8-2.2 -4.1-2.2 -3.9-2.5 -3.9-2.5 -3.7-2.9 -2.3-4.1 -1.8-4.4 -2.8-3.8 -2.1-4.2 -.7-4.9 -1.2-4.8 -.6-4.9 1.5-4.8 1.6-4.6 .7-4.7 .7-5.1 .5-5.3 2.3-4.9 5.3-2.5 5.8-2.5 2.9-4.5 2.6-2.9 3-1.3 3.1-.4z" fill="#bb3535" fill-opacity="0.1" stroke="#862626" stroke-dasharray="6.29 2.72"/>
<path d="M241.4 1442.9l4.5 1 5.2 .7 4.6 2.1 4.6 2.3 5 .3 5.1 .3 4.8 1.7 4.4 2.7 4.6 2.2 5.1 .8 4.8 2.2 3.3 4 3 3.6 3.2 2.9 3 2.7 2.2 3.4 1.3 4.5 2.3 4.2 4.4 3.8 2 5 1 4.8 2.6 3.8 2.7 4.3 .8 5 -.1 4.8 -1.1 4.9 -1.6 4.8 -1.7 4.7 -1.6 4.7 -.7 4.6 -1.3 5.1 -4.2 3.4 -4.5 3.9 -1.8 5.7 -2.5 4.8 -3 4.3 -4.1 3.9 -5.1 3 -4.7 1.5 -5.2 .9 -3.8 2.1 -3.5 3 -3.4 2.1 -3.7 3.1 -2.9 3.2 -4.7 1.4 -5 0 -4.7 .7 -4.8 .4 -4.8-.3 -4.9-.9 -4.8-.2 -4.9 1 -4.2-1.2 -2.2-4 -1.7-5.2 -4.6-2.9 -4.3-2 -3.3-3.3 -3.6-2.7 -3.6-3 -1.8-4.3 -2.1-4.2 -2.5-4 -2.5-3.9 -3.7-2.6 -3.4-3.2 -2.3-5.6 -5.5-2.5 -4.6-2.6 -2-5.2 -3.7-3.3 -3.4-3.9 3.3-3.7 4.5-2.4 1.7-4.7 .3-5 -2-4.2 -.3-4.9 5.4-2.3 5.3-2.2 1-4.7 1.6-3.8 3.6-2.4 3.1-3.7 3.7-3.3 4.7-2.7 2.5-4 2.5-3.6 2.7-2.8 2.5-3.3 3.3-3.8 4.6-2.5 4.7-1.6 4.9-.9 5.3-1.2 4.2-3 3-2.1zM241.4 1471.8l3.9 .6 4.1 .5 3.9 .8 4.1 1.6 4.7 1.4 4.9 .8 4.3 2.2 3.5 2.9 3.4 2.1 3.4 2.2 3 4.2 2.5 4.5 2.5 3.5 1.9 3.9 1.2 4.9 1.2 5 .9 4.8 -.3 4.7 .1 4.1 -.1 4 -2.1 4.2 -3.3 3.6 -2.4 4 -2.1 4.2 -3.1 3.2 -3.6 2.8 -3.5 3 -4.1 2.4 -4.9 1.4 -4.9 1.4 -4.8 .5 -4.7-.7 -4.1-0 -3.9 .3 -4.3-.7 -3.9-2.3 -3.7-2.7 -3.9-2.6 -3.6-2.7 -3.1-3.4 -2.5-3.9 -2.3-4.1 -2.5-3.9 -2.2-4.1 -1-4.7 -.2-4.9 -.5-4.8 -.3-4.8 .8-4.8 1.6-4.7 .9-5 1.7-4.8 3.4-3.7 3.3-4 3.4-4.9 4.6-3.1 3.4-1.7 2.9-1.5 3-1.1z" fill="#ed78ff" fill-opacity="0.1" fill-rule="evenodd" stroke="#aa56b7"/>
<path d="M241.4 1471.8l3.9 .6 4.1 .5 3.9 .8 4.1 1.6 4.7 1.4 4.9 .8 4.3 2.2 3.5 2.9 3.4 2.1 3.4 2.2 3 4.2 2.5 4.5 2.5 3.5 1.9 3.9 1.2 4.9 1.2 5 .9 4.8 -.3 4.7 .1 4.1 -.1 4 -2.1 4.2 -3.3 3.6 -2.4 4 -2.1 4.2 -3.1 3.2 -3.6 2.8 -3.5 3 -4.1 2.4 -4.9 1.4 -4.9 1.4 -4.8 .5 -4.7-.7 -4.1-0 -3.9 .3 -4.3-.7 -3.9-2.3 -3.7-2.7 -3.9-2.6 -3.6-2.7 -3.1-3.4 -2.5-3.9 -2.3-4.1 -2.5-3.9 -2.2-4.1 -1-4.7 -.2-4.9 -.5-4.8 -.3-4.8 .8-4.8 1.6-4.7 .9-5 1.7-4.8 3.4-3.7 3.3-4 3.4-4.9 4.6-3.1 3.4-1.7 2.9-1.5 3-1.1z" fill="#8342c1" fill-opacity="0.1" stroke="#5e2f8a"/>
</g>
<g clip-path="url(#c51)" stroke-width="1.7" stroke-linejoin="round">
<path d="M531.8 1426.4l3.7 0 3.3 2.1 2.1 4.3 3.5 3.2 4.1-2.7 3.9-2.9 3.9 .6 4.1 .7 4.8-.6 4.8 1 3.6 3 4.1 2.4 5 1.1 4.6 1.9 3.5 2.8 3.2 3.1 3.2 3.3 2.8 3.4 2.5 2.5 2 2.4 1.2 3.5 .8 4.2 .9 4.9 2.3 4.6 3.4 3.4 1.6 4.5 -.4 5 1.1 4.6 .3 4.9 -1.1 4.6 .5 4.7 1.2 4.9 -.9 5.4 -1.5 5.6 -.6 5.6 -.3 5.6 -.9 4 -2.1 3.6 -2.3 3.4 -1.5 5.7 .5 5.5 1 5.2 0 4.2 -2.3 1.8 -3.7 1.6 -4.4 2.1 -5.1 1 -5.1-0 -4.5 1.5 -3.1 4.2 -3.3 3.6 -4.6 1.2 -5-.4 -3.6-2.9 -3.9-3 -5.7-1.1 -5.6-1.9 -5.7-.3 -5.5 1.3 -4.9-1.2 -4.1-2.6 -4.9-1.5 -5.6-.5 -4.3-1.5 -4.6-1.8 -5.7-.7 -5.6-1.9 -4.5-2.9 -5-1.8 -5.1-2.7 -4.3-4 -4.9-2.3 -4.9-2 -3.1-4 -2.7-4.5 -4.8-3.6 -5.2-1.9 -4.8 .5 -4.6 .6 -3.5-.8 -2.2-1.3 -1.5-3.1 -1.4-4.3 -.2-4.1 1.2-3.8 1.8-3.1 2.3-3.7 4.3-2.7 4.6-2.8 1-5.1 .9-5.1 2.9-4.3 1-5 .9-5.5 4.1-3.8 4-2.9 3.3-4.1 4-3.1 4.6-2.1 4.3-2.6 4.4-2.7 5.2-0 5.6-.2 2.9-3.3 1.8-4.4 3.3-2.8 6.4-1.5 3.7-3.9 1-3.6 2-3 4.3-1.7 4.2-2.2 3.9-2.8zM527.2 1463.9l5.3-.6 5.7-.7 5.6-1.1 5.5-.1 5 .7 4.4 1.5 3.8 2.4 4.1 1.7 4.4 .7 3.9 1.6 3.3 2.5 3 2.6 2.5 3.8 1.5 4.6 2 4.4 2.4 4.7 -0 5.6 -1.1 5.6 .4 5.6 .4 5.5 -.3 5.8 -1.9 5.3 -2.7 4.4 -1.9 5.1 -1.9 5.6 -3.9 4.3 -4.6 2.8 -4.1 2.5 -4.3 2.1 -4.9 .5 -4.7-1.3 -4.9-.8 -4.7-.1 -4.6-1.3 -4.7-1.3 -5.3-1.1 -4.3-3.3 -4.7-2.6 -5.1-.9 -4.6-1.7 -4.9-1.2 -4.8-.9 -3.1-3.1 -2.2-3.8 -3.6-2.6 -4.3-2.1 -3.4-3.1 -2.3-3.9 -2.4-3.4 -1.4-3.2 .3-4.5 -0-5 -.2-3.5 1.3-3.2 3.5-2.7 4.2-2.5 4.4-3.5 4.3-4 4.8-2.7 5.5-.9 4.5-2.9 2.5-4.6 1.9-3.3 3-2.3 4-1.1z" fill="#53b7ff" fill-opacity="0.1" fill-rule="evenodd" stroke="#3b83b7" stroke-dasharray="1.70 2.80"/>
<path d="M527.2 1463.9l5.3-.6 5.7-.7 5.6-1.1 5.5-.1 5 .7 4.4 1.5 3.8 2.4 4.1 1.7 4.4 .7 3.9 1.6 3.3 2.5 3 2.6 2.5 3.8 1.5 4.6 2 4.4 2.4 4.7 -0 5.6 -1.1 5.6 .4 5.6 .4 5.5 -.3 5.8 -1.9 5.3 -2.7 4.4 -1.9 5.1 -1.9 5.6 -3.9 4.3 -4.6 2.8 -4.1 2.5 -4.3 2.1 -4.9 .5 -4.7-1.3 -4.9-.8 -4.7-.1 -4.6-1.3 -4.7-1.3 -5.3-1.1 -4.3-3.3 -4.7-2.6 -5.1-.9 -4.6-1.7 -4.9-1.2 -4.8-.9 -3.1-3.1 -2.2-3.8 -3.6-2.6 -4.3-2.1 -3.4-3.1 -2.3-3.9 -2.4-3.4 -1.4-3.2 .3-4.5 -0-5 -.2-3.5 1.3-3.2 3.5-2.7 4.2-2.5 4.4-3.5 4.3-4 4.8-2.7 5.5-.9 4.5-2.9 2.5-4.6 1.9-3.3 3-2.3 4-1.1z" fill="#2e66c1" fill-opacity="0.1" stroke="#21498a" stroke-dasharray="1.70 2.80"/>
<path d="M512.8 1448.3l5.4 1.3 5.6 2.5 5.8-1.1 5.4-2.3 5.6-.1 5.6 .1 5.5-3.1 5.4-1.9 5.8 1.5 5.4 1.7 3.8 2.4 2.6 2.5 1.8 2.8 2.5 3.8 4 3.5 4.2 1.9 4 1 3.4 1.7 2.7 2.6 3.3 2.7 3.5 3.2 2.5 2.6 3.4 2.1 4.4 4.7 -.3 6.5 -2.4 4.8 .9 4.6 2.1 4 2.3 3.3 1.9 4 -1.5 4.4 -1.9 3.8 0 4.4 .5 5 -.6 5.4 -.5 5.7 -1.4 5.5 -2.2 5.5 .3 5.8 .1 5.1 -2.4 4 -2.8 4.3 -4.3 3.4 -5 1.8 -4.6 2.5 -4.5 2.8 -3.1 3.9 -1.6 2.5 -1.4 .3 -1.7 .1 -2.3-1.5 -4.9-1.6 -5.4 2.1 -4.7 1.9 -4.2 1.3 -4.8 1.4 -4.9-1.1 -4.5-2.5 -4.8-.7 -4.8-.6 -4.9-1.3 -4.1-.5 -3.6-.7 -4.1-1.4 -3.7-2.2 -4-1.9 -4.6 .8 -5.4 1 -5.3-1.9 -4.2-3.5 -3.4-3 -3.5-2.8 -4-3.9 -4-4.5 -4.8-2.7 -5.2-.6 -5.2-.1 -4.3-1.1 -3.8-1.9 -4.9-1.1 -5.5 .6 -5.3-1.7 -2.9-4.7 -1.4-4.3 -3.2-2.7 -4.5-2.5 -4.1-4.3 -1.5-5.6 2-4.2 2-3.7 1.2-4.1 .9-4.7 -2.1-4.7 -2.9-2.9 .3-4.7 4.9-3.3 3.8-1.9 2.8-3 3.8-3.8 4.1-4.5 4.6-3.6 5.5-1.7 3.7-4 4.2-3.9 6-.3 5.5-1.8 5.5-2.1 5.6-1.1 5-1.6 4.6-1.4 3.1-2.6 2.2-3.5 2.7-2.9 4.2-1.4 5.1-.8zM535.1 1472.4l5.8 .3 4.8 .6 2.9 1.4 3.1 1.8 3.3 1.4 3.2 1.8 4 1.9 4.9 1.2 4.1 2.3 2.2 4.2 1.7 4.4 2.9 3.7 3.2 3.5 2.3 4.2 1.8 4.7 .8 4.8 -.6 5 .2 4.9 0 4.8 -1.9 4.6 -1.5 4.6 -.3 4.9 -.8 5.2 -1.4 4.6 -2.6 2.9 -3.7 1.6 -4.7 .7 -5.1 .4 -4.9-.4 -4.9-.9 -4.6 1.3 -4.7 2 -5.7-.4 -5.5-1 -4-1.8 -3.5-2.6 -4-1.4 -3.8-.7 -3.7-1.8 -3.8-2.1 -4.4-.6 -4.6 .1 -4.1-.8 -3.9-1.1 -4.4-.2 -4.2-1.9 -1.4-4.8 -1.5-4.7 -3.7-3.3 -3-3.6 -1.6-4.1 -1.3-4.2 -1.1-4.8 .1-5 1.8-4.8 2.3-4.3 1-4.3 1.2-4 3.4-2.9 4.6-1.7 4.7-2.4 4.6-2.9 4.4-3.2 4.7-2.6 5.4-.1 5.2 .3 5.2-2.1 5.4-2.1 4.8-.6z" fill="#16ffb6" fill-opacity="0.1" fill-rule="evenodd" stroke="#0fb783" stroke-dasharray="10.88 2.72 1.70 2.72"/>
<path d="M535.1 1472.4l5.8 .3 4.8 .6 2.9 1.4 3.1 1.8 3.3 1.4 3.2 1.8 4 1.9 4.9 1.2 4.1 2.3 2.2 4.2 1.7 4.4 2.9 3.7 3.2 3.5 2.3 4.2 1.8 4.7 .8 4.8 -.6 5 .2 4.9 0 4.8 -1.9 4.6 -1.5 4.6 -.3 4.9 -.8 5.2 -1.4 4.6 -2.6 2.9 -3.7 1.6 -4.7 .7 -5.1 .4 -4.9-.4 -4.9-.9 -4.6 1.3 -4.7 2 -5.7-.4 -5.5-1 -4-1.8 -3.5-2.6 -4-1.4 -3.8-.7 -3.7-1.8 -3.8-2.1 -4.4-.6 -4.6 .1 -4.1-.8 -3.9-1.1 -4.4-.2 -4.2-1.9 -1.4-4.8 -1.5-4.7 -3.7-3.3 -3-3.6 -1.6-4.1 -1.3-4.2 -1.1-4.8 .1-5 1.8-4.8 2.3-4.3 1-4.3 1.2-4 3.4-2.9 4.6-1.7 4.7-2.4 4.6-2.9 4.4-3.2 4.7-2.6 5.4-.1 5.2 .3 5.2-2.1 5.4-2.1 4.8-.6z" fill="#0c9165" fill-opacity="0.1" stroke="#086848" stroke-dasharray="10.88 2.72 1.70 2.72"/>
<path d="M512.9 1450.6l5 .6 5.9 1.2 5.9 .3 5.4-2.9 5.3-3.1 5.6-1.4 5.7-1.2 5.4-.5 5.6-1.3 6.1-.2 4.5 4.2 2.1 4.6 1.5 3.4 3.2 2.9 4.5 2.1 3.8 2.7 2.6 3.1 2.1 2.9 2.7 2.3 3.6 2.1 2.6 3.5 1.1 4.3 3.1 3.3 3.3 2.9 -.6 4.5 -1.5 5.2 1.8 5.3 2.4 4.7 3 3.3 2.4 2.4 -.9 3.7 -2.3 4.1 1.1 4.7 2.1 4.8 -1.6 5.5 -.8 5.7 1.2 5.8 -1.6 5.4 -.4 5.7 .4 5.8 -2.1 5.5 -3.3 5.3 -4.9 3.4 -4.9 1.7 -4.3 2 -4.1 1.8 -2.2 3.6 -1.8 3.9 -3.7 1 -3.1-1.4 -2.4-2.3 -4.3-1 -4.9 1.9 -5.3-.3 -4.1-.2 -4.3 1 -4.5-1.4 -4.7-2.1 -5.1-1.1 -5-1.9 -5.1-.3 -3.8 1.5 -3.1-.6 -3.3-2.4 -3.8-2.7 -4.6-1.9 -5.1 .7 -5.3 1.2 -5-2 -4-3.7 -4-1.3 -4.8-.1 -4.9-1.9 -4.2-3.6 -4.5-2 -4.9-1 -5.2-.9 -5-1.8 -3.8-3.2 -3-3 -3.2-3.1 -2.9-4.1 -2.5-3.7 -3.6-2.9 -4.1-2.2 -4-2.4 -4.2-3.2 -2.2-4.3 1-3.6 .5-4.1 -.6-4.4 -0-3.1 -1.1-4.1 -.8-4.4 2.2-4.1 3-4.4 2.7-3.2 3.4-2.6 4.4-3.3 4.7-3.6 4.3-3.9 3.5-5.1 4.6-3 6 .1 5.4-2.1 5.1-3.3 6.2 .3 5.7-.7 4.8-2.4 4.3-1.9 3.4-2.1 3-2.4 3.1-2.4 3.5-2 4.7-1.1zM534.9 1471.6l5.9 .4 5.4-1.2 4.1 1.1 2.9 2.2 3 1.4 3.4 1.5 3.7 2.7 3.4 3.6 3.2 3.1 3 3.3 2.2 4 2.9 3.7 3.2 3.5 1.3 4.5 .2 4.8 1.2 4.8 1.1 4.7 .5 4.8 .6 4.9 -.6 4.8 -2.2 4.5 -1.7 4.6 -1.2 5 -1.9 4 -2.1 2.2 -3.2 2.2 -4.5 1.6 -5.2-.9 -4.8-.6 -4.7 1 -4.7 1.3 -4.7 1.3 -5.8 1.5 -5.6-1.6 -3.6-3.2 -3.7-2.1 -4.2-.3 -3.9-.9 -3.9-1.5 -4.3-.8 -4.4-.6 -3.8-1.6 -3.8-1.7 -3.9-1.3 -4.1-1.1 -3.8-1.6 -3.3-3.3 -2.8-4 -2-4.2 -1.7-4.3 -1.3-4.1 -.3-4.2 .1-4.5 -1.2-4.8 -.2-5 1.8-4.5 1.4-4.2 1.6-3.7 3.6-2.6 4.5-1.9 4.7-2.3 4.6-2.9 4.4-3.3 5.1-1.6 5.1-.5 4.7-1.3 5.5-.7 5.5-1.1 4.6-2.4z" fill="#ff6060" fill-opacity="0.1" fill-rule="evenodd" stroke="#b74545" stroke-dasharray="6.29 2.72"/>
<path d="M534.9 1471.6l5.9 .4 5.4-1.2 4.1 1.1 2.9 2.2 3 1.4 3.4 1.5 3.7 2.7 3.4 3.6 3.2 3.1 3 3.3 2.2 4 2.9 3.7 3.2 3.5 1.3 4.5 .2 4.8 1.2 4.8 1.1 4.7 .5 4.8 .6 4.9 -.6 4.8 -2.2 4.5 -1.7 4.6 -1.2 5 -1.9 4 -2.1 2.2 -3.2 2.2 -4.5 1.6 -5.2-.9 -4.8-.6 -4.7 1 -4.7 1.3 -4.7 1.3 -5.8 1.5 -5.6-1.6 -3.6-3.2 -3.7-2.1 -4.2-.3 -3.9-.9 -3.9-1.5 -4.3-.8 -4.4-.6 -3.8-1.6 -3.8-1.7 -3.9-1.3 -4.1-1.1 -3.8-1.6 -3.3-3.3 -2.8-4 -2-4.2 -1.7-4.3 -1.3-4.1 -.3-4.2 .1-4.5 -1.2-4.8 -.2-5 1.8-4.5 1.4-4.2 1.6-3.7 3.6-2.6 4.5-1.9 4.7-2.3 4.6-2.9 4.4-3.3 5.1-1.6 5.1-.5 4.7-1.3 5.5-.7 5.5-1.1 4.6-2.4z" fill="#bb3535" fill-opacity="0.1" stroke="#862626" stroke-dasharray="6.29 2.72"/>
<path d="M512.8 1447.5l5.6 .6 5.5 2.1 5.6-.4 5.6-.4 5.5-.7 5.5-1.7 5.6-.1 5.5 .5 5.8 .2 5.3-.3 4.7-.1 3.9 1.9 1.7 3.9 1.8 4 4.3 2.1 4.6 1.3 3.6 2.2 2.6 2.9 1.8 3.6 1.9 3.4 2.4 3.5 2.4 3.5 2.7 3.6 2.4 3.5 1.1 4.3 .1 4.9 -.1 5.3 2 4.6 3.5 2.9 2.1 3.1 -1.5 3.9 -1.6 4.1 .6 4.5 .3 5 -.3 5.4 -.1 5.7 -.8 5.6 -.8 5.5 .5 5.8 -1 5.5 -3.5 3.8 -3.6 3.3 -4.3 3.1 -4.6 2.7 -4 3.3 -3.7 3 -2.4 3.8 -2 3.1 -2.5 .8 -2.8 .5 -3.3-.5 -3.3 .1 -4.1 1.1 -5.6-.6 -4.6 .1 -4.6 .4 -4.8-1.4 -5.1-.4 -4.7-.6 -4.5-2.7 -5-0 -4.8 1.4 -3.2-2.6 -2.4-3.6 -4.3-1.7 -4.6-1.1 -4.2-2.2 -4.7-1.3 -5.1-.8 -4.6-1.8 -4.1-1 -4.4-.9 -3.8-4 -4.5-3.6 -5.7 .7 -5-.5 -4.5-3 -4.1-2.5 -3.1-3 -3.2-3.3 -4.5-1.6 -4.7-1.5 -3.1-3.5 -2.4-4 -3.5-3 -3.8-2.4 -4.3-3.2 -3.6-3.7 -.1-4.5 1.9-3.9 2.4-3.7 1-4.4 -3.1-3.9 -3-3.7 .9-5.3 3.6-4.6 4.1-2.2 3.5-2.7 3.1-5.2 5.2-2.8 5.7-1.9 4.3-3.8 4.7-2.3 4.8-2.4 5-3.3 6-.2 6.2 .5 5.2-2.7 4.4-3.6 4.2-1.8 3.9-1 3.7-1.7 3-2.3 3.1-2.4 4.2-2.4zM535 1471.9l5.8-.6 5.3 .3 3.3 1.8 2.9 2.1 3.3 1.2 3.5 1.2 3.9 2.3 3.6 3.2 3.4 2.9 3.3 3.1 2 4.2 1.9 4.3 3.5 3.3 3 3.8 .3 5 -.5 5.1 .9 4.7 1.4 4.7 .1 4.8 -1.5 4.7 -1.2 4.7 -.4 4.8 -1.1 5.3 -2.6 4 -2.7 1.7 -3.3 1.5 -4.5 1.6 -5 .6 -4.8-.2 -4.8 .1 -4.6 1.3 -4.8 1.4 -5.7-.9 -5.3-1.3 -4.3-.7 -4-.9 -3.9-1 -3.8-1.5 -3.8-2 -4-1.4 -4.2-1.1 -4-1.4 -3.9-1.5 -3.9-1.3 -4.2-.6 -3.8-1.6 -2.2-3.9 -2.3-4.3 -3-3.6 -2.4-4 -1.5-4 -.9-4.2 -.2-4.6 -.3-4.8 .2-5 1.3-4.6 1.6-4.1 2-3.6 3.5-2.5 4.4-2.2 4.2-3.1 4.9-2.4 5.2-1.5 4.7-2.5 4.5-2.3 4.9-1.2 5.6-.8 5.5-.7 4.8-.9z" fill="#ed78ff" fill-opacity="0.1" fill-rule="evenodd" stroke="#aa56b7"/>
<path d="M535 1471.9l5.8-.6 5.3 .3 3.3 1.8 2.9 2.1 3.3 1.2 3.5 1.2 3.9 2.3 3.6 3.2 3.4 2.9 3.3 3.1 2 4.2 1.9 4.3 3.5 3.3 3 3.8 .3 5 -.5 5.1 .9 4.7 1.4 4.7 .1 4.8 -1.5 4.7 -1.2 4.7 -.4 4.8 -1.1 5.3 -2.6 4 -2.7 1.7 -3.3 1.5 -4.5 1.6 -5 .6 -4.8-.2 -4.8 .1 -4.6 1.3 -4.8 1.4 -5.7-.9 -5.3-1.3 -4.3-.7 -4-.9 -3.9-1 -3.8-1.5 -3.8-2 -4-1.4 -4.2-1.1 -4-1.4 -3.9-1.5 -3.9-1.3 -4.2-.6 -3.8-1.6 -2.2-3.9 -2.3-4.3 -3-3.6 -2.4-4 -1.5-4 -.9-4.2 -.2-4.6 -.3-4.8 .2-5 1.3-4.6 1.6-4.1 2-3.6 3.5-2.5 4.4-2.2 4.2-3.1 4.9-2.4 5.2-1.5 4.7-2.5 4.5-2.3 4.9-1.2 5.6-.8 5.5-.7 4.8-.9z" fill="#8342c1" fill-opacity="0.1" stroke="#5e2f8a"/>
</g>
<g clip-path="url(#c52)" stroke-width="1.7" stroke-linejoin="round">
<path d="M749.2 1427l3.6 1.6 3.6 2.2 3.8 1.5 4.1 .7 4.7-1.2 4.8-.8 4.8 1.9 4.8 2.7 4.8 1.4 4.7 .8 4.3 .9 3.5 1.8 2 3.3 2.6 3.2 4.9 .8 5.2 1.2 4.1 3.8 4.7 2.6 5.4 1.1 4.6 2.8 4.6 2.5 5.1 1.9 4.5 3.5 4.7 3.4 4.6 3.5 4.5 3.3 5.5 2.4 3.6 4.3 2.6 5.5 4.3 3.4 4.1 3.4 2.4 4.4 2.1 4.6 2.2 4.7 -.8 4.9 -2.6 4.6 -0 5.5 1.5 5.7 -.3 5.7 1.4 5.4 2 5.1 -2.1 4.4 -4.8 2 -3.3 4.3 -.5 4.4 -2.1 3.9 -4.3 2.7 -4.1 3.3 -4.4 3.5 -5.1 2.1 -4.9 .8 -4.7 1.2 -4.5 2.4 -4.9 1.2 -4.8-1.4 -4.2-2 -4.8-2.3 -4.3-2.7 -4-2.8 -4.7-1 -4.4-0 -4-1.5 -3.5-2.6 -3.9-1.6 -4.9-1.8 -3.5-3.8 -3.3-3.3 -4.1-2.2 -4.3-3.4 -3.9-4.2 -4.3-3 -3.9-2.9 -3.7-2.7 -4-2.6 -4.5-2.5 -4.7-2.6 -4.7-2.9 -4.3-3.9 -2.4-3.4 -2.2-3.7 -2.3-3.3 -2.5-4.8 -1.9-4.7 -3.1-4.3 -2-4.6 .1-5.3 -1.6-4.8 -2.8-4.3 .1-5.2 -.4-5.5 -2.1-5.7 1.9-4.3 3.3-3.1 3.3-3.9 2.7-4.3 .4-4.8 -.4-4.7 2.1-4.8 4-3.4 4.1-1.7 4.1-1 3.5-.8zM778.6 1462.7l4.6 1.3 4.9 .4 4.9-.4 4.6 .5 4.2 1.5 4.1 2.4 3.5 3.1 3.9 2.4 4.3 1.9 3.8 2.7 3.8 2.5 4.3 2 4 3.1 3.6 3.7 4.3 2.9 4 3 3 3.4 3 3.3 4.3 2.9 4.1 3.2 1.3 5.4 -.5 5.9 1.8 5 2.2 4.3 .6 4.3 -.9 3.8 -2.6 3.3 -3.8 2.9 -4.6 2.5 -4.9 2.3 -4.7 2 -4.7 1.6 -5 .7 -4.6-.1 -3.9-.2 -4.2-.4 -4.6-1.6 -4.8-2 -5-1.8 -4.2-3.4 -3.9-3 -4.8-2.3 -3.9-4.1 -3.3-4.7 -4-3.2 -4.1-3 -4.3-2.6 -4-3.3 -3.6-4.4 -4.1-3.8 -2.7-4.7 -1.8-4.9 -2.6-4.5 -1-4.9 0-5 -1.2-4.6 -.7-5.2 1.8-4.5 3.9-2.2 4.4-1.2 4.1-1 3.8-1.6 3.8-1.5z" fill="#53b7ff" fill-opacity="0.1" fill-rule="evenodd" stroke="#3b83b7" stroke-dasharray="1.70 2.80"/>
<path d="M778.6 1462.7l4.6 1.3 4.9 .4 4.9-.4 4.6 .5 4.2 1.5 4.1 2.4 3.5 3.1 3.9 2.4 4.3 1.9 3.8 2.7 3.8 2.5 4.3 2 4 3.1 3.6 3.7 4.3 2.9 4 3 3 3.4 3 3.3 4.3 2.9 4.1 3.2 1.3 5.4 -.5 5.9 1.8 5 2.2 4.3 .6 4.3 -.9 3.8 -2.6 3.3 -3.8 2.9 -4.6 2.5 -4.9 2.3 -4.7 2 -4.7 1.6 -5 .7 -4.6-.1 -3.9-.2 -4.2-.4 -4.6-1.6 -4.8-2 -5-1.8 -4.2-3.4 -3.9-3 -4.8-2.3 -3.9-4.1 -3.3-4.7 -4-3.2 -4.1-3 -4.3-2.6 -4-3.3 -3.6-4.4 -4.1-3.8 -2.7-4.7 -1.8-4.9 -2.6-4.5 -1-4.9 0-5 -1.2-4.6 -.7-5.2 1.8-4.5 3.9-2.2 4.4-1.2 4.1-1 3.8-1.6 3.8-1.5z" fill="#2e66c1" fill-opacity="0.1" stroke="#21498a" stroke-dasharray="1.70 2.80"/>
<path d="M750.9 1453.4l3.5-2.4 5.3-1.8 5-.1 4.1-.3 3.7-2 4.6-2.5 5.2-1.8 5.6-.2 6.1 1.4 6.2 .8 4.5 2.3 2.4 2.7 4 .7 4.1 .7 3 3.1 4 2.7 5.1 1.4 5.6 1 5.9-.8 5.6-.6 4.5 1.9 4.5 2.1 5.2 1.7 3.4 3.7 3.6 4.7 4.8 3.2 2.2 5.6 1.8 5.9 4.5 2.5 4.2 2.3 3 3.9 4.1 3.2 3.8 2.8 2.7 3.6 3.1 3.2 2.9 3 1.2 4.4 1.7 4.6 2.7 4.4 .4 4.8 -1.2 5 .2 4.6 .6 5.3 -1.3 5.3 -.5 5 .4 5.5 -1.7 5.3 -3.3 4.5 -3.3 4.8 -4.6 3.5 -5.5 .5 -4.7 .7 -3.8 1.1 -4.5-.1 -5.2 .9 -3.3 3 -2.3 4.1 -3.7 2.2 -4.3-.8 -5-.3 -5.7 1.4 -5.9 1.2 -5.4 .4 -4.7-2.3 -4.3-3.9 -5-.9 -4.8 .1 -4.5-2.8 -2.8-4.8 -3-3.9 -2.6-5.7 -3.3-5.3 -4.6-2.2 -4-3 -3.7-3.4 -4.8-2.1 -4.2-3.5 -4.2-3.9 -6.1-1.8 -5.1-3.4 -2.4-5.7 -.9-6.3 -.3-5.9 -.8-5 -1.4-4.7 -2.2-4.8 -3.5-3.8 -3.8-3.1 -3.9-3.9 -1.8-5.1 2-4.8 2-4.7 .1-4.9 .6-4.8 1-5.1 .4-4 .6-2.6 1.1-2.7 .6-2.5zM810.3 1473l4.9 .6 4.6 1.9 4.8 1.1 4.9 1.6 4.9 2.1 5.1 1.6 4.6 3 3.3 4.3 2.4 4.2 3.3 4.1 4.8 2.5 4.9 2.1 4.1 3.8 4.1 3.9 3.5 4.8 1.3 5.7 1.8 4.6 1.8 4.5 .5 4.8 1.3 4.6 .4 5.1 -2.1 4.4 -3.9 3.7 -4.3 3.5 -5.3 1.5 -5.4 .8 -5.2 2.2 -5.4 1.9 -5.9 .4 -5.5-1.3 -5.4-1.9 -5.4-1.5 -4.7-2.3 -4.7-2.5 -5.1-2.7 -3.7-4.5 -3.8-4 -4.6-3.2 -3.7-3.5 -3.5-3.8 -2.9-4.9 -1.6-5.7 -3-4.5 -3.1-4.2 -2.4-4.6 -1.9-4.8 .2-5 1.8-4.5 .7-4.2 1.2-4.3 3.5-3 4.4-2.2 4.7-2.2 5.1-1.2 4.8-1.3z" fill="#16ffb6" fill-opacity="0.1" fill-rule="evenodd" stroke="#0fb783" stroke-dasharray="10.88 2.72 1.70 2.72"/>
<path d="M810.3 1473l4.9 .6 4.6 1.9 4.8 1.1 4.9 1.6 4.9 2.1 5.1 1.6 4.6 3 3.3 4.3 2.4 4.2 3.3 4.1 4.8 2.5 4.9 2.1 4.1 3.8 4.1 3.9 3.5 4.8 1.3 5.7 1.8 4.6 1.8 4.5 .5 4.8 1.3 4.6 .4 5.1 -2.1 4.4 -3.9 3.7 -4.3 3.5 -5.3 1.5 -5.4 .8 -5.2 2.2 -5.4 1.9 -5.9 .4 -5.5-1.3 -5.4-1.9 -5.4-1.5 -4.7-2.3 -4.7-2.5 -5.1-2.7 -3.7-4.5 -3.8-4 -4.6-3.2 -3.7-3.5 -3.5-3.8 -2.9-4.9 -1.6-5.7 -3-4.5 -3.1-4.2 -2.4-4.6 -1.9-4.8 .2-5 1.8-4.5 .7-4.2 1.2-4.3 3.5-3 4.4-2.2 4.7-2.2 5.1-1.2 4.8-1.3z" fill="#0c9165" fill-opacity="0.1" stroke="#086848" stroke-dasharray="10.88 2.72 1.70 2.72"/>
<path d="M749.4 1450l5 .1 5.1 1.4 4.5 1.8 5.2 .6 5.1-1.6 5-.8 4.3-1.3 4.5-2.9 5.7-.5 5.4 1.6 4.3 1.5 3.7 1.5 4-1 3.9-1.3 4.3 1.3 4.3 3 4.6 2.5 5.1 2.1 5.5 .1 5.7-.9 4.9 1.3 4.3 2.6 4.8 2.2 4 3 4.3 3.4 4.6 3.8 2.5 5.3 3.2 4.1 4.1 3.1 2.1 5 2.2 4.5 3.7 3.7 1.9 4.8 1.6 5 3 2.9 2.9 1.5 2.5 2.9 3 4 2.3 4.4 2.8 4.4 4.5 4.1 1.6 5.5 -2.1 6.1 -.6 6 -3.6 4.5 -5.7 3.2 -2.3 4.7 -1.2 5 -3.2 3.9 -3.4 4.2 -4.6 3.8 -4.2 2.5 -3.2 1 -3.4-.1 -3.7 1.6 -3.9 2.7 -5.5 .5 -4.6-1.5 -3.3-.3 -5 1 -5.7-.5 -5.6 1.3 -5.4 2 -5.1-.6 -4.9-2.4 -3.9-3.7 -3.3-3.5 -2.7-2.3 -2.7-3.3 -3-5 -5.4-3.2 -5.7-1.8 -4.4-2.7 -4.7-2.1 -4.2-2.7 -3.8-3.6 -4.2-3.6 -2.5-5.6 -3.9-4 -6.9-1.4 -3.9-4.6 -3.8-4.7 -4.4-4 -.7-6 .3-5.7 -.7-4.8 -.8-4.7 -.7-5 -.5-5.1 -.9-3.4 -1.3-3.8 .2-5.2 .3-5 -2.7-4.6 -3.3-4.8 .8-5.1 2.4-3.7 1.6-2.9 .9-3.1zM810.4 1474.6l4.7-.5 4.9 .6 4.5 2.1 5.4 .4 5.7 .6 4 3.9 5 2.1 5.5 2.1 2.1 5.5 1.7 5.3 3.4 4 3.4 3.9 5.3 2.1 5.1 3 2.3 5.6 2.6 4.9 1.1 4.9 .6 4.6 2.6 4.4 1.1 4.7 -2 4 -2.4 3.9 -2.7 4.2 -4.1 3.1 -4.3 2.9 -4.9 2.1 -5.4 1.9 -5.6 3.3 -5.9-1.6 -5.6-1.3 -5.9 1.8 -5.1-4.3 -4-4.2 -5.8-.6 -4.5-3.6 -3.8-4.5 -4.3-3.6 -2.7-5 -3.6-3.5 -4-3.2 -3-4.9 -3.6-4.4 -2.3-5 -.4-5.5 -2-4.5 -2.9-4.1 -2-4.8 -.2-5 2-4.3 3-3.3 3.5-2.7 4.4-2 4.9-1.6 4.6-2.3 4.8-1.5z" fill="#ff6060" fill-opacity="0.1" fill-rule="evenodd" stroke="#b74545" stroke-dasharray="6.29 2.72"/>
<path d="M810.4 1474.6l4.7-.5 4.9 .6 4.5 2.1 5.4 .4 5.7 .6 4 3.9 5 2.1 5.5 2.1 2.1 5.5 1.7 5.3 3.4 4 3.4 3.9 5.3 2.1 5.1 3 2.3 5.6 2.6 4.9 1.1 4.9 .6 4.6 2.6 4.4 1.1 4.7 -2 4 -2.4 3.9 -2.7 4.2 -4.1 3.1 -4.3 2.9 -4.9 2.1 -5.4 1.9 -5.6 3.3 -5.9-1.6 -5.6-1.3 -5.9 1.8 -5.1-4.3 -4-4.2 -5.8-.6 -4.5-3.6 -3.8-4.5 -4.3-3.6 -2.7-5 -3.6-3.5 -4-3.2 -3-4.9 -3.6-4.4 -2.3-5 -.4-5.5 -2-4.5 -2.9-4.1 -2-4.8 -.2-5 2-4.3 3-3.3 3.5-2.7 4.4-2 4.9-1.6 4.6-2.3 4.8-1.5z" fill="#bb3535" fill-opacity="0.1" stroke="#862626" stroke-dasharray="6.29 2.72"/>
<path d="M749.9 1451.2l4.5-.1 5.1-.3 4.8 .8 4.8 .7 4.7-1.5 4.8-1.8 4.6-1.4 4.9 0 5.6 1 5.7-1.2 4.4 1.7 3.4 2.9 4.2-1.3 3.7-2.7 4.7 1.1 4.7 2.5 5 2 4.5 2.8 5 1.3 4.8 1.4 3.6 3 4.1 2.2 4.4 2.3 3.5 4.1 4.9 3 4.8 3.1 3.5 3.8 4.7 2.2 4.3 2.7 3 4.3 3.1 4.1 3.3 3.8 3.6 2.9 3.6 2.6 3.1 3.3 2.2 4 2 4.3 1.4 4.9 .9 4.8 1.6 4.6 .8 4.7 -.5 4.9 0 5.6 -.9 5.6 -1.7 4.7 -1.6 4.8 -2 4.9 -2.3 4.9 -3.9 3.6 -4.8 1.5 -4.5 1.2 -4.6 1.9 -3.9 1.6 -3.9 1.3 -3.9 2.2 -3.2 3.2 -2.9 4 -4.3 2.3 -4.7-1.6 -4.9-.7 -5.7 1 -5.5-1.3 -4.9-.8 -4.8-1.1 -4.4-3 -4.8-1.6 -4.5-.7 -3.7-2 -3.1-3.8 -3.4-4.1 -4.1-4 -5-2.8 -4.2-2.9 -3.9-3.2 -4.4-2.6 -3.9-3.4 -3.2-4.6 -3.6-4.5 -4.8-3.1 -5.2-3 -2.3-5.6 -1.7-5.6 -3.3-4.3 -2.6-4.6 -2.2-4.6 -1.6-4.6 -1.1-4.6 -2.1-4.1 -3.5-4.1 -1.7-4.9 1.2-4.9 1.8-4.6 .2-4.9 -.9-4.7 -.1-5 .6-4.5 .4-3.4 .6-3.2 1.1-2.9zM810.3 1472.9l4.8 1.4 4.7 1.1 4.9 1 4.5 2.4 4.6 2.5 5.3 1.5 5 2 4 3.5 3.4 3.7 3.6 3.5 3.5 3.6 3.9 3.4 4.5 3.3 3.3 4.6 3.5 4.7 4.1 4.2 1.3 5 .4 5 1.2 4.8 .1 4.6 -1.9 3.9 -2.1 4.1 -2.1 4.7 -3.9 3.6 -4.9 2 -5.1 1.7 -5.3 2.1 -5.6 1.6 -5.6-1.4 -5.4-1.9 -5.8-.1 -5.4-1.2 -4.6-2.6 -5-2.1 -5-2.7 -4.3-3.9 -4.2-3.9 -4.3-3.5 -3.1-4.1 -2.4-4.6 -3.4-4.5 -3.5-4.6 -2.7-4.7 -2.7-4.5 -1.4-5 .1-5.1 -.7-4.6 -.9-4.8 1.3-4.3 2.4-3.5 3.2-3.2 4.3-2.4 5.4-.4 4.9-1.4 4.3-3.2z" fill="#ed78ff" fill-opacity="0.1" fill-rule="evenodd" stroke="#aa56b7"/>
<path d="M810.3 1472.9l4.8 1.4 4.7 1.1 4.9 1 4.5 2.4 4.6 2.5 5.3 1.5 5 2 4 3.5 3.4 3.7 3.6 3.5 3.5 3.6 3.9 3.4 4.5 3.3 3.3 4.6 3.5 4.7 4.1 4.2 1.3 5 .4 5 1.2 4.8 .1 4.6 -1.9 3.9 -2.1 4.1 -2.1 4.7 -3.9 3.6 -4.9 2 -5.1 1.7 -5.3 2.1 -5.6 1.6 -5.6-1.4 -5.4-1.9 -5.8-.1 -5.4-1.2 -4.6-2.6 -5-2.1 -5-2.7 -4.3-3.9 -4.2-3.9 -4.3-3.5 -3.1-4.1 -2.4-4.6 -3.4-4.5 -3.5-4.6 -2.7-4.7 -2.7-4.5 -1.4-5 .1-5.1 -.7-4.6 -.9-4.8 1.3-4.3 2.4-3.5 3.2-3.2 4.3-2.4 5.4-.4 4.9-1.4 4.3-3.2z" fill="#8342c1" fill-opacity="0.1" stroke="#5e2f8a"/>
</g>
<g clip-path="url(#c53)" stroke-width="1.7" stroke-linejoin="round">
<path d="M1055.7 1429.8l3.6 .6 3.8 1.3 2.4 2.8 1.5 2.8 4.3 .3 3.7-1.4 3.6 .2 3.3 2.3 .5 4.1 -.1 4.2 1.4 3.3 2.6 2.8 4.3 2.6 4.4 3.4 4.6 3.1 5.2 2.9 2.7 4.6 1.8 4.9 3.3 3.7 2.6 3.7 -1.7 4.1 -2.5 3.8 .6 4.1 1.8 3.9 1.1 4.7 -.8 5 -2.2 4.5 -.7 4.9 1.1 4.9 -.4 4.7 -1.5 4.1 -.7 4.4 -2.1 3.6 -3.8 2.2 -3.1 3.5 .6 4.6 3.5 3.7 .6 4.4 -3.4 3.1 -3.2 2.1 -4.1 2.2 -4.8 1 -4.2 1 -4 1.2 -4.9 .6 -4.7 1.1 -3.1 2.6 -3.1 2.5 -3.8 1.9 -4.2 1.7 -4.8-.4 -4.9-1.7 -5.1 1.4 -4.3 2.8 -4.2 .4 -3.9-1.1 -4.1-2.1 -4-2.6 -4.1-3.2 -5-1.2 -5.1 .7 -4.8-1.2 -4.7-2.6 -5.3-1.6 -3.2-3.5 -1.9-4.6 -4.1-2.9 -5-2.2 -2.6-4.9 -1.8-5 -1.5-4.7 -.2-4.9 -.6-5.1 -1.9-4.6 -1.4-4.6 -1-4.8 -1.1-4.7 -.7-4.9 .8-4.8 1.8-4.6 1.4-4.7 -.1-4.9 .9-5.4 3.3-4.3 1.7-5.4 0-5.7 2.7-5 2.7-4.1 4-2.9 4.9-1.3 4.7-3 3.7-4.2 3.2-3.3 3.1-3.2 4.1-3.4 5.5-1.1 4.8-.7 4.6-2.6 5.5-1 5.7 2.6 5.7-.5 5.3-2.4 5.2 .4zM1020.9 1465.2l3.9 .2 4.1 1.1 3.9 1.2 4 .4 3.9-1.3 4-1.4 4.8-.1 4.9 .5 4.3 1.9 3.5 3.2 2.9 3.5 3 3.2 3.4 3.2 2.7 4.1 1 5 .7 5 1.2 4.8 1.3 4.6 1.3 4 .5 4 -1.6 4.1 -2.4 3.6 -2.5 3.1 -2.1 3.4 -1.6 3.6 -2.4 3.4 -3.8 3.5 -3.6 3.5 -2.7 3.1 -3.1 2.4 -4 .7 -4.1 .6 -3.9 2.5 -4.1 2.3 -4 .9 -3.9 .5 -4.1-.7 -4.1-1.9 -3.7-2.2 -3.8-1.9 -4.3-.9 -4.1-1.4 -3.1-3.3 -3-3.5 -3.5-2.9 -2.9-3.4 -1.7-4.7 -1.7-4.8 -1-4.8 -.1-4.8 -.5-4.8 -.4-4.9 1.7-4.7 2.7-4.4 1.9-5.1 1.8-5 2.6-4.1 2.7-3.6 3-3.6 3.2-2.9 3.4-1.6 3.2-1 3-.9z" fill="#53b7ff" fill-opacity="0.1" fill-rule="evenodd" stroke="#3b83b7" stroke-dasharray="1.70 2.80"/>
<path d="M1020.9 1465.2l3.9 .2 4.1 1.1 3.9 1.2 4 .4 3.9-1.3 4-1.4 4.8-.1 4.9 .5 4.3 1.9 3.5 3.2 2.9 3.5 3 3.2 3.4 3.2 2.7 4.1 1 5 .7 5 1.2 4.8 1.3 4.6 1.3 4 .5 4 -1.6 4.1 -2.4 3.6 -2.5 3.1 -2.1 3.4 -1.6 3.6 -2.4 3.4 -3.8 3.5 -3.6 3.5 -2.7 3.1 -3.1 2.4 -4 .7 -4.1 .6 -3.9 2.5 -4.1 2.3 -4 .9 -3.9 .5 -4.1-.7 -4.1-1.9 -3.7-2.2 -3.8-1.9 -4.3-.9 -4.1-1.4 -3.1-3.3 -3-3.5 -3.5-2.9 -2.9-3.4 -1.7-4.7 -1.7-4.8 -1-4.8 -.1-4.8 -.5-4.8 -.4-4.9 1.7-4.7 2.7-4.4 1.9-5.1 1.8-5 2.6-4.1 2.7-3.6 3-3.6 3.2-2.9 3.4-1.6 3.2-1 3-.9z" fill="#2e66c1" fill-opacity="0.1" stroke="#21498a" stroke-dasharray="1.70 2.80"/>
<path d="M1032 1443.4l5.4-1.4 5.1 .6 4.8 1 5 .2 4.8 1.2 4.3 2.9 4.2 3.4 4.1 3.9 3.9 3.9 4 2.4 5.1 1.2 5.4 1.6 5.2 1.3 5.6-1.2 6.5 .3 3.4 3.7 2.7 3.2 3.5 1.7 3.4 2.2 1.3 4.5 -3.1 4.1 -1.9 4.6 1.8 5.2 3.1 4.8 5.1 1.5 2.9 .2 .1 1.6 -.5 2.2 .3 3.1 1.3 4.9 -.5 4.5 -2.1 3.7 -1.4 3.4 .3 2.8 2.2 2.6 2 4.3 1 4.6 -.3 4.8 -2.1 5.1 -2 4.6 -1.7 2.8 -2.9 1.6 -5.3 .7 -5.3 2.1 -5 2.1 -4.7 2.5 -3.8 4.4 -4.4 3.1 -5.1 1.8 -4.3 3 -3.7 3.1 -4.9 1.6 -5.5 1.4 -4.3 3.5 -4.2 3.3 -4.9 1.1 -4.9-1.1 -4.9-.4 -4.6 1.7 -4.9 .7 -5.1-2.6 -4.3-2.7 -3.7-1.9 -3.3-2.7 -3.1-5.1 -4.8-3.2 -5.6 .5 -5-1.1 -4.4-3 -4.8-2.3 -4.8-2.2 -4.1-3 -2.3-4.2 -1.6-4.3 -2.9-3.2 -3.1-3.5 -1.1-4.9 -1.5-4.8 -2.3-4.6 -1.3-4.8 -1.4-4.7 -.7-4.6 1-4.9 .2-5.2 .8-4.6 2.5-4.4 .6-5.1 .5-5.4 3.8-4.1 3.2-4.5 2.1-5.4 3.9-4.4 4.7-3.4 4.2-3.5 3.2-4.3 3.4-3.6 3.8-2.7 3.8-2 4.5-1.4 5-1.3 4.2-1.6 3.7-1.1 3.4-.9zM1033.4 1470.8l5-1.4 5 1.2 4.3 4.1 4 3 4.6 1 4.6 1.3 4.5 1.5 4.5 2.2 3.2 4.4 1.2 5.5 1.6 4.6 1.9 4.6 .3 4.9 .3 4.8 1.9 4.6 .5 4.8 -1.3 4.8 -1.7 4.6 -3 3.5 -3.5 3.3 -1.2 4.7 -.2 5.5 -2.1 4.7 -4 3.2 -4.6 1.7 -4.7 .6 -4.9-1.7 -5.1-2.3 -5.1 .7 -4.3 2.7 -4.7 1.4 -4.8-.6 -4.6-1.6 -4.2-1.8 -3.8-1.5 -4.7-.4 -5-1.2 -3.2-3.7 -1-5.1 -1.8-4.2 -2.9-2.9 -2.5-3.2 -2-4.6 -1.9-4.9 -.8-4.9 .1-5 1-4.9 2.4-4.4 2.5-3.6 1.9-3.6 2.6-4.1 3.4-3.7 3.2-4 3.5-3.9 4.3-2 4.5-1.3 3.8-1.6 3.8-1.9 4.5-1.9z" fill="#16ffb6" fill-opacity="0.1" fill-rule="evenodd" stroke="#0fb783" stroke-dasharray="10.88 2.72 1.70 2.72"/>
<path d="M1033.4 1470.8l5-1.4 5 1.2 4.3 4.1 4 3 4.6 1 4.6 1.3 4.5 1.5 4.5 2.2 3.2 4.4 1.2 5.5 1.6 4.6 1.9 4.6 .3 4.9 .3 4.8 1.9 4.6 .5 4.8 -1.3 4.8 -1.7 4.6 -3 3.5 -3.5 3.3 -1.2 4.7 -.2 5.5 -2.1 4.7 -4 3.2 -4.6 1.7 -4.7 .6 -4.9-1.7 -5.1-2.3 -5.1 .7 -4.3 2.7 -4.7 1.4 -4.8-.6 -4.6-1.6 -4.2-1.8 -3.8-1.5 -4.7-.4 -5-1.2 -3.2-3.7 -1-5.1 -1.8-4.2 -2.9-2.9 -2.5-3.2 -2-4.6 -1.9-4.9 -.8-4.9 .1-5 1-4.9 2.4-4.4 2.5-3.6 1.9-3.6 2.6-4.1 3.4-3.7 3.2-4 3.5-3.9 4.3-2 4.5-1.3 3.8-1.6 3.8-1.9 4.5-1.9z" fill="#0c9165" fill-opacity="0.1" stroke="#086848" stroke-dasharray="10.88 2.72 1.70 2.72"/>
<path d="M1032 1443.6l4.9 .2 4.7 2.2 4.2 3.3 5.1-.1 5 .5 4.2 3.6 4.5 2.2 4.8 .8 4.3 2.2 4.1 2.5 4.7 2 5.1 2.5 5.2 1.5 5-.5 6 .1 5.1 1.7 3.7 1.9 3.4 1.8 3.8 2.1 3.5 5 -.5 5.6 -1.4 3.2 -.9 3.9 .6 4.6 4 1.7 3.7 .3 1.8 2.5 .4 3.4 -.4 3.9 -.1 4.6 -.1 4.7 -1.1 4.5 -2 3.1 -1.3 1.5 .1 3.1 .9 4.5 .3 4.2 -.9 4.1 -3.2 4.4 -2.6 3.9 -.3 2 -.3 2.4 -2.9 4.7 -5.2 2.4 -4.9 2.2 -3.9 4 -5.1 1.8 -5.8 .4 -5.4 1.2 -6.3-0 -4.9 2 -2.5 4.9 -4 3.7 -4.7 2.5 -3.4 5.2 -5.1 2.9 -5.4-1.3 -4.6-.8 -4.4-.8 -4.7-2.6 -4.8-1.6 -4.2-.9 -2.4-3 -2.7-4 -5.4-2 -6.1 0 -4.9-1.1 -4.9-1.3 -5.9-.3 -5.1-2.6 -2.9-5.2 -3.2-4.1 -3.4-3 -2.8-3.4 -2.3-3.9 -1.5-4.4 -.9-4.8 -2-4.7 -2.5-4.5 -1.4-4.8 -2-4.6 -1.4-4.8 2.4-4.7 2.3-4.7 -1.2-5.1 -.9-5.3 1.5-5 1.8-5.1 1.9-5.2 3.5-4.5 3.6-4.6 4.2-4.3 6.4-1.9 4.4-3.1 3.4-4 4.8-2.3 2.9-3.8 1.5-4.7 4.6-1.8 5.1-.9 3-4.5 3.9-2.8 4.7 1.3zM1033.5 1471.7l4.9-1.8 5.2-.6 4.9 3.1 3.6 4.4 3.7 2.8 4 2.2 4.2 2.1 4.2 1.8 4.6 2.7 2.9 4.4 .5 5.3 .6 5 1.3 4.6 1.6 4.6 1.9 4.7 1 5 -1.4 5.1 -3 4.3 -3 3.7 -2.5 3.9 -1.8 4.3 -2 4.3 -2.5 4 -3.5 3.1 -4.3 1.1 -4.4-.1 -4.6-.6 -5.1-.5 -5 .7 -4.6 1.8 -4.5 2.5 -4.8 1.4 -5.1-1.1 -4.4-2.3 -4-2.1 -3.9-2 -4-2.2 -3.8-3 -2.4-4.2 -1.1-4.7 -1.5-3.8 -1.8-3.4 -1.5-4.4 -1.3-4.7 -1.6-4.4 -1.5-4.9 -0-5.1 1.4-4.8 1.9-4 2.8-3.5 3.6-3.5 3.4-3.8 3.5-3.8 3.6-3.6 3.8-2.9 4.4-1.4 4.4-.7 3.9-1.2 4.4-2z" fill="#ff6060" fill-opacity="0.1" fill-rule="evenodd" stroke="#b74545" stroke-dasharray="6.29 2.72"/>
<path d="M1033.5 1471.7l4.9-1.8 5.2-.6 4.9 3.1 3.6 4.4 3.7 2.8 4 2.2 4.2 2.1 4.2 1.8 4.6 2.7 2.9 4.4 .5 5.3 .6 5 1.3 4.6 1.6 4.6 1.9 4.7 1 5 -1.4 5.1 -3 4.3 -3 3.7 -2.5 3.9 -1.8 4.3 -2 4.3 -2.5 4 -3.5 3.1 -4.3 1.1 -4.4-.1 -4.6-.6 -5.1-.5 -5 .7 -4.6 1.8 -4.5 2.5 -4.8 1.4 -5.1-1.1 -4.4-2.3 -4-2.1 -3.9-2 -4-2.2 -3.8-3 -2.4-4.2 -1.1-4.7 -1.5-3.8 -1.8-3.4 -1.5-4.4 -1.3-4.7 -1.6-4.4 -1.5-4.9 -0-5.1 1.4-4.8 1.9-4 2.8-3.5 3.6-3.5 3.4-3.8 3.5-3.8 3.6-3.6 3.8-2.9 4.4-1.4 4.4-.7 3.9-1.2 4.4-2z" fill="#bb3535" fill-opacity="0.1" stroke="#862626" stroke-dasharray="6.29 2.72"/>
<path d="M1031.9 1444.5l4.6 1.2 5.1 .3 5 .3 4.7 1.6 4.5 2.3 4.6 1.7 4.9 .6 5 .5 4.8 1.4 4.8 1.9 4.6 2.8 4.7 2.4 5.1 1.1 4.5 2.1 3.8 3.5 4.4 2.5 3.8 1.8 2.8 2.6 2.4 2.7 1.5 2.8 -.8 3.5 -.6 4.4 2.5 4.3 3.4 2.3 3.5 .9 3.5 2.2 .9 3 .7 3.1 -.1 3.9 -1.3 4.1 -1.4 4.1 -1.4 4.1 -2.1 3.1 -1.4 3 1.1 3.9 1.6 4.2 .1 3.9 .2 3.9 .9 5.3 -.9 4.9 -2.2 2.4 -3 1.1 -4.6 1.7 -4.3 4.1 -4.6 2.8 -5.2 1.5 -4.9 2.1 -4.4 3.2 -4.8 2.5 -5.4 1.2 -4.3 2.4 -3 4.2 -4.1 4 -5.7 1.2 -5.2 .9 -4.3 1.6 -4.9 .2 -4.8-1.1 -4.7-.7 -4.7-.4 -5.1 .1 -4.6-1.1 -2.7-3.3 -2.9-3.5 -5.5-1.1 -5.3-1.3 -4.2-3.1 -4.4-2.5 -5-1.6 -4.9-2.1 -4.6-2.6 -3.8-3.4 -2.7-3.8 -2.8-3.3 -3-3.5 -2.3-4.1 -1.6-4.8 -1.4-4.9 -1.7-4.7 -2.1-4.7 -1.1-4.8 .8-4.8 1.1-4.6 .5-5.2 1.5-4.6 1.7-4.6 .1-5.1 1.4-5 3.7-4 2.6-4.8 2-5.5 3.1-4.9 4.7-3.5 4.6-3.2 2.9-4.6 3.5-3.5 4.4-2 3.6-2 3.9-3.3 4.5-2.4 4.2-1.2 4.1-1 3.9-0zM1033.7 1473.5l4.7-1.1 4.9-.8 4.9 1.7 4.4 2.5 4 2.3 3.8 2.7 4.2 2.1 4.2 2.1 3.5 3.7 2.6 4.5 2 4.6 1.2 4.9 .9 4.8 .7 4.8 .3 4.8 .3 4.7 .3 5.1 -1.8 4.8 -3.4 3.5 -2.9 3.6 -1.7 4.5 -1.7 4.4 -2.8 3.8 -3.9 2.5 -4.1 .8 -4.1 .6 -4.6 .4 -4.9 .4 -4.7 1.4 -4.7 1.3 -4.9 0 -4.8-.1 -4.9-.1 -4.7-.9 -4.1-1.8 -3.9-2.2 -3.4-3 -2.9-3.5 -2.7-3.8 -2.1-4.1 -2-3.5 -2.2-3.2 -2.8-4.2 -1.5-5 .2-4.8 .5-4.8 .8-4.8 1.2-4.6 .9-4.2 1.5-4.1 2.6-4.4 3.7-3.7 4.7-2.5 4.2-2.7 3.4-3.5 3.6-3 3.9-1.7 4.4-.9 4.8-.2z" fill="#ed78ff" fill-opacity="0.1" fill-rule="evenodd" stroke="#aa56b7"/>
<path d="M1033.7 1473.5l4.7-1.1 4.9-.8 4.9 1.7 4.4 2.5 4 2.3 3.8 2.7 4.2 2.1 4.2 2.1 3.5 3.7 2.6 4.5 2 4.6 1.2 4.9 .9 4.8 .7 4.8 .3 4.8 .3 4.7 .3 5.1 -1.8 4.8 -3.4 3.5 -2.9 3.6 -1.7 4.5 -1.7 4.4 -2.8 3.8 -3.9 2.5 -4.1 .8 -4.1 .6 -4.6 .4 -4.9 .4 -4.7 1.4 -4.7 1.3 -4.9 0 -4.8-.1 -4.9-.1 -4.7-.9 -4.1-1.8 -3.9-2.2 -3.4-3 -2.9-3.5 -2.7-3.8 -2.1-4.1 -2-3.5 -2.2-3.2 -2.8-4.2 -1.5-5 .2-4.8 .5-4.8 .8-4.8 1.2-4.6 .9-4.2 1.5-4.1 2.6-4.4 3.7-3.7 4.7-2.5 4.2-2.7 3.4-3.5 3.6-3 3.9-1.7 4.4-.9 4.8-.2z" fill="#8342c1" fill-opacity="0.1" stroke="#5e2f8a"/>
</g>
<g clip-path="url(#c54)" stroke-width="1.7" stroke-linejoin="round">
<path d="M1336.7 1427.8l4.9 1.8 4.8-.1 4.8-1.4 4.8 .2 4.9-.2 4.7-.4 4 1.2 3.7 1.8 4 2.2 4.3 1.8 4.8 1.1 4.6 1.8 3.9 2 4 1.1 3.7 1.8 2.9 2.7 3.5 2.7 4.4 1.4 4.1 1.5 3.7 2.8 4.6 2.6 5.3 1.5 4.1 3.1 3.5 3.8 3.9 4.2 4 3.8 3.8 2.8 3.1 3.2 2.9 4.2 2.9 4.2 2.5 3.9 2.6 3.8 1.5 4.6 -.3 5.1 1.1 5 3 4.2 1.9 4.2 1.4 4.4 3 4.2 1.6 4.8 -.1 5.2 1.3 4.6 -1.3 4.5 -4.3 2.9 -2.9 4.1 -1.9 5.2 -4.3 3.2 -3.7 3.4 -1.5 3.9 -2.2 3.4 -4.1 2.7 -4.3 2.3 -4.6 1.4 -4.9 .4 -4.8-.3 -4.7-.6 -4.8 .2 -4.8 .9 -4.9 1.4 -4.6 .7 -4.1-1.9 -3.7-3.1 -4.1-2.2 -4.4-1.6 -4.4-2.5 -4.7-2.3 -5.2 .8 -4.8-.2 -2.3-3.6 -2-4.1 -3.9-3.6 -4.2-2.8 -4-.1 -3.9-0 -4.2-2.4 -4.3-3.3 -3.2-4.2 -3.8-3.5 -4.7-.7 -4-.7 -3-1.1 -3-1.1 -4.3-.9 -4-1.6 -1.4-3.4 -.3-4 -.6-4.6 .4-5 .8-4.7 .1-4.8 .3-4.8 .7-4.8 .2-4.7 .1-4.8 -1-5 -2.4-4.5 -2.7-4.1 -2-3.9 -.8-3.2 .9-3.2 3.8-3.6 4-4.5 3.3-4 3.3-3.7 2.4-4.2 2.3-3.8 1.5-4.1 .4-3.7 2.5-3.9zM1395.8 1461.8l4.6 2 4.6 1.7 4.6 .9 4.5 1.9 3.5 3.7 3.4 4.1 4.3 2.7 3.7 3.4 3.1 4.2 4 3.3 2.9 3.7 1.3 4.6 2.5 4.7 2.6 4.7 -.2 5.1 1.1 4.6 2.9 4.5 -.3 5 -2 4.8 -.4 4.7 -1.3 3.9 -3.1 2.7 -3.7 2.5 -4.2 2.4 -5.1 1.3 -4.8 1.7 -4.5 2.6 -4.8 .7 -4.8-1.6 -4.7-.8 -5 .2 -4.7-1.2 -3.9-2.5 -4.1-2.2 -3.9-2.5 -2.6-3.8 -1.7-4.2 -2.8-3.9 -3.7-4.4 -4.1-4 -4.8-1.3 -3.9-2.4 -2.4-4.1 -3-3.3 -3.8-3.1 -1.5-4.5 .2-4.7 -.3-4.8 .5-4.8 1.5-4.7 .7-5.3 2-4.5 3.3-2.3 3.4-1.9 4.4-2.2 5-.8 5-.5 4.7-1.5 3.9-2 3.8-1.8 4-1z" fill="#53b7ff" fill-opacity="0.1" fill-rule="evenodd" stroke="#3b83b7" stroke-dasharray="1.70 2.80"/>
<path d="M1395.8 1461.8l4.6 2 4.6 1.7 4.6 .9 4.5 1.9 3.5 3.7 3.4 4.1 4.3 2.7 3.7 3.4 3.1 4.2 4 3.3 2.9 3.7 1.3 4.6 2.5 4.7 2.6 4.7 -.2 5.1 1.1 4.6 2.9 4.5 -.3 5 -2 4.8 -.4 4.7 -1.3 3.9 -3.1 2.7 -3.7 2.5 -4.2 2.4 -5.1 1.3 -4.8 1.7 -4.5 2.6 -4.8 .7 -4.8-1.6 -4.7-.8 -5 .2 -4.7-1.2 -3.9-2.5 -4.1-2.2 -3.9-2.5 -2.6-3.8 -1.7-4.2 -2.8-3.9 -3.7-4.4 -4.1-4 -4.8-1.3 -3.9-2.4 -2.4-4.1 -3-3.3 -3.8-3.1 -1.5-4.5 .2-4.7 -.3-4.8 .5-4.8 1.5-4.7 .7-5.3 2-4.5 3.3-2.3 3.4-1.9 4.4-2.2 5-.8 5-.5 4.7-1.5 3.9-2 3.8-1.8 4-1z" fill="#2e66c1" fill-opacity="0.1" stroke="#21498a" stroke-dasharray="1.70 2.80"/>
<path d="M1367.6 1440.9l5 1.8 4.4 3 4.4 3 5 1.4 5.5-1.9 5.4 .8 4.1 2.8 4.5 .1 4.4 .8 3.8 2.9 4.9 1.4 5.2-.3 4.6 2.1 4.3 2.6 4.7 1.6 3.7 3.6 3.4 4.7 5.2 2.6 4.2 2.1 3.5 3 4 3.2 2.7 4.4 2.3 4.2 4.2 2.2 3.5 4.2 -1 5.7 2.8 3.8 5.2 2.2 1.4 4.7 -1.1 5.2 .1 4.5 -1.9 4.4 -3.5 4.1 1 5.9 1.3 5.1 -.7 4.2 1.1 5.1 -.9 5.3 -3.5 2.4 -1.9 3 .6 4.7 -3 4.2 -4.8 2.1 -3.3 3.1 -3.9 2.3 -5.4-1.9 -4.8-.1 -2.9 3.9 -2.1 3.3 -3.6 2 -3 3.2 -4.4 3.2 -3.8-3.9 -3.9-3.9 -4.9 3.5 -4.9 1.6 -4.5-1.3 -3.5 1.2 -4 2.3 -3.9-1 -1.6-3.3 -2.3-3.3 -4-2.6 -4-3 -4-1.5 -4-1.2 -3.6-3.1 -4.3-3 -4.7-2.4 -3.7-3.4 -3.4-3.7 -4.1-2.9 -4.6-2.2 -4.2-3.5 -2.4-4.5 -2.5-4.6 -2.4-5.1 -2.3-5.3 -4.4-3.7 -4-3.9 -.3-5.1 .5-4.8 -.6-4.5 -.8-4.2 -.4-4.6 -.2-5.3 -1.8-4.7 -2-4.6 -1.2-5.2 -1.6-4.8 -1-4.1 .9-2.6 4-.5 5.2-2.1 3.9-3.1 4.5-2.8 4.6-3.3 4.4-3.7 4.5-3.1 3.9-2.6 2.5-2.9 2.6-2.9 3.2-2.1zM1399.1 1475.5l4.9-1 4.8-1.1 4.4 .6 4.4 .7 4.6 1 3.5 3.5 2.5 5.1 3.5 3.5 4.2 2.8 3.1 4 3.2 3.7 3.1 3.9 2.3 3.9 2.9 3.5 3.5 4 1.6 4.8 .8 4.9 .6 4.9 -1.2 4.9 -1.2 4.6 -.3 4.6 -1.4 4.3 -3.1 3.7 -3.5 3.2 -4.2 2.4 -4.9 .9 -4.9 .6 -4.8 .9 -4.7 .4 -4.7 .6 -4.7 .2 -4.6-1.5 -4.7-.9 -5.4 .6 -5.1-1.9 -4-4 -3.9-3.2 -3.3-3.5 -2.7-4.4 -3.2-4.4 -2.4-4.1 -2.5-3.8 -3.6-3.2 -3.1-4.1 -1-5.2 -.1-5.2 2-4.9 3.3-4.1 1.9-3.7 .8-4.4 -.2-4.4 .5-3.9 2.5-3.2 4-1.9 4.8-.6 4.6-2.4 5.4-2.1z" fill="#16ffb6" fill-opacity="0.1" fill-rule="evenodd" stroke="#0fb783" stroke-dasharray="10.88 2.72 1.70 2.72"/>
<path d="M1399.1 1475.5l4.9-1 4.8-1.1 4.4 .6 4.4 .7 4.6 1 3.5 3.5 2.5 5.1 3.5 3.5 4.2 2.8 3.1 4 3.2 3.7 3.1 3.9 2.3 3.9 2.9 3.5 3.5 4 1.6 4.8 .8 4.9 .6 4.9 -1.2 4.9 -1.2 4.6 -.3 4.6 -1.4 4.3 -3.1 3.7 -3.5 3.2 -4.2 2.4 -4.9 .9 -4.9 .6 -4.8 .9 -4.7 .4 -4.7 .6 -4.7 .2 -4.6-1.5 -4.7-.9 -5.4 .6 -5.1-1.9 -4-4 -3.9-3.2 -3.3-3.5 -2.7-4.4 -3.2-4.4 -2.4-4.1 -2.5-3.8 -3.6-3.2 -3.1-4.1 -1-5.2 -.1-5.2 2-4.9 3.3-4.1 1.9-3.7 .8-4.4 -.2-4.4 .5-3.9 2.5-3.2 4-1.9 4.8-.6 4.6-2.4 5.4-2.1z" fill="#0c9165" fill-opacity="0.1" stroke="#086848" stroke-dasharray="10.88 2.72 1.70 2.72"/>
<path d="M1367.2 1445.1l4.6 .9 5.2-.1 4.4 1.3 4.8 .1 5.6-1.3 5.4 3.8 3.9 3.4 4.1 .5 3.9 1.4 4.5 2 5.4 .1 5.2-.5 5.6-.2 5.7 .8 4.4 3.1 4 3.7 3.8 4.3 2 6 2.9 4.4 3.7 1.9 4.1 2.7 3.2 4.1 3.5 3 4 2.4 1.7 4.8 -.2 5.6 2.3 4.3 2.3 4 .8 4.5 1.7 3.1 2.8 4.1 -.7 4.9 -2.4 4.6 1.2 5.1 2 4.2 -.4 5.5 -2.7 4.7 -4.1 2.9 -4.2 1.9 -2.5 3.5 .2 5 -.9 4.4 -3 2.9 -3.1 3.1 -3.6 2.9 -4.3 1.2 -4.2 .9 -3.4 1.3 -2.8 2.2 -3.4 2.5 -3.8 1.8 -3.9 .6 -3-3 -4.9-1.8 -4.7 4.4 -4 4.2 -4.5 .9 -4.2 1 -4.9 1.3 -5.3-1.6 -1.9-4.9 -.3-5 -3.5-3.3 -4.8-1.3 -3.9-1.7 -3.3-2.7 -3.5-3.2 -4-3.2 -4.3-2.9 -4.2-2.6 -2.5-4.5 -3.1-4.7 -5.7-1.8 -5.1-1.6 -3.7-3.1 -3.4-3.9 -3.4-4.7 -5-3.7 -3-5 1.5-6.1 1.6-4.3 .3-4.9 1.4-5 .9-5.4 -3.2-4.8 -3.5-4.2 -1.5-4.7 -1.8-4.8 -2.2-4.9 -.9-4.9 -.6-3.9 -.2-2.2 3.4-2.1 4.6-2.8 3.1-3.3 4.7-2.5 4.5-3.8 3.5-6.6 5.9-1.2 5.2 1.2 3.2-2.1 3-2.3 2.9-.8zM1399 1474.9l5 .9 4.5-.2 4.2 0 3.8 1.8 3.2 3.2 3.6 2.5 4.6 1.5 4.6 2.2 4 3.1 3.5 3.7 2.5 4.5 3.2 3.8 4.1 2.8 3.1 3.8 1.2 5 .9 5.1 1 4.8 .9 4.8 .7 5.2 -.5 5 -1.6 4.4 -2.5 3.9 -3.6 3.1 -4.5 1.9 -4.4 1.6 -3.9 2 -4.5 1.1 -4.7 1 -4.5 2.3 -4.8 1.3 -4.7-1.3 -4.7-1.5 -4.7-.7 -4.5-1.9 -5.1-1.5 -5.9-.5 -4.4-3 -3.2-4.4 -3.4-4.4 -1.5-5.3 -.5-5.1 -2.3-4 -3.8-3.1 -2.6-3.9 -1.1-4.8 -.4-4.9 1.4-4.8 2.2-4.2 1.2-4.1 .6-4.3 0-4.3 1.1-3.9 2.4-3.5 3.2-3.6 4.6-2.5 5.5-.5 5.8-.4z" fill="#ff6060" fill-opacity="0.1" fill-rule="evenodd" stroke="#b74545" stroke-dasharray="6.29 2.72"/>
<path d="M1399 1474.9l5 .9 4.5-.2 4.2 0 3.8 1.8 3.2 3.2 3.6 2.5 4.6 1.5 4.6 2.2 4 3.1 3.5 3.7 2.5 4.5 3.2 3.8 4.1 2.8 3.1 3.8 1.2 5 .9 5.1 1 4.8 .9 4.8 .7 5.2 -.5 5 -1.6 4.4 -2.5 3.9 -3.6 3.1 -4.5 1.9 -4.4 1.6 -3.9 2 -4.5 1.1 -4.7 1 -4.5 2.3 -4.8 1.3 -4.7-1.3 -4.7-1.5 -4.7-.7 -4.5-1.9 -5.1-1.5 -5.9-.5 -4.4-3 -3.2-4.4 -3.4-4.4 -1.5-5.3 -.5-5.1 -2.3-4 -3.8-3.1 -2.6-3.9 -1.1-4.8 -.4-4.9 1.4-4.8 2.2-4.2 1.2-4.1 .6-4.3 0-4.3 1.1-3.9 2.4-3.5 3.2-3.6 4.6-2.5 5.5-.5 5.8-.4z" fill="#bb3535" fill-opacity="0.1" stroke="#862626" stroke-dasharray="6.29 2.72"/>
<path d="M1367.1 1445.8l4.4 1.4 5.2 1 4.7 .4 4.8-1.3 5.6-1.3 5.6 1.5 4.8 1 4.7 1.1 4 2 4.1 1.6 4.8 .8 4.8 1.5 4.7 2.1 4.3 2.9 4.2 2.6 5 2.2 3.9 4.2 2.5 5.5 4.1 2.7 4.8 1 4.5 2.9 2 4.9 2.1 4.4 3.1 2.8 2.9 4 1.6 4.8 2.3 4.1 2.2 4 1.6 4.3 1.7 3.9 .8 4.6 -.9 4.9 -2.1 4.7 -1 4.8 1.2 4.7 0 4.8 -3.1 3.5 -2.3 3.9 -.6 4.6 -1.5 3.4 -3.5 3 -3 2.9 -1.9 3.2 -3 2.9 -4.1 1.2 -3.9 1.7 -3.8 2.5 -3.7 1.3 -3.3 2.3 -2.6 2.8 -3.6 1.9 -3.7 1.1 -4.3 .1 -3.8-.2 -4.7-1 -5.3 .4 -3.6 2.2 -3.8 .9 -4.2-.3 -4-.2 -3.2-1.9 -2-3.2 -2.9-3.8 -4.1-2.4 -4.1-1.3 -3.9-1.8 -4.4-2.2 -4.8-2.4 -3.5-3.8 -2.7-4.6 -2.7-4.2 -4.7-2.7 -5.3-1.1 -4-4 -2.6-4.3 -3.8-3.6 -3.7-4.4 -2.7-5.1 -2.5-5 -2.2-4.6 .1-4.8 1.2-4.8 .5-4.7 -.1-4.8 -1.4-4.8 -2.2-4.7 -.9-4.9 -1.3-5 -4-4.2 -2-4.6 .7-4.6 1-1.8 3.3-1.4 4.8-2.7 3.5-3.3 4.4-3 5.3-2.5 4.8-3 5-1.5 4.4-2 2.6-3.6 3-2.3 2.7-.7zM1399 1474.5l5 .6 4.5 .1 4.2 .4 4 1.3 3.8 2.1 4 2.3 3.9 2.6 3.8 3.2 4.3 2.8 4.2 2.9 3.2 4.2 2.6 4.3 2.9 3.7 2.2 4.1 1.4 4.8 1.8 4.7 1.5 4.8 -.2 4.8 -.5 4.9 -.4 4.8 -1.6 4.1 -2.5 3.4 -2.8 3.4 -2.9 3.5 -3.8 2.8 -4.3 2 -4.7 1.4 -5 .4 -4.8 .3 -4.7 1.1 -4.8 .2 -4.7-1.2 -4.8-1 -4.9-1.2 -4.6-2.8 -4.7-2.5 -4.7-2.2 -3.6-3.7 -2.3-4.9 -2.3-4.8 -2.2-4.2 -2.4-3.9 -3-3.6 -2.1-4.2 -.7-4.8 -.9-4.8 .1-5 1.8-4.5 2-3.9 1.2-4.1 .3-4.2 1-3.9 2.7-3.1 3.7-2.6 4.7-1.4 5.1-1 5.4-1.9z" fill="#ed78ff" fill-opacity="0.1" fill-rule="evenodd" stroke="#aa56b7"/>
<path d="M1399 1474.5l5 .6 4.5 .1 4.2 .4 4 1.3 3.8 2.1 4 2.3 3.9 2.6 3.8 3.2 4.3 2.8 4.2 2.9 3.2 4.2 2.6 4.3 2.9 3.7 2.2 4.1 1.4 4.8 1.8 4.7 1.5 4.8 -.2 4.8 -.5 4.9 -.4 4.8 -1.6 4.1 -2.5 3.4 -2.8 3.4 -2.9 3.5 -3.8 2.8 -4.3 2 -4.7 1.4 -5 .4 -4.8 .3 -4.7 1.1 -4.8 .2 -4.7-1.2 -4.8-1 -4.9-1.2 -4.6-2.8 -4.7-2.5 -4.7-2.2 -3.6-3.7 -2.3-4.9 -2.3-4.8 -2.2-4.2 -2.4-3.9 -3-3.6 -2.1-4.2 -.7-4.8 -.9-4.8 .1-5 1.8-4.5 2-3.9 1.2-4.1 .3-4.2 1-3.9 2.7-3.1 3.7-2.6 4.7-1.4 5.1-1 5.4-1.9z" fill="#8342c1" fill-opacity="0.1" stroke="#5e2f8a"/>
</g>
<g clip-path="url(#c00)">
<path d="M230.0 273.1L230.0 115.6L230.4 112.9L232.4 101.0L234.4 89.4L236.4 78.0L238.4 67.5L240.4 58.5L242.4 50.7L244.4 43.8L246.4 38.0L248.4 33.0L250.4 29.4L252.4 27.0L254.4 25.9L256.4 25.7L258.4 26.6L260.4 29.4L262.4 34.3L264.4 40.6L266.4 48.0L268.4 56.6L270.4 65.8L272.4 75.3L274.4 85.3L276.4 95.5L278.4 105.6L280.4 115.6L282.4 125.6L284.4 135.6L284.9 138.0L284.9 273.1Z" fill="#3b82f6" fill-opacity="0.2"/>
<path d="M225.0 273.1L225.0 130.7L226.4 122.6L228.4 111.5L230.4 100.5L232.4 89.3L234.4 78.7L236.4 69.2L238.4 60.5L240.4 52.5L242.4 45.5L244.4 39.4L246.4 34.6L248.4 31.5L250.4 30.0L252.4 30.0L254.4 31.5L256.4 34.3L258.4 38.2L260.4 43.2L262.4 49.3L264.4 56.5L266.4 64.4L268.4 72.7L270.4 81.8L272.4 91.4L274.4 101.3L276.4 111.7L278.0 120.2L278.0 273.1Z" fill="#10b981" fill-opacity="0.2"/>
<path d="M221.8 273.1L221.8 137.3L222.4 133.9L224.4 122.8L226.4 111.8L228.4 101.1L230.4 90.5L232.4 80.7L234.4 72.3L236.4 65.0L238.4 58.9L240.4 53.9L242.4 49.8L244.4 46.7L246.4 44.7L248.4 43.5L250.4 43.0L252.4 43.4L254.4 44.4L256.4 46.3L258.4 49.2L260.4 53.6L262.4 59.3L264.4 66.1L266.4 73.7L268.4 82.3L270.4 91.6L272.4 101.4L274.4 111.8L276.4 122.5L278.4 133.1L280.3 143.1L280.3 273.1Z" fill="#ef4444" fill-opacity="0.2"/>
<path d="M221.8 273.1L221.8 142.7L222.4 139.4L224.4 128.3L226.4 117.1L228.4 106.2L230.4 95.3L232.4 84.6L234.4 75.0L236.4 66.6L238.4 59.1L240.4 52.6L242.4 47.1L244.4 42.6L246.4 39.5L248.4 37.6L250.4 36.9L252.4 37.3L254.4 38.8L256.4 41.2L258.4 44.5L260.4 49.0L262.4 54.8L264.4 61.7L266.4 69.2L268.4 77.6L270.4 86.8L272.4 96.4L274.4 106.5L276.4 117.1L278.4 127.8L280.4 138.4L280.5 138.8L280.5 273.1Z" fill="#a855f7" fill-opacity="0.2"/>
<path d="M80.4 272.4L82.4 272.4L84.4 272.4L86.4 272.4L88.4 272.4L90.4 272.4L92.4 272.4L94.4 272.4L96.4 272.4L98.4 272.4L100.4 272.5L102.4 272.5L104.4 272.5L106.4 272.5L108.4 272.5L110.4 272.5L112.4 272.5L114.4 272.5L116.4 272.5L118.4 272.5L120.4 272.4L122.4 272.4L124.4 272.3L126.4 272.3L128.4 272.2L130.4 272.1L132.4 272.1L134.4 272.0L136.4 272.0L138.4 271.9L140.4 271.9L142.4 271.8L144.4 271.7L146.4 271.6L148.4 271.5L150.4 271.4L152.4 271.2L154.4 271.1L156.4 270.8L158.4 270.6L160.4 270.3L162.4 270.0L164.4 269.8L166.4 269.6L168.4 269.4L170.4 269.0L172.4 268.6L174.4 268.0L176.4 267.2L178.4 266.2L180.4 265.2L182.4 264.0L184.4 262.7L186.4 261.1L188.4 259.3L190.4 257.3L192.4 255.1L194.4 252.7L196.4 249.9L198.4 246.6L200.4 242.8L202.4 238.5L204.4 233.7L206.4 228.2L208.4 221.7L210.4 214.3L212.4 206.4L214.4 198.1L216.4 189.5L218.4 180.3L220.4 170.4L222.4 159.8L224.4 148.6L226.4 137.1L228.4 125.2L230.4 112.9L232.4 101.0L234.4 89.4L236.4 78.0L238.4 67.5L240.4 58.5L242.4 50.7L244.4 43.8L246.4 38.0L248.4 33.0L250.4 29.4L252.4 27.0L254.4 25.9L256.4 25.7L258.4 26.6L260.4 29.4L262.4 34.3L264.4 40.6L266.4 48.0L268.4 56.6L270.4 65.8L272.4 75.3L274.4 85.3L276.4 95.5L278.4 105.6L280.4 115.6L282.4 125.6L284.4 135.6L286.4 145.8L288.4 155.8L290.4 165.5L292.4 174.9L294.4 184.0L296.4 192.5L298.4 200.1L300.4 207.2L302.4 213.7L304.4 219.8L306.4 225.4L308.4 230.6L310.4 235.4L312.4 239.7L314.4 243.6L316.4 247.3L318.4 250.6L320.4 253.7L322.4 256.5L324.4 259.0L326.4 261.1L328.4 262.9L330.4 264.4L332.4 265.7L334.4 266.9L336.4 267.9L338.4 268.7L340.4 269.4L342.4 269.9L344.4 270.4L346.4 270.8L348.4 271.2L350.4 271.5L352.4 271.7L354.4 271.8L356.4 271.9L358.4 271.9L360.4 272.0L362.4 272.1L364.4 272.2L366.4 272.3L368.4 272.3" fill="none" stroke="#3b82f6" stroke-width="1.8" stroke-dasharray="1.80 2.97" stroke-linejoin="round"/>
<path d="M80.4 272.2L82.4 272.2L84.4 272.2L86.4 272.2L88.4 272.2L90.4 272.2L92.4 272.1L94.4 272.1L96.4 272.1L98.4 272.1L100.4 272.1L102.4 272.1L104.4 272.1L106.4 272.0L108.4 272.0L110.4 272.0L112.4 271.9L114.4 271.9L116.4 271.8L118.4 271.7L120.4 271.7L122.4 271.6L124.4 271.6L126.4 271.5L128.4 271.4L130.4 271.3L132.4 271.2L134.4 271.0L136.4 270.9L138.4 270.7L140.4 270.5L142.4 270.3L144.4 270.1L146.4 269.8L148.4 269.6L150.4 269.3L152.4 268.9L154.4 268.5L156.4 268.2L158.4 267.8L160.4 267.4L162.4 266.9L164.4 266.4L166.4 265.8L168.4 265.2L170.4 264.4L172.4 263.6L174.4 262.7L176.4 261.8L178.4 260.7L180.4 259.4L182.4 258.0L184.4 256.5L186.4 254.9L188.4 252.9L190.4 250.3L192.4 247.3L194.4 243.9L196.4 240.0L198.4 235.6L200.4 230.7L202.4 225.4L204.4 219.6L206.4 213.3L208.4 206.6L210.4 199.4L212.4 191.8L214.4 183.7L216.4 174.9L218.4 165.3L220.4 155.2L222.4 144.7L224.4 133.8L226.4 122.6L228.4 111.5L230.4 100.5L232.4 89.3L234.4 78.7L236.4 69.2L238.4 60.5L240.4 52.5L242.4 45.5L244.4 39.4L246.4 34.6L248.4 31.5L250.4 30.0L252.4 30.0L254.4 31.5L256.4 34.3L258.4 38.2L260.4 43.2L262.4 49.3L264.4 56.5L266.4 64.4L268.4 72.7L270.4 81.8L272.4 91.4L274.4 101.3L276.4 111.7L278.4 122.5L280.4 133.1L282.4 143.8L284.4 154.4L286.4 164.6L288.4 174.1L290.4 183.2L292.4 191.7L294.4 199.4L296.4 206.5L298.4 213.0L300.4 219.2L302.4 224.9L304.4 230.1L306.4 234.9L308.4 239.3L310.4 243.3L312.4 246.9L314.4 250.2L316.4 253.1L318.4 255.7L320.4 258.0L322.4 260.1L324.4 261.8L326.4 263.4L328.4 264.7L330.4 265.9L332.4 267.0L334.4 268.0L336.4 268.9L338.4 269.6L340.4 270.2L342.4 270.7L344.4 271.1L346.4 271.4L348.4 271.5L350.4 271.7L352.4 271.8L354.4 272.0L356.4 272.1L358.4 272.1L360.4 272.2L362.4 272.2L364.4 272.2L366.4 272.2L368.4 272.2" fill="none" stroke="#10b981" stroke-width="1.8" stroke-dasharray="11.52 2.88 1.80 2.88" stroke-linejoin="round"/>
<path d="M80.4 272.2L82.4 272.2L84.4 272.2L86.4 272.2L88.4 272.2L90.4 272.1L92.4 272.1L94.4 272.1L96.4 272.1L98.4 272.1L100.4 272.1L102.4 272.1L104.4 272.0L106.4 272.0L108.4 272.0L110.4 271.9L112.4 271.9L114.4 271.8L116.4 271.7L118.4 271.7L120.4 271.6L122.4 271.6L124.4 271.5L126.4 271.4L128.4 271.3L130.4 271.2L132.4 271.0L134.4 270.9L136.4 270.7L138.4 270.5L140.4 270.3L142.4 270.1L144.4 269.8L146.4 269.6L148.4 269.3L150.4 268.9L152.4 268.5L154.4 268.2L156.4 267.8L158.4 267.4L160.4 266.9L162.4 266.4L164.4 265.8L166.4 265.2L168.4 264.4L170.4 263.6L172.4 262.7L174.4 261.8L176.4 260.7L178.4 259.4L180.4 258.0L182.4 256.5L184.4 254.9L186.4 252.9L188.4 250.3L190.4 247.3L192.4 243.9L194.4 240.0L196.4 235.6L198.4 230.7L200.4 225.4L202.4 219.6L204.4 213.3L206.4 206.6L208.4 199.4L210.4 191.8L212.4 183.7L214.4 174.9L216.4 165.3L218.4 155.2L220.4 144.7L222.4 133.9L224.4 122.8L226.4 111.8L228.4 101.1L230.4 90.5L232.4 80.7L234.4 72.3L236.4 65.0L238.4 58.9L240.4 53.9L242.4 49.8L244.4 46.7L246.4 44.7L248.4 43.5L250.4 43.0L252.4 43.4L254.4 44.4L256.4 46.3L258.4 49.2L260.4 53.6L262.4 59.3L264.4 66.1L266.4 73.7L268.4 82.3L270.4 91.6L272.4 101.4L274.4 111.8L276.4 122.5L278.4 133.1L280.4 143.8L282.4 154.4L284.4 164.6L286.4 174.1L288.4 183.2L290.4 191.7L292.4 199.4L294.4 206.5L296.4 213.0L298.4 219.2L300.4 224.9L302.4 230.1L304.4 234.9L306.4 239.3L308.4 243.3L310.4 246.9L312.4 250.2L314.4 253.1L316.4 255.7L318.4 258.0L320.4 260.1L322.4 261.8L324.4 263.4L326.4 264.7L328.4 265.9L330.4 267.0L332.4 268.0L334.4 268.9L336.4 269.6L338.4 270.2L340.4 270.7L342.4 271.1L344.4 271.4L346.4 271.5L348.4 271.7L350.4 271.8L352.4 272.0L354.4 272.1L356.4 272.1L358.4 272.2L360.4 272.2L362.4 272.2L364.4 272.2L366.4 272.2L368.4 272.2" fill="none" stroke="#ef4444" stroke-width="1.8" stroke-dasharray="6.66 2.88" stroke-linejoin="round"/>
<path d="M80.4 272.2L82.4 272.2L84.4 272.2L86.4 272.2L88.4 272.2L90.4 272.1L92.4 272.1L94.4 272.1L96.4 272.1L98.4 272.1L100.4 272.1L102.4 272.1L104.4 272.1L106.4 272.0L108.4 272.0L110.4 271.9L112.4 271.9L114.4 271.8L116.4 271.8L118.4 271.7L120.4 271.7L122.4 271.6L124.4 271.5L126.4 271.5L128.4 271.4L130.4 271.2L132.4 271.1L134.4 271.0L136.4 270.8L138.4 270.6L140.4 270.4L142.4 270.2L144.4 269.9L146.4 269.7L148.4 269.4L150.4 269.1L152.4 268.7L154.4 268.4L156.4 268.0L158.4 267.6L160.4 267.2L162.4 266.7L164.4 266.1L166.4 265.5L168.4 264.8L170.4 264.0L172.4 263.2L174.4 262.3L176.4 261.3L178.4 260.1L180.4 258.7L182.4 257.3L184.4 255.7L186.4 253.9L188.4 251.7L190.4 248.9L192.4 245.7L194.4 242.0L196.4 237.8L198.4 233.2L200.4 228.1L202.4 222.6L204.4 216.5L206.4 210.0L208.4 203.1L210.4 195.7L212.4 187.8L214.4 179.4L216.4 170.2L218.4 160.3L220.4 150.0L222.4 139.4L224.4 128.3L226.4 117.1L228.4 106.2L230.4 95.3L232.4 84.6L234.4 75.0L236.4 66.6L238.4 59.1L240.4 52.6L242.4 47.1L244.4 42.6L246.4 39.5L248.4 37.6L250.4 36.9L252.4 37.3L254.4 38.8L256.4 41.2L258.4 44.5L260.4 49.0L262.4 54.8L264.4 61.7L266.4 69.2L268.4 77.6L270.4 86.8L272.4 96.4L274.4 106.5L276.4 117.1L278.4 127.8L280.4 138.4L282.4 149.2L284.4 159.6L286.4 169.4L288.4 178.7L290.4 187.5L292.4 195.6L294.4 203.0L296.4 209.8L298.4 216.2L300.4 222.1L302.4 227.5L304.4 232.6L306.4 237.2L308.4 241.4L310.4 245.2L312.4 248.6L314.4 251.7L316.4 254.4L318.4 256.9L320.4 259.1L322.4 261.0L324.4 262.6L326.4 264.1L328.4 265.3L330.4 266.5L332.4 267.6L334.4 268.5L336.4 269.2L338.4 269.9L340.4 270.5L342.4 270.9L344.4 271.2L346.4 271.5L348.4 271.6L350.4 271.7L352.4 271.9L354.4 272.0L356.4 272.1L358.4 272.2L360.4 272.2L362.4 272.2L364.4 272.2L366.4 272.2L368.4 272.2" fill="none" stroke="#a855f7" stroke-width="1.8" stroke-linejoin="round"/>
</g>
<g clip-path="url(#c11)">
<path d="M508.2 545.1L508.2 381.9L509.6 376.4L511.6 368.6L513.6 360.9L515.6 353.6L517.6 346.6L519.6 339.9L521.6 333.5L523.6 327.7L525.6 322.5L527.6 317.7L529.6 313.5L531.6 309.9L533.6 306.8L535.6 304.3L537.6 302.4L539.6 300.9L541.6 299.8L543.6 299.2L545.6 299.1L547.6 299.6L549.6 300.6L551.6 302.2L553.6 304.6L555.6 307.7L557.6 311.6L559.6 316.3L561.6 321.9L563.6 328.2L565.6 334.9L567.6 342.1L569.6 349.7L571.6 357.6L573.6 365.8L575.6 374.4L577.6 383.1L579.6 391.9L581.5 400.4L581.5 545.1Z" fill="#3b82f6" fill-opacity="0.2"/>
<path d="M501.0 545.1L501.0 393.6L501.6 391.3L503.6 383.9L505.6 376.8L507.6 369.8L509.6 362.8L511.6 356.1L513.6 349.7L515.6 343.6L517.6 337.7L519.6 332.2L521.6 327.2L523.6 322.5L525.6 318.1L527.6 313.9L529.6 309.6L531.6 305.5L533.6 301.7L535.6 298.9L537.6 297.6L539.6 297.7L541.6 299.1L543.6 301.8L545.6 305.5L547.6 309.9L549.6 314.9L551.6 320.3L553.6 326.2L555.6 332.5L557.6 338.9L559.6 345.7L561.6 352.8L563.6 360.2L565.6 367.8L567.6 375.8L569.6 384.0L571.6 392.3L573.2 398.9L573.2 545.1Z" fill="#10b981" fill-opacity="0.2"/>
<path d="M496.6 545.1L496.6 405.7L497.6 402.1L499.6 394.9L501.6 387.6L503.6 380.3L505.6 373.3L507.6 366.3L509.6 359.5L511.6 352.9L513.6 346.8L515.6 341.0L517.6 335.5L519.6 330.7L521.6 326.6L523.6 323.1L525.6 320.2L527.6 317.8L529.6 315.8L531.6 314.1L533.6 312.9L535.6 312.4L537.6 312.5L539.6 312.9L541.6 313.7L543.6 314.9L545.6 316.7L547.6 319.1L549.6 322.2L551.6 326.2L553.6 331.1L555.6 336.7L557.6 342.8L559.6 349.5L561.6 356.6L563.6 364.0L565.6 371.8L567.6 379.9L569.6 388.1L571.6 396.5L573.6 405.1L575.1 411.3L575.1 545.1Z" fill="#ef4444" fill-opacity="0.2"/>
<path d="M498.3 545.1L498.3 401.5L499.6 396.8L501.6 389.4L503.6 382.1L505.6 375.1L507.6 368.0L509.6 361.1L511.6 354.5L513.6 348.2L515.6 342.2L517.6 336.4L519.6 331.2L521.6 326.5L523.6 322.4L525.6 318.9L527.6 315.7L529.6 313.0L531.6 310.5L533.6 308.7L535.6 307.7L537.6 307.6L539.6 308.2L541.6 309.2L543.6 310.9L545.6 313.2L547.6 316.1L549.6 319.6L551.6 323.9L553.6 329.0L555.6 334.7L557.6 340.9L559.6 347.6L561.6 354.7L563.6 362.1L565.6 369.8L567.6 377.8L569.6 386.0L571.6 394.4L573.6 402.9L575.1 409.2L575.1 545.1Z" fill="#a855f7" fill-opacity="0.2"/>
<path d="M369.6 543.7L371.6 543.7L373.6 543.7L375.6 543.7L377.6 543.7L379.6 543.7L381.6 543.7L383.6 543.7L385.6 543.7L387.6 543.7L389.6 543.6L391.6 543.6L393.6 543.6L395.6 543.5L397.6 543.4L399.6 543.3L401.6 543.1L403.6 542.9L405.6 542.8L407.6 542.6L409.6 542.4L411.6 542.2L413.6 541.9L415.6 541.6L417.6 541.2L419.6 540.7L421.6 540.3L423.6 539.7L425.6 539.2L427.6 538.6L429.6 537.9L431.6 537.2L433.6 536.4L435.6 535.5L437.6 534.7L439.6 533.8L441.6 532.8L443.6 531.7L445.6 530.4L447.6 529.0L449.6 527.6L451.6 526.0L453.6 524.2L455.6 522.3L457.6 520.2L459.6 517.8L461.6 515.4L463.6 512.7L465.6 509.7L467.6 506.4L469.6 502.9L471.6 499.1L473.6 495.0L475.6 490.4L477.6 485.5L479.6 480.1L481.6 474.4L483.6 468.4L485.6 462.4L487.6 456.1L489.6 449.7L491.6 443.0L493.6 436.2L495.6 429.1L497.6 421.8L499.6 414.4L501.6 407.0L503.6 399.4L505.6 391.7L507.6 384.1L509.6 376.4L511.6 368.6L513.6 360.9L515.6 353.6L517.6 346.6L519.6 339.9L521.6 333.5L523.6 327.7L525.6 322.5L527.6 317.7L529.6 313.5L531.6 309.9L533.6 306.8L535.6 304.3L537.6 302.4L539.6 300.9L541.6 299.8L543.6 299.2L545.6 299.1L547.6 299.6L549.6 300.6L551.6 302.2L553.6 304.6L555.6 307.7L557.6 311.6L559.6 316.3L561.6 321.9L563.6 328.2L565.6 334.9L567.6 342.1L569.6 349.7L571.6 357.6L573.6 365.8L575.6 374.4L577.6 383.1L579.6 391.9L581.6 401.0L583.6 410.1L585.6 419.1L587.6 428.2L589.6 437.1L591.6 445.9L593.6 454.5L595.6 462.9L597.6 471.2L599.6 479.6L601.6 487.6L603.6 494.9L605.6 501.4L607.6 507.4L609.6 512.7L611.6 517.5L613.6 521.7L615.6 525.4L617.6 528.7L619.6 531.4L621.6 533.6L623.6 535.4L625.6 537.0L627.6 538.4L629.6 539.6L631.6 540.4L633.6 541.1L635.6 541.6L637.6 542.0L639.6 542.4L641.6 542.8L643.6 543.1L645.6 543.3L647.6 543.4L649.6 543.5L651.6 543.5L653.6 543.6L655.6 543.6L657.6 543.7" fill="none" stroke="#3b82f6" stroke-width="1.8" stroke-dasharray="1.80 2.97" stroke-linejoin="round"/>
<path d="M369.6 543.6L371.6 543.5L373.6 543.4L375.6 543.4L377.6 543.3L379.6 543.2L381.6 543.1L383.6 543.0L385.6 542.8L387.6 542.7L389.6 542.5L391.6 542.3L393.6 542.1L395.6 541.9L397.6 541.7L399.6 541.4L401.6 541.0L403.6 540.6L405.6 540.1L407.6 539.6L409.6 539.0L411.6 538.4L413.6 537.7L415.6 536.9L417.6 536.1L419.6 535.1L421.6 534.1L423.6 533.1L425.6 531.9L427.6 530.7L429.6 529.4L431.6 528.0L433.6 526.6L435.6 525.0L437.6 523.3L439.6 521.5L441.6 519.5L443.6 517.4L445.6 515.3L447.6 513.1L449.6 510.9L451.6 508.6L453.6 506.2L455.6 503.8L457.6 501.3L459.6 498.9L461.6 496.4L463.6 493.7L465.6 490.5L467.6 486.9L469.6 483.0L471.6 478.9L473.6 474.5L475.6 470.1L477.6 465.4L479.6 460.5L481.6 455.3L483.6 449.7L485.6 443.7L487.6 437.5L489.6 431.3L491.6 425.1L493.6 418.8L495.6 412.3L497.6 405.6L499.6 398.6L501.6 391.3L503.6 383.9L505.6 376.8L507.6 369.8L509.6 362.8L511.6 356.1L513.6 349.7L515.6 343.6L517.6 337.7L519.6 332.2L521.6 327.2L523.6 322.5L525.6 318.1L527.6 313.9L529.6 309.6L531.6 305.5L533.6 301.7L535.6 298.9L537.6 297.6L539.6 297.7L541.6 299.1L543.6 301.8L545.6 305.5L547.6 309.9L549.6 314.9L551.6 320.3L553.6 326.2L555.6 332.5L557.6 338.9L559.6 345.7L561.6 352.8L563.6 360.2L565.6 367.8L567.6 375.8L569.6 384.0L571.6 392.3L573.6 400.8L575.6 409.4L577.6 417.9L579.6 426.6L581.6 435.1L583.6 443.2L585.6 450.9L587.6 458.3L589.6 465.6L591.6 472.9L593.6 480.0L595.6 486.7L597.6 492.6L599.6 498.0L601.6 502.9L603.6 507.6L605.6 512.1L607.6 516.3L609.6 520.2L611.6 523.7L613.6 526.7L615.6 529.2L617.6 531.4L619.6 533.4L621.6 535.2L623.6 536.8L625.6 538.1L627.6 539.2L629.6 540.1L631.6 540.9L633.6 541.6L635.6 542.1L637.6 542.5L639.6 542.7L641.6 542.8L643.6 543.0L645.6 543.2L647.6 543.3L649.6 543.4L651.6 543.4L653.6 543.5L655.6 543.5L657.6 543.5" fill="none" stroke="#10b981" stroke-width="1.8" stroke-dasharray="11.52 2.88 1.80 2.88" stroke-linejoin="round"/>
<path d="M369.6 543.6L371.6 543.5L373.6 543.4L375.6 543.3L377.6 543.2L379.6 543.1L381.6 543.0L383.6 542.9L385.6 542.8L387.6 542.6L389.6 542.4L391.6 542.2L393.6 542.0L395.6 541.8L397.6 541.5L399.6 541.2L401.6 540.8L403.6 540.3L405.6 539.9L407.6 539.3L409.6 538.7L411.6 538.1L413.6 537.3L415.6 536.5L417.6 535.6L419.6 534.7L421.6 533.6L423.6 532.5L425.6 531.3L427.6 530.0L429.6 528.7L431.6 527.3L433.6 525.8L435.6 524.2L437.6 522.4L439.6 520.5L441.6 518.5L443.6 516.4L445.6 514.2L447.6 512.0L449.6 509.8L451.6 507.4L453.6 505.0L455.6 502.5L457.6 500.1L459.6 497.7L461.6 495.1L463.6 492.1L465.6 488.8L467.6 485.0L469.6 481.0L471.6 476.7L473.6 472.3L475.6 467.8L477.6 463.0L479.6 458.0L481.6 452.6L483.6 446.7L485.6 440.6L487.6 434.4L489.6 428.2L491.6 421.9L493.6 415.6L495.6 409.0L497.6 402.1L499.6 394.9L501.6 387.6L503.6 380.3L505.6 373.3L507.6 366.3L509.6 359.5L511.6 352.9L513.6 346.8L515.6 341.0L517.6 335.5L519.6 330.7L521.6 326.6L523.6 323.1L525.6 320.2L527.6 317.8L529.6 315.8L531.6 314.1L533.6 312.9L535.6 312.4L537.6 312.5L539.6 312.9L541.6 313.7L543.6 314.9L545.6 316.7L547.6 319.1L549.6 322.2L551.6 326.2L553.6 331.1L555.6 336.7L557.6 342.8L559.6 349.5L561.6 356.6L563.6 364.0L565.6 371.8L567.6 379.9L569.6 388.1L571.6 396.5L573.6 405.1L575.6 413.6L577.6 422.2L579.6 430.9L581.6 439.2L583.6 447.1L585.6 454.7L587.6 462.0L589.6 469.3L591.6 476.5L593.6 483.4L595.6 489.7L597.6 495.3L599.6 500.5L601.6 505.3L603.6 509.9L605.6 514.2L607.6 518.3L609.6 522.0L611.6 525.2L613.6 528.0L615.6 530.4L617.6 532.5L619.6 534.3L621.6 536.0L623.6 537.5L625.6 538.7L627.6 539.7L629.6 540.5L631.6 541.3L633.6 541.9L635.6 542.3L637.6 542.6L639.6 542.8L641.6 542.9L643.6 543.1L645.6 543.2L647.6 543.3L649.6 543.4L651.6 543.5L653.6 543.5L655.6 543.5L657.6 543.6" fill="none" stroke="#ef4444" stroke-width="1.8" stroke-dasharray="6.66 2.88" stroke-linejoin="round"/>
<path d="M369.6 543.6L371.6 543.5L373.6 543.4L375.6 543.3L377.6 543.3L379.6 543.2L381.6 543.1L383.6 542.9L385.6 542.8L387.6 542.6L389.6 542.5L391.6 542.3L393.6 542.1L395.6 541.9L397.6 541.6L399.6 541.3L401.6 540.9L403.6 540.5L405.6 540.0L407.6 539.5L409.6 538.9L411.6 538.3L413.6 537.5L415.6 536.7L417.6 535.9L419.6 534.9L421.6 533.9L423.6 532.8L425.6 531.6L427.6 530.4L429.6 529.1L431.6 527.7L433.6 526.2L435.6 524.6L437.6 522.9L439.6 521.0L441.6 519.0L443.6 516.9L445.6 514.8L447.6 512.6L449.6 510.3L451.6 508.0L453.6 505.6L455.6 503.2L457.6 500.7L459.6 498.3L461.6 495.7L463.6 492.9L465.6 489.7L467.6 486.0L469.6 482.0L471.6 477.8L473.6 473.4L475.6 468.9L477.6 464.2L479.6 459.3L481.6 454.0L483.6 448.2L485.6 442.2L487.6 436.0L489.6 429.7L491.6 423.5L493.6 417.2L495.6 410.7L497.6 403.9L499.6 396.8L501.6 389.4L503.6 382.1L505.6 375.1L507.6 368.0L509.6 361.1L511.6 354.5L513.6 348.2L515.6 342.2L517.6 336.4L519.6 331.2L521.6 326.5L523.6 322.4L525.6 318.9L527.6 315.7L529.6 313.0L531.6 310.5L533.6 308.7L535.6 307.7L537.6 307.6L539.6 308.2L541.6 309.2L543.6 310.9L545.6 313.2L547.6 316.1L549.6 319.6L551.6 323.9L553.6 329.0L555.6 334.7L557.6 340.9L559.6 347.6L561.6 354.7L563.6 362.1L565.6 369.8L567.6 377.8L569.6 386.0L571.6 394.4L573.6 402.9L575.6 411.5L577.6 420.1L579.6 428.7L581.6 437.2L583.6 445.2L585.6 452.8L587.6 460.2L589.6 467.4L591.6 474.7L593.6 481.8L595.6 488.2L597.6 494.0L599.6 499.2L601.6 504.1L603.6 508.7L605.6 513.2L607.6 517.3L609.6 521.1L611.6 524.5L613.6 527.3L615.6 529.8L617.6 532.0L619.6 533.9L621.6 535.6L623.6 537.1L625.6 538.4L627.6 539.4L629.6 540.3L631.6 541.1L633.6 541.8L635.6 542.2L637.6 542.5L639.6 542.7L641.6 542.9L643.6 543.0L645.6 543.2L647.6 543.3L649.6 543.4L651.6 543.4L653.6 543.5L655.6 543.5L657.6 543.6" fill="none" stroke="#a855f7" stroke-width="1.8" stroke-linejoin="round"/>
</g>
<g clip-path="url(#c22)">
<path d="M774.1 817.1L774.1 676.4L775.6 671.5L777.6 665.3L779.6 659.3L781.6 653.5L783.6 648.1L785.6 642.7L787.6 637.0L789.6 631.0L791.6 625.0L793.6 618.9L795.6 612.7L797.6 606.0L799.6 600.0L801.6 596.0L803.6 593.6L805.6 592.0L807.6 591.1L809.6 591.1L811.6 591.9L813.6 593.5L815.6 595.9L817.6 598.8L819.6 602.3L821.6 606.0L823.6 609.5L825.6 612.6L827.6 616.1L829.6 620.4L831.6 625.3L833.6 630.2L835.6 635.4L837.6 641.3L839.6 648.6L841.6 656.8L843.6 665.3L845.6 673.6L847.6 681.6L847.7 681.8L847.7 817.1Z" fill="#3b82f6" fill-opacity="0.2"/>
<path d="M801.0 817.1L801.0 652.0L801.6 648.9L803.6 638.9L805.6 629.1L807.6 620.0L809.6 611.4L811.6 603.3L813.6 596.2L815.6 589.9L817.6 584.5L819.6 580.0L821.6 576.6L823.6 574.1L825.6 572.4L827.6 571.6L829.6 571.5L831.6 572.1L833.6 573.4L835.6 575.4L837.6 578.2L839.6 581.9L841.6 586.6L843.6 591.9L845.6 597.6L847.6 603.8L849.6 610.6L851.6 618.1L853.6 626.3L855.6 635.1L857.6 644.1L859.6 653.5L861.6 663.1L863.2 670.6L863.2 817.1Z" fill="#10b981" fill-opacity="0.2"/>
<path d="M798.3 817.1L798.3 672.7L799.6 666.3L801.6 656.6L803.6 646.9L805.6 636.9L807.6 627.2L809.6 618.2L811.6 609.5L813.6 601.6L815.6 594.5L817.6 588.1L819.6 582.6L821.6 578.1L823.6 574.6L825.6 572.0L827.6 570.4L829.6 569.6L831.6 569.7L833.6 570.7L835.6 572.4L837.6 574.8L839.6 578.0L841.6 582.2L843.6 587.2L845.6 592.8L847.6 598.7L849.6 605.1L851.6 612.0L853.6 619.7L855.6 628.1L857.6 636.9L859.6 645.9L861.6 655.4L863.6 665.0L865.6 674.4L865.6 817.1Z" fill="#ef4444" fill-opacity="0.2"/>
<path d="M798.3 817.1L798.3 668.9L799.6 662.5L801.6 652.8L803.6 642.9L805.6 633.0L807.6 623.6L809.6 614.8L811.6 606.5L813.6 599.0L815.6 592.5L817.6 586.7L819.6 581.9L821.6 578.2L823.6 575.4L825.6 573.5L827.6 572.4L829.6 572.0L831.6 572.2L833.6 573.2L835.6 574.9L837.6 577.2L839.6 580.5L841.6 584.7L843.6 589.8L845.6 595.3L847.6 601.3L849.6 607.8L851.6 615.0L853.6 623.0L855.6 631.6L857.6 640.5L859.6 649.7L861.6 659.2L863.6 668.9L865.6 678.2L865.6 817.1Z" fill="#a855f7" fill-opacity="0.2"/>
<path d="M657.6 815.7L659.6 815.7L661.6 815.6L663.6 815.5L665.6 815.5L667.6 815.4L669.6 815.3L671.6 815.2L673.6 815.1L675.6 815.0L677.6 814.8L679.6 814.7L681.6 814.5L683.6 814.3L685.6 814.1L687.6 813.8L689.6 813.5L691.6 813.2L693.6 812.9L695.6 812.6L697.6 812.2L699.6 811.8L701.6 811.3L703.6 810.7L705.6 810.0L707.6 809.2L709.6 808.4L711.6 807.6L713.6 806.6L715.6 805.4L717.6 804.1L719.6 802.6L721.6 801.0L723.6 799.2L725.6 797.2L727.6 795.1L729.6 793.0L731.6 790.8L733.6 788.4L735.6 785.7L737.6 782.5L739.6 779.1L741.6 775.3L743.6 771.0L745.6 766.2L747.6 760.7L749.6 754.8L751.6 749.0L753.6 743.4L755.6 737.7L757.6 731.4L759.6 724.6L761.6 717.9L763.6 711.5L765.6 705.0L767.6 698.4L769.6 691.5L771.6 684.6L773.6 677.9L775.6 671.5L777.6 665.3L779.6 659.3L781.6 653.5L783.6 648.1L785.6 642.7L787.6 637.0L789.6 631.0L791.6 625.0L793.6 618.9L795.6 612.7L797.6 606.0L799.6 600.0L801.6 596.0L803.6 593.6L805.6 592.0L807.6 591.1L809.6 591.1L811.6 591.9L813.6 593.5L815.6 595.9L817.6 598.8L819.6 602.3L821.6 606.0L823.6 609.5L825.6 612.6L827.6 616.1L829.6 620.4L831.6 625.3L833.6 630.2L835.6 635.4L837.6 641.3L839.6 648.6L841.6 656.8L843.6 665.3L845.6 673.6L847.6 681.6L849.6 689.6L851.6 697.6L853.6 705.6L855.6 713.8L857.6 722.1L859.6 730.0L861.6 737.3L863.6 743.7L865.6 749.7L867.6 755.3L869.6 760.9L871.6 766.3L873.6 771.5L875.6 776.5L877.6 781.1L879.6 785.2L881.6 789.0L883.6 792.4L885.6 795.5L887.6 798.3L889.6 800.9L891.6 803.0L893.6 804.9L895.6 806.5L897.6 808.0L899.6 809.3L901.6 810.5L903.6 811.5L905.6 812.3L907.6 812.9L909.6 813.4L911.6 813.7L913.6 814.0L915.6 814.2L917.6 814.5L919.6 814.8L921.6 815.0L923.6 815.3L925.6 815.4L927.6 815.5L929.6 815.6L931.6 815.6L933.6 815.7L935.6 815.7L937.6 815.7L939.6 815.6L941.6 815.6L943.6 815.7L945.6 815.7" fill="none" stroke="#3b82f6" stroke-width="1.8" stroke-dasharray="1.80 2.97" stroke-linejoin="round"/>
<path d="M657.6 815.7L659.6 815.7L661.6 815.7L663.6 815.7L665.6 815.7L667.6 815.7L669.6 815.7L671.6 815.7L673.6 815.7L675.6 815.7L677.6 815.7L679.6 815.7L681.6 815.7L683.6 815.7L685.6 815.7L687.6 815.6L689.6 815.6L691.6 815.5L693.6 815.4L695.6 815.3L697.6 815.2L699.6 815.1L701.6 815.0L703.6 814.9L705.6 814.7L707.6 814.6L709.6 814.4L711.6 814.1L713.6 813.9L715.6 813.6L717.6 813.3L719.6 813.0L721.6 812.6L723.6 812.1L725.6 811.5L727.6 810.9L729.6 810.2L731.6 809.4L733.6 808.5L735.6 807.4L737.6 806.1L739.6 804.6L741.6 803.0L743.6 801.2L745.6 799.3L747.6 797.3L749.6 795.1L751.6 792.8L753.6 790.3L755.6 787.7L757.6 785.0L759.6 782.3L761.6 779.3L763.6 776.2L765.6 772.7L767.6 768.9L769.6 764.9L771.6 760.5L773.6 755.8L775.6 750.5L777.6 744.7L779.6 738.6L781.6 732.1L783.6 725.4L785.6 718.3L787.6 710.9L789.6 703.1L791.6 695.1L793.6 686.6L795.6 677.7L797.6 668.3L799.6 658.6L801.6 648.9L803.6 638.9L805.6 629.1L807.6 620.0L809.6 611.4L811.6 603.3L813.6 596.2L815.6 589.9L817.6 584.5L819.6 580.0L821.6 576.6L823.6 574.1L825.6 572.4L827.6 571.6L829.6 571.5L831.6 572.1L833.6 573.4L835.6 575.4L837.6 578.2L839.6 581.9L841.6 586.6L843.6 591.9L845.6 597.6L847.6 603.8L849.6 610.6L851.6 618.1L853.6 626.3L855.6 635.1L857.6 644.1L859.6 653.5L861.6 663.1L863.6 672.7L865.6 682.3L867.6 691.8L869.6 701.2L871.6 710.5L873.6 719.6L875.6 728.4L877.6 736.8L879.6 745.0L881.6 752.8L883.6 760.1L885.6 766.9L887.6 773.1L889.6 778.8L891.6 783.7L893.6 788.1L895.6 792.0L897.6 795.6L899.6 798.8L901.6 801.6L903.6 804.0L905.6 806.2L907.6 808.1L909.6 809.6L911.6 810.9L913.6 812.1L915.6 813.0L917.6 813.7L919.6 814.2L921.6 814.5L923.6 814.7L925.6 814.9L927.6 815.2L929.6 815.4L931.6 815.5L933.6 815.6L935.6 815.6L937.6 815.7L939.6 815.7L941.6 815.7L943.6 815.7L945.6 815.7" fill="none" stroke="#10b981" stroke-width="1.8" stroke-dasharray="11.52 2.88 1.80 2.88" stroke-linejoin="round"/>
<path d="M657.6 815.7L659.6 815.7L661.6 815.7L663.6 815.7L665.6 815.7L667.6 815.7L669.6 815.7L671.6 815.7L673.6 815.7L675.6 815.7L677.6 815.7L679.6 815.7L681.6 815.7L683.6 815.7L685.6 815.7L687.6 815.7L689.6 815.6L691.6 815.6L693.6 815.5L695.6 815.4L697.6 815.3L699.6 815.2L701.6 815.1L703.6 815.0L705.6 814.8L707.6 814.7L709.6 814.5L711.6 814.3L713.6 814.1L715.6 813.8L717.6 813.5L719.6 813.2L721.6 812.9L723.6 812.5L725.6 812.0L727.6 811.4L729.6 810.8L731.6 810.1L733.6 809.2L735.6 808.3L737.6 807.2L739.6 805.8L741.6 804.3L743.6 802.7L745.6 800.9L747.6 798.9L749.6 796.9L751.6 794.7L753.6 792.3L755.6 789.8L757.6 787.2L759.6 784.5L761.6 781.7L763.6 778.7L765.6 775.5L767.6 772.0L769.6 768.1L771.6 764.0L773.6 759.6L775.6 754.7L777.6 749.4L779.6 743.5L781.6 737.3L783.6 730.8L785.6 724.0L787.6 716.8L789.6 709.3L791.6 701.5L793.6 693.4L795.6 684.9L797.6 675.8L799.6 666.3L801.6 656.6L803.6 646.9L805.6 636.9L807.6 627.2L809.6 618.2L811.6 609.5L813.6 601.6L815.6 594.5L817.6 588.1L819.6 582.6L821.6 578.1L823.6 574.6L825.6 572.0L827.6 570.4L829.6 569.6L831.6 569.7L833.6 570.7L835.6 572.4L837.6 574.8L839.6 578.0L841.6 582.2L843.6 587.2L845.6 592.8L847.6 598.7L849.6 605.1L851.6 612.0L853.6 619.7L855.6 628.1L857.6 636.9L859.6 645.9L861.6 655.4L863.6 665.0L865.6 674.6L867.6 684.2L869.6 693.7L871.6 703.1L873.6 712.3L875.6 721.4L877.6 730.1L879.6 738.5L881.6 746.6L883.6 754.3L885.6 761.5L887.6 768.2L889.6 774.3L891.6 779.8L893.6 784.6L895.6 788.9L897.6 792.8L899.6 796.3L901.6 799.4L903.6 802.1L905.6 804.5L907.6 806.6L909.6 808.4L911.6 809.9L913.6 811.2L915.6 812.3L917.6 813.2L919.6 813.8L921.6 814.3L923.6 814.5L925.6 814.8L927.6 815.0L929.6 815.2L931.6 815.4L933.6 815.6L935.6 815.6L937.6 815.7L939.6 815.7L941.6 815.7L943.6 815.7L945.6 815.7" fill="none" stroke="#ef4444" stroke-width="1.8" stroke-dasharray="6.66 2.88" stroke-linejoin="round"/>
<path d="M657.6 815.7L659.6 815.7L661.6 815.7L663.6 815.7L665.6 815.7L667.6 815.7L669.6 815.7L671.6 815.7L673.6 815.7L675.6 815.7L677.6 815.7L679.6 815.7L681.6 815.7L683.6 815.7L685.6 815.7L687.6 815.6L689.6 815.6L691.6 815.5L693.6 815.5L695.6 815.4L697.6 815.3L699.6 815.1L701.6 815.0L703.6 814.9L705.6 814.8L707.6 814.6L709.6 814.4L711.6 814.2L713.6 814.0L715.6 813.7L717.6 813.4L719.6 813.1L721.6 812.8L723.6 812.3L725.6 811.8L727.6 811.2L729.6 810.5L731.6 809.7L733.6 808.9L735.6 807.9L737.6 806.6L739.6 805.2L741.6 803.7L743.6 802.0L745.6 800.1L747.6 798.1L749.6 796.0L751.6 793.7L753.6 791.3L755.6 788.8L757.6 786.1L759.6 783.4L761.6 780.5L763.6 777.5L765.6 774.1L767.6 770.4L769.6 766.5L771.6 762.3L773.6 757.7L775.6 752.7L777.6 747.1L779.6 741.1L781.6 734.7L783.6 728.1L785.6 721.2L787.6 713.9L789.6 706.2L791.6 698.3L793.6 690.1L795.6 681.4L797.6 672.1L799.6 662.5L801.6 652.8L803.6 642.9L805.6 633.0L807.6 623.6L809.6 614.8L811.6 606.5L813.6 599.0L815.6 592.5L817.6 586.7L819.6 581.9L821.6 578.2L823.6 575.4L825.6 573.5L827.6 572.4L829.6 572.0L831.6 572.2L833.6 573.2L835.6 574.9L837.6 577.2L839.6 580.5L841.6 584.7L843.6 589.8L845.6 595.3L847.6 601.3L849.6 607.8L851.6 615.0L853.6 623.0L855.6 631.6L857.6 640.5L859.6 649.7L861.6 659.2L863.6 668.9L865.6 678.4L867.6 688.0L869.6 697.5L871.6 706.8L873.6 716.0L875.6 724.9L877.6 733.5L879.6 741.8L881.6 749.8L883.6 757.2L885.6 764.2L887.6 770.7L889.6 776.6L891.6 781.8L893.6 786.4L895.6 790.5L897.6 794.2L899.6 797.6L901.6 800.5L903.6 803.1L905.6 805.4L907.6 807.4L909.6 809.0L911.6 810.4L913.6 811.6L915.6 812.7L917.6 813.5L919.6 814.0L921.6 814.4L923.6 814.6L925.6 814.8L927.6 815.1L929.6 815.3L931.6 815.5L933.6 815.6L935.6 815.6L937.6 815.7L939.6 815.7L941.6 815.7L943.6 815.7L945.6 815.7" fill="none" stroke="#a855f7" stroke-width="1.8" stroke-linejoin="round"/>
</g>
<g clip-path="url(#c33)">
<path d="M1001.2 1089.1L1001.2 955.1L1002.9 945.5L1004.9 933.9L1006.9 922.2L1008.9 910.8L1010.9 900.0L1012.9 889.6L1014.9 879.8L1016.9 870.9L1018.9 862.6L1020.9 855.2L1022.9 849.3L1024.8 844.9L1026.8 842.0L1028.8 840.9L1030.8 841.5L1032.8 843.3L1034.8 845.9L1036.8 849.2L1038.8 853.1L1040.8 857.6L1042.8 862.7L1044.8 868.3L1046.8 874.4L1048.8 881.0L1050.8 887.8L1052.8 894.9L1054.8 902.4L1056.8 910.1L1058.8 918.2L1060.8 926.7L1062.0 931.7L1062.0 1089.1Z" fill="#3b82f6" fill-opacity="0.2"/>
<path d="M1002.9 1089.1L1002.9 948.7L1004.9 937.8L1006.9 926.7L1008.9 915.9L1010.9 905.3L1012.9 895.0L1014.9 885.2L1016.9 876.2L1018.9 867.6L1020.9 859.9L1022.9 853.3L1024.8 847.8L1026.8 844.0L1028.8 842.1L1030.8 841.9L1032.8 843.3L1034.8 846.0L1036.8 849.6L1038.8 853.9L1040.8 858.6L1042.8 863.6L1044.8 869.1L1046.8 875.0L1048.8 881.4L1050.8 888.2L1052.8 895.3L1054.8 902.6L1056.8 910.2L1058.8 918.1L1060.8 926.5L1062.8 935.1L1064.8 943.8L1065.1 944.9L1065.1 1089.1Z" fill="#10b981" fill-opacity="0.2"/>
<path d="M1005.5 1089.1L1005.5 945.4L1006.9 937.8L1008.9 926.7L1010.9 916.0L1012.9 905.6L1014.9 895.5L1016.9 886.2L1018.9 877.9L1020.9 870.5L1022.9 864.4L1024.8 859.6L1026.8 856.0L1028.8 853.7L1030.8 852.6L1032.8 852.3L1034.8 852.8L1036.8 853.9L1038.8 855.8L1040.8 858.3L1042.8 861.5L1044.8 865.4L1046.8 870.1L1048.8 875.5L1050.8 881.7L1052.8 888.4L1054.8 895.3L1056.8 902.6L1058.8 910.2L1060.8 918.1L1062.8 926.5L1064.8 935.1L1066.8 943.8L1068.2 949.9L1068.2 1089.1Z" fill="#ef4444" fill-opacity="0.2"/>
<path d="M1004.9 1089.1L1004.9 942.0L1006.9 931.1L1008.9 920.2L1010.9 909.6L1012.9 899.2L1014.9 889.4L1016.9 880.5L1018.9 872.3L1020.9 864.9L1022.9 858.8L1024.8 853.9L1026.8 850.2L1028.8 847.9L1030.8 847.0L1032.8 847.2L1034.8 848.6L1036.8 850.8L1038.8 854.0L1040.8 857.8L1042.8 862.2L1044.8 867.2L1046.8 872.7L1048.8 878.8L1050.8 885.5L1052.8 892.4L1054.8 899.6L1056.8 907.1L1058.8 914.9L1060.8 923.1L1062.8 931.6L1064.8 940.3L1066.8 949.2L1068.2 955.4L1068.2 1089.1Z" fill="#a855f7" fill-opacity="0.2"/>
<path d="M946.9 1087.3L948.9 1087.0L950.9 1086.8L952.9 1086.4L954.9 1085.9L956.9 1085.4L958.9 1084.7L960.9 1083.7L962.9 1082.2L964.9 1080.4L966.9 1078.2L968.9 1075.7L970.9 1072.7L972.9 1069.4L974.9 1065.7L976.9 1061.5L978.9 1056.5L980.9 1050.9L982.9 1044.7L984.9 1037.6L986.9 1029.6L988.9 1020.9L990.9 1011.6L992.9 1001.6L994.9 990.9L996.9 980.0L998.9 968.8L1000.9 957.2L1002.9 945.5L1004.9 933.9L1006.9 922.2L1008.9 910.8L1010.9 900.0L1012.9 889.6L1014.9 879.8L1016.9 870.9L1018.9 862.6L1020.9 855.2L1022.9 849.3L1024.8 844.9L1026.8 842.0L1028.8 840.9L1030.8 841.5L1032.8 843.3L1034.8 845.9L1036.8 849.2L1038.8 853.1L1040.8 857.6L1042.8 862.7L1044.8 868.3L1046.8 874.4L1048.8 881.0L1050.8 887.8L1052.8 894.9L1054.8 902.4L1056.8 910.1L1058.8 918.2L1060.8 926.7L1062.8 935.3L1064.8 944.1L1066.8 953.2L1068.8 962.3L1070.8 971.1L1072.8 979.8L1074.8 988.3L1076.8 996.5L1078.8 1004.4L1080.8 1011.9L1082.8 1019.0L1084.8 1025.5L1086.8 1031.6L1088.8 1037.1L1090.8 1042.2L1092.8 1046.8L1094.8 1051.1L1096.8 1054.9L1098.8 1058.3L1100.8 1061.4L1102.8 1064.3L1104.8 1067.1L1106.8 1069.7L1108.8 1072.1L1110.8 1074.3L1112.8 1076.1L1114.8 1077.7L1116.8 1079.0L1118.8 1080.1L1120.8 1081.2L1122.8 1082.2L1124.8 1083.0L1126.8 1083.8L1128.8 1084.4L1130.8 1085.0L1132.8 1085.5L1134.8 1085.9L1136.8 1086.2L1138.8 1086.4L1140.8 1086.6L1142.8 1086.7L1144.8 1086.9L1146.8 1087.1L1148.8 1087.2L1150.8 1087.3L1152.8 1087.4L1154.8 1087.4L1156.8 1087.5L1158.8 1087.5L1160.8 1087.5L1162.8 1087.5L1164.8 1087.5L1166.8 1087.5L1168.8 1087.6L1170.8 1087.6L1172.8 1087.6L1174.8 1087.7L1176.8 1087.7L1178.8 1087.7L1180.8 1087.7L1182.8 1087.8L1184.8 1087.8L1186.8 1087.8L1188.8 1087.8L1190.8 1087.8L1192.8 1087.8L1194.8 1087.8L1196.8 1087.8L1198.8 1087.8L1200.8 1087.8L1202.8 1087.8L1204.8 1087.8L1206.8 1087.8L1208.8 1087.8L1210.8 1087.8L1212.8 1087.8L1214.8 1087.8L1216.8 1087.7L1218.8 1087.7L1220.8 1087.7L1222.8 1087.7L1224.8 1087.7L1226.8 1087.7L1228.8 1087.7L1230.8 1087.7L1232.8 1087.7" fill="none" stroke="#3b82f6" stroke-width="1.8" stroke-dasharray="1.80 2.97" stroke-linejoin="round"/>
<path d="M946.9 1087.2L948.9 1086.9L950.9 1086.6L952.9 1086.2L954.9 1085.7L956.9 1085.1L958.9 1084.3L960.9 1083.1L962.9 1081.7L964.9 1079.9L966.9 1077.8L968.9 1075.3L970.9 1072.4L972.9 1069.1L974.9 1065.4L976.9 1061.1L978.9 1056.3L980.9 1051.0L982.9 1045.0L984.9 1038.1L986.9 1030.3L988.9 1021.8L990.9 1012.7L992.9 1002.9L994.9 992.6L996.9 982.1L998.9 971.2L1000.9 960.1L1002.9 949.0L1004.9 937.8L1006.9 926.7L1008.9 915.9L1010.9 905.3L1012.9 895.0L1014.9 885.2L1016.9 876.2L1018.9 867.6L1020.9 859.9L1022.9 853.3L1024.8 847.8L1026.8 844.0L1028.8 842.1L1030.8 841.9L1032.8 843.3L1034.8 846.0L1036.8 849.6L1038.8 853.9L1040.8 858.6L1042.8 863.6L1044.8 869.1L1046.8 875.0L1048.8 881.4L1050.8 888.2L1052.8 895.3L1054.8 902.6L1056.8 910.2L1058.8 918.1L1060.8 926.5L1062.8 935.1L1064.8 943.8L1066.8 952.8L1068.8 962.0L1070.8 970.9L1072.8 979.2L1074.8 987.3L1076.8 995.0L1078.8 1002.5L1080.8 1009.8L1082.8 1016.5L1084.8 1022.5L1086.8 1027.7L1088.8 1032.4L1090.8 1036.8L1092.8 1041.0L1094.8 1044.9L1096.8 1048.6L1098.8 1052.1L1100.8 1055.3L1102.8 1058.4L1104.8 1061.2L1106.8 1063.9L1108.8 1066.4L1110.8 1068.6L1112.8 1070.7L1114.8 1072.5L1116.8 1074.1L1118.8 1075.5L1120.8 1076.9L1122.8 1078.3L1124.8 1079.5L1126.8 1080.6L1128.8 1081.7L1130.8 1082.6L1132.8 1083.3L1134.8 1083.9L1136.8 1084.4L1138.8 1084.9L1140.8 1085.3L1142.8 1085.7L1144.8 1086.0L1146.8 1086.2L1148.8 1086.4L1150.8 1086.6L1152.8 1086.7L1154.8 1086.9L1156.8 1087.0L1158.8 1087.2L1160.8 1087.3L1162.8 1087.3L1164.8 1087.4L1166.8 1087.4L1168.8 1087.5L1170.8 1087.5L1172.8 1087.5L1174.8 1087.5L1176.8 1087.5L1178.8 1087.5L1180.8 1087.5L1182.8 1087.6L1184.8 1087.6L1186.8 1087.6L1188.8 1087.6L1190.8 1087.6L1192.8 1087.7L1194.8 1087.7L1196.8 1087.7L1198.8 1087.7L1200.8 1087.7L1202.8 1087.7L1204.8 1087.7L1206.8 1087.7L1208.8 1087.7L1210.8 1087.7L1212.8 1087.7L1214.8 1087.7L1216.8 1087.7L1218.8 1087.7L1220.8 1087.7L1222.8 1087.7L1224.8 1087.7L1226.8 1087.7L1228.8 1087.7L1230.8 1087.7L1232.8 1087.7" fill="none" stroke="#10b981" stroke-width="1.8" stroke-dasharray="11.52 2.88 1.80 2.88" stroke-linejoin="round"/>
<path d="M946.9 1087.5L948.9 1087.2L950.9 1086.9L952.9 1086.6L954.9 1086.2L956.9 1085.7L958.9 1085.1L960.9 1084.3L962.9 1083.1L964.9 1081.7L966.9 1079.9L968.9 1077.8L970.9 1075.3L972.9 1072.4L974.9 1069.1L976.9 1065.4L978.9 1061.1L980.9 1056.3L982.9 1051.0L984.9 1045.0L986.9 1038.1L988.9 1030.3L990.9 1021.8L992.9 1012.7L994.9 1002.9L996.9 992.6L998.9 982.1L1000.9 971.2L1002.9 960.1L1004.9 949.0L1006.9 937.8L1008.9 926.7L1010.9 916.0L1012.9 905.6L1014.9 895.5L1016.9 886.2L1018.9 877.9L1020.9 870.5L1022.9 864.4L1024.8 859.6L1026.8 856.0L1028.8 853.7L1030.8 852.6L1032.8 852.3L1034.8 852.8L1036.8 853.9L1038.8 855.8L1040.8 858.3L1042.8 861.5L1044.8 865.4L1046.8 870.1L1048.8 875.5L1050.8 881.7L1052.8 888.4L1054.8 895.3L1056.8 902.6L1058.8 910.2L1060.8 918.1L1062.8 926.5L1064.8 935.1L1066.8 943.8L1068.8 952.8L1070.8 962.0L1072.8 970.9L1074.8 979.2L1076.8 987.3L1078.8 995.0L1080.8 1002.5L1082.8 1009.8L1084.8 1016.5L1086.8 1022.5L1088.8 1027.7L1090.8 1032.4L1092.8 1036.8L1094.8 1041.0L1096.8 1044.9L1098.8 1048.6L1100.8 1052.1L1102.8 1055.3L1104.8 1058.4L1106.8 1061.2L1108.8 1063.9L1110.8 1066.4L1112.8 1068.6L1114.8 1070.7L1116.8 1072.5L1118.8 1074.1L1120.8 1075.5L1122.8 1076.9L1124.8 1078.3L1126.8 1079.5L1128.8 1080.6L1130.8 1081.7L1132.8 1082.6L1134.8 1083.3L1136.8 1083.9L1138.8 1084.4L1140.8 1084.9L1142.8 1085.3L1144.8 1085.7L1146.8 1086.0L1148.8 1086.2L1150.8 1086.4L1152.8 1086.6L1154.8 1086.7L1156.8 1086.9L1158.8 1087.0L1160.8 1087.2L1162.8 1087.3L1164.8 1087.3L1166.8 1087.4L1168.8 1087.4L1170.8 1087.5L1172.8 1087.5L1174.8 1087.5L1176.8 1087.5L1178.8 1087.5L1180.8 1087.5L1182.8 1087.5L1184.8 1087.6L1186.8 1087.6L1188.8 1087.6L1190.8 1087.6L1192.8 1087.6L1194.8 1087.7L1196.8 1087.7L1198.8 1087.7L1200.8 1087.7L1202.8 1087.7L1204.8 1087.7L1206.8 1087.7L1208.8 1087.7L1210.8 1087.7L1212.8 1087.7L1214.8 1087.7L1216.8 1087.7L1218.8 1087.7L1220.8 1087.7L1222.8 1087.7L1224.8 1087.7L1226.8 1087.7L1228.8 1087.7L1230.8 1087.7L1232.8 1087.7" fill="none" stroke="#ef4444" stroke-width="1.8" stroke-dasharray="6.66 2.88" stroke-linejoin="round"/>
<path d="M946.9 1087.3L948.9 1087.0L950.9 1086.8L952.9 1086.4L954.9 1085.9L956.9 1085.3L958.9 1084.6L960.9 1083.6L962.9 1082.3L964.9 1080.6L966.9 1078.7L968.9 1076.4L970.9 1073.6L972.9 1070.5L974.9 1066.9L976.9 1062.9L978.9 1058.3L980.9 1053.2L982.9 1047.5L984.9 1040.9L986.9 1033.5L988.9 1025.3L990.9 1016.5L992.9 1006.9L994.9 996.8L996.9 986.3L998.9 975.6L1000.9 964.5L1002.9 953.4L1004.9 942.3L1006.9 931.1L1008.9 920.2L1010.9 909.6L1012.9 899.2L1014.9 889.4L1016.9 880.5L1018.9 872.3L1020.9 864.9L1022.9 858.8L1024.8 853.9L1026.8 850.2L1028.8 847.9L1030.8 847.0L1032.8 847.2L1034.8 848.6L1036.8 850.8L1038.8 854.0L1040.8 857.8L1042.8 862.2L1044.8 867.2L1046.8 872.7L1048.8 878.8L1050.8 885.5L1052.8 892.4L1054.8 899.6L1056.8 907.1L1058.8 914.9L1060.8 923.1L1062.8 931.6L1064.8 940.3L1066.8 949.2L1068.8 958.4L1070.8 967.4L1072.8 975.9L1074.8 984.1L1076.8 992.0L1078.8 999.5L1080.8 1006.9L1082.8 1013.9L1084.8 1020.2L1086.8 1025.7L1088.8 1030.5L1090.8 1035.1L1092.8 1039.4L1094.8 1043.4L1096.8 1047.1L1098.8 1050.7L1100.8 1054.1L1102.8 1057.2L1104.8 1060.1L1106.8 1062.9L1108.8 1065.4L1110.8 1067.7L1112.8 1069.9L1114.8 1071.8L1116.8 1073.4L1118.8 1074.9L1120.8 1076.4L1122.8 1077.7L1124.8 1079.0L1126.8 1080.2L1128.8 1081.3L1130.8 1082.2L1132.8 1083.0L1134.8 1083.7L1136.8 1084.2L1138.8 1084.7L1140.8 1085.1L1142.8 1085.5L1144.8 1085.9L1146.8 1086.1L1148.8 1086.3L1150.8 1086.5L1152.8 1086.7L1154.8 1086.8L1156.8 1087.0L1158.8 1087.1L1160.8 1087.2L1162.8 1087.3L1164.8 1087.4L1166.8 1087.4L1168.8 1087.5L1170.8 1087.5L1172.8 1087.5L1174.8 1087.5L1176.8 1087.5L1178.8 1087.5L1180.8 1087.5L1182.8 1087.5L1184.8 1087.6L1186.8 1087.6L1188.8 1087.6L1190.8 1087.6L1192.8 1087.7L1194.8 1087.7L1196.8 1087.7L1198.8 1087.7L1200.8 1087.7L1202.8 1087.7L1204.8 1087.7L1206.8 1087.7L1208.8 1087.7L1210.8 1087.7L1212.8 1087.7L1214.8 1087.7L1216.8 1087.7L1218.8 1087.7L1220.8 1087.7L1222.8 1087.7L1224.8 1087.7L1226.8 1087.7L1228.8 1087.7L1230.8 1087.7L1232.8 1087.7" fill="none" stroke="#a855f7" stroke-width="1.8" stroke-linejoin="round"/>
</g>
<g clip-path="url(#c44)">
<path d="M1368.2 1360.8L1368.2 1225.4L1368.6 1223.6L1370.6 1215.3L1372.6 1207.2L1374.6 1199.2L1376.6 1191.2L1378.6 1183.2L1380.6 1174.9L1382.6 1166.6L1384.6 1159.2L1386.6 1152.9L1388.6 1147.3L1390.6 1142.5L1392.6 1138.1L1394.6 1134.5L1396.6 1131.8L1398.6 1130.2L1400.6 1129.6L1402.6 1130.1L1404.6 1131.8L1406.6 1135.0L1408.6 1139.4L1410.6 1144.3L1412.6 1149.5L1414.6 1155.0L1416.6 1161.0L1418.6 1167.6L1420.6 1174.5L1422.6 1182.0L1424.6 1190.0L1426.6 1198.5L1428.6 1207.3L1430.6 1216.1L1432.6 1225.0L1434.6 1234.1L1436.4 1242.3L1436.4 1360.8Z" fill="#3b82f6" fill-opacity="0.2"/>
<path d="M1382.8 1360.8L1382.8 1197.6L1384.6 1189.7L1386.6 1181.1L1388.6 1172.4L1390.6 1163.9L1392.6 1156.0L1394.6 1148.6L1396.6 1141.6L1398.6 1135.3L1400.6 1129.4L1402.6 1124.2L1404.6 1120.0L1406.6 1117.0L1408.6 1115.1L1410.6 1114.2L1412.6 1114.3L1414.6 1115.4L1416.6 1117.4L1418.6 1120.1L1420.6 1123.5L1422.6 1127.7L1424.6 1132.6L1426.6 1138.3L1428.6 1144.6L1430.6 1151.6L1432.6 1159.1L1434.6 1167.2L1436.6 1176.0L1438.6 1185.6L1440.6 1195.8L1442.6 1206.1L1444.6 1216.1L1444.8 1216.9L1444.8 1360.8Z" fill="#10b981" fill-opacity="0.2"/>
<path d="M1382.8 1360.8L1382.8 1190.7L1384.6 1182.9L1386.6 1174.1L1388.6 1165.5L1390.6 1157.5L1392.6 1150.0L1394.6 1142.9L1396.6 1136.3L1398.6 1130.3L1400.6 1124.7L1402.6 1120.1L1404.6 1116.9L1406.6 1114.8L1408.6 1113.8L1410.6 1113.8L1412.6 1114.8L1414.6 1116.8L1416.6 1119.5L1418.6 1122.8L1420.6 1126.8L1422.6 1131.6L1424.6 1137.1L1426.6 1143.3L1428.6 1150.1L1430.6 1157.5L1432.6 1165.5L1434.6 1174.2L1436.6 1183.6L1438.6 1193.8L1440.6 1204.0L1442.6 1214.1L1442.8 1214.9L1442.8 1360.8Z" fill="#ef4444" fill-opacity="0.2"/>
<path d="M1379.8 1360.8L1379.8 1206.9L1380.6 1203.4L1382.6 1194.8L1384.6 1186.3L1386.6 1177.6L1388.6 1168.9L1390.6 1160.7L1392.6 1153.0L1394.6 1145.8L1396.6 1139.2L1398.6 1133.1L1400.6 1127.6L1402.6 1123.0L1404.6 1119.6L1406.6 1117.3L1408.6 1116.0L1410.6 1115.6L1412.6 1116.1L1414.6 1117.4L1416.6 1119.4L1418.6 1122.1L1420.6 1125.6L1422.6 1129.8L1424.6 1134.9L1426.6 1140.8L1428.6 1147.4L1430.6 1154.5L1432.6 1162.2L1434.6 1170.6L1436.6 1179.7L1438.6 1189.6L1440.6 1199.9L1442.6 1210.1L1442.8 1210.9L1442.8 1360.8Z" fill="#a855f7" fill-opacity="0.2"/>
<path d="M1234.6 1359.7L1236.6 1359.7L1238.6 1359.7L1240.6 1359.7L1242.6 1359.7L1244.6 1359.7L1246.6 1359.7L1248.6 1359.7L1250.6 1359.8L1252.6 1359.8L1254.6 1359.7L1256.6 1359.7L1258.6 1359.7L1260.6 1359.7L1262.6 1359.6L1264.6 1359.5L1266.6 1359.4L1268.6 1359.3L1270.6 1359.2L1272.6 1359.1L1274.6 1359.0L1276.6 1358.9L1278.6 1358.7L1280.6 1358.5L1282.6 1358.2L1284.6 1357.8L1286.6 1357.4L1288.6 1357.0L1290.6 1356.5L1292.6 1355.9L1294.6 1355.3L1296.6 1354.5L1298.6 1353.6L1300.6 1352.7L1302.6 1351.7L1304.6 1350.4L1306.6 1349.1L1308.6 1347.6L1310.6 1346.0L1312.6 1344.2L1314.6 1342.2L1316.6 1339.9L1318.6 1337.3L1320.6 1334.6L1322.6 1331.7L1324.6 1328.8L1326.6 1325.7L1328.6 1322.5L1330.6 1319.1L1332.6 1315.6L1334.6 1311.7L1336.6 1307.6L1338.6 1303.2L1340.6 1298.7L1342.6 1294.2L1344.6 1289.9L1346.6 1285.6L1348.6 1281.3L1350.6 1276.7L1352.6 1271.9L1354.6 1266.9L1356.6 1261.6L1358.6 1256.2L1360.6 1250.6L1362.6 1244.9L1364.6 1238.7L1366.6 1231.6L1368.6 1223.6L1370.6 1215.3L1372.6 1207.2L1374.6 1199.2L1376.6 1191.2L1378.6 1183.2L1380.6 1174.9L1382.6 1166.6L1384.6 1159.2L1386.6 1152.9L1388.6 1147.3L1390.6 1142.5L1392.6 1138.1L1394.6 1134.5L1396.6 1131.8L1398.6 1130.2L1400.6 1129.6L1402.6 1130.1L1404.6 1131.8L1406.6 1135.0L1408.6 1139.4L1410.6 1144.3L1412.6 1149.5L1414.6 1155.0L1416.6 1161.0L1418.6 1167.6L1420.6 1174.5L1422.6 1182.0L1424.6 1190.0L1426.6 1198.5L1428.6 1207.3L1430.6 1216.1L1432.6 1225.0L1434.6 1234.1L1436.6 1243.5L1438.6 1253.2L1440.6 1262.8L1442.6 1271.7L1444.6 1280.1L1446.6 1288.0L1448.6 1295.4L1450.6 1302.3L1452.6 1308.7L1454.6 1314.8L1456.6 1320.8L1458.6 1326.5L1460.6 1331.6L1462.6 1335.8L1464.6 1339.3L1466.6 1342.2L1468.6 1344.8L1470.6 1347.3L1472.6 1349.4L1474.6 1351.2L1476.6 1352.8L1478.6 1354.2L1480.6 1355.3L1482.6 1356.2L1484.6 1356.9L1486.6 1357.4L1488.6 1357.9L1490.6 1358.3L1492.6 1358.7L1494.6 1358.9L1496.6 1359.1L1498.6 1359.2L1500.6 1359.3L1502.6 1359.3L1504.6 1359.4L1506.6 1359.5L1508.6 1359.5L1510.6 1359.6L1512.6 1359.6L1514.6 1359.6L1516.6 1359.7L1518.6 1359.7L1520.6 1359.7L1522.6 1359.7" fill="none" stroke="#3b82f6" stroke-width="1.8" stroke-dasharray="1.80 2.97" stroke-linejoin="round"/>
<path d="M1234.6 1359.7L1236.6 1359.7L1238.6 1359.7L1240.6 1359.7L1242.6 1359.7L1244.6 1359.7L1246.6 1359.7L1248.6 1359.8L1250.6 1359.8L1252.6 1359.8L1254.6 1359.8L1256.6 1359.8L1258.6 1359.8L1260.6 1359.8L1262.6 1359.8L1264.6 1359.8L1266.6 1359.8L1268.6 1359.7L1270.6 1359.6L1272.6 1359.6L1274.6 1359.5L1276.6 1359.3L1278.6 1359.2L1280.6 1359.1L1282.6 1359.0L1284.6 1358.9L1286.6 1358.7L1288.6 1358.5L1290.6 1358.3L1292.6 1358.0L1294.6 1357.7L1296.6 1357.4L1298.6 1357.0L1300.6 1356.6L1302.6 1356.2L1304.6 1355.6L1306.6 1355.1L1308.6 1354.4L1310.6 1353.8L1312.6 1353.0L1314.6 1352.1L1316.6 1351.2L1318.6 1350.1L1320.6 1349.0L1322.6 1347.8L1324.6 1346.4L1326.6 1344.9L1328.6 1343.4L1330.6 1341.7L1332.6 1339.7L1334.6 1337.3L1336.6 1334.5L1338.6 1331.4L1340.6 1328.1L1342.6 1324.4L1344.6 1320.4L1346.6 1316.1L1348.6 1311.6L1350.6 1306.7L1352.6 1301.4L1354.6 1295.8L1356.6 1290.0L1358.6 1284.2L1360.6 1278.4L1362.6 1272.6L1364.6 1266.5L1366.6 1260.1L1368.6 1253.4L1370.6 1246.4L1372.6 1239.1L1374.6 1231.4L1376.6 1223.3L1378.6 1215.1L1380.6 1206.8L1382.6 1198.3L1384.6 1189.7L1386.6 1181.1L1388.6 1172.4L1390.6 1163.9L1392.6 1156.0L1394.6 1148.6L1396.6 1141.6L1398.6 1135.3L1400.6 1129.4L1402.6 1124.2L1404.6 1120.0L1406.6 1117.0L1408.6 1115.1L1410.6 1114.2L1412.6 1114.3L1414.6 1115.4L1416.6 1117.4L1418.6 1120.1L1420.6 1123.5L1422.6 1127.7L1424.6 1132.6L1426.6 1138.3L1428.6 1144.6L1430.6 1151.6L1432.6 1159.1L1434.6 1167.2L1436.6 1176.0L1438.6 1185.6L1440.6 1195.8L1442.6 1206.1L1444.6 1216.1L1446.6 1226.1L1448.6 1236.1L1450.6 1246.1L1452.6 1256.3L1454.6 1266.2L1456.6 1275.8L1458.6 1285.0L1460.6 1293.9L1462.6 1302.2L1464.6 1310.2L1466.6 1317.7L1468.6 1324.2L1470.6 1329.9L1472.6 1334.7L1474.6 1339.0L1476.6 1342.6L1478.6 1345.6L1480.6 1348.0L1482.6 1350.2L1484.6 1352.1L1486.6 1353.6L1488.6 1354.8L1490.6 1355.8L1492.6 1356.8L1494.6 1357.5L1496.6 1358.1L1498.6 1358.4L1500.6 1358.7L1502.6 1358.9L1504.6 1359.1L1506.6 1359.3L1508.6 1359.5L1510.6 1359.6L1512.6 1359.7L1514.6 1359.7L1516.6 1359.7L1518.6 1359.7L1520.6 1359.7L1522.6 1359.7" fill="none" stroke="#10b981" stroke-width="1.8" stroke-dasharray="11.52 2.88 1.80 2.88" stroke-linejoin="round"/>
<path d="M1234.6 1359.7L1236.6 1359.7L1238.6 1359.7L1240.6 1359.7L1242.6 1359.7L1244.6 1359.7L1246.6 1359.8L1248.6 1359.8L1250.6 1359.8L1252.6 1359.8L1254.6 1359.8L1256.6 1359.8L1258.6 1359.8L1260.6 1359.8L1262.6 1359.8L1264.6 1359.8L1266.6 1359.7L1268.6 1359.7L1270.6 1359.6L1272.6 1359.5L1274.6 1359.4L1276.6 1359.3L1278.6 1359.1L1280.6 1359.0L1282.6 1358.9L1284.6 1358.7L1286.6 1358.5L1288.6 1358.3L1290.6 1358.0L1292.6 1357.7L1294.6 1357.4L1296.6 1357.1L1298.6 1356.7L1300.6 1356.3L1302.6 1355.8L1304.6 1355.2L1306.6 1354.6L1308.6 1353.9L1310.6 1353.1L1312.6 1352.3L1314.6 1351.4L1316.6 1350.4L1318.6 1349.3L1320.6 1348.1L1322.6 1346.7L1324.6 1345.2L1326.6 1343.7L1328.6 1342.0L1330.6 1340.1L1332.6 1337.8L1334.6 1335.1L1336.6 1332.1L1338.6 1328.8L1340.6 1325.2L1342.6 1321.2L1344.6 1317.0L1346.6 1312.5L1348.6 1307.7L1350.6 1302.5L1352.6 1297.0L1354.6 1291.2L1356.6 1285.4L1358.6 1279.6L1360.6 1273.7L1362.6 1267.7L1364.6 1261.4L1366.6 1254.7L1368.6 1247.8L1370.6 1240.5L1372.6 1232.9L1374.6 1225.0L1376.6 1216.8L1378.6 1208.5L1380.6 1200.0L1382.6 1191.4L1384.6 1182.9L1386.6 1174.1L1388.6 1165.5L1390.6 1157.5L1392.6 1150.0L1394.6 1142.9L1396.6 1136.3L1398.6 1130.3L1400.6 1124.7L1402.6 1120.1L1404.6 1116.9L1406.6 1114.8L1408.6 1113.8L1410.6 1113.8L1412.6 1114.8L1414.6 1116.8L1416.6 1119.5L1418.6 1122.8L1420.6 1126.8L1422.6 1131.6L1424.6 1137.1L1426.6 1143.3L1428.6 1150.1L1430.6 1157.5L1432.6 1165.5L1434.6 1174.2L1436.6 1183.6L1438.6 1193.8L1440.6 1204.0L1442.6 1214.1L1444.6 1224.1L1446.6 1234.1L1448.6 1244.1L1450.6 1254.3L1452.6 1264.3L1454.6 1273.9L1456.6 1283.2L1458.6 1292.1L1460.6 1300.6L1462.6 1308.7L1464.6 1316.2L1466.6 1323.0L1468.6 1328.8L1470.6 1333.8L1472.6 1338.2L1474.6 1342.0L1476.6 1345.0L1478.6 1347.6L1480.6 1349.8L1482.6 1351.8L1484.6 1353.3L1486.6 1354.6L1488.6 1355.6L1490.6 1356.6L1492.6 1357.4L1494.6 1358.0L1496.6 1358.4L1498.6 1358.7L1500.6 1358.8L1502.6 1359.0L1504.6 1359.2L1506.6 1359.4L1508.6 1359.6L1510.6 1359.6L1512.6 1359.7L1514.6 1359.7L1516.6 1359.7L1518.6 1359.7L1520.6 1359.7L1522.6 1359.7" fill="none" stroke="#ef4444" stroke-width="1.8" stroke-dasharray="6.66 2.88" stroke-linejoin="round"/>
<path d="M1234.6 1359.7L1236.6 1359.7L1238.6 1359.7L1240.6 1359.7L1242.6 1359.7L1244.6 1359.7L1246.6 1359.8L1248.6 1359.8L1250.6 1359.8L1252.6 1359.8L1254.6 1359.8L1256.6 1359.8L1258.6 1359.8L1260.6 1359.8L1262.6 1359.8L1264.6 1359.8L1266.6 1359.7L1268.6 1359.7L1270.6 1359.6L1272.6 1359.5L1274.6 1359.4L1276.6 1359.3L1278.6 1359.2L1280.6 1359.1L1282.6 1358.9L1284.6 1358.8L1286.6 1358.6L1288.6 1358.4L1290.6 1358.1L1292.6 1357.9L1294.6 1357.6L1296.6 1357.2L1298.6 1356.9L1300.6 1356.5L1302.6 1356.0L1304.6 1355.4L1306.6 1354.8L1308.6 1354.2L1310.6 1353.5L1312.6 1352.7L1314.6 1351.8L1316.6 1350.8L1318.6 1349.7L1320.6 1348.6L1322.6 1347.3L1324.6 1345.8L1326.6 1344.3L1328.6 1342.7L1330.6 1340.9L1332.6 1338.8L1334.6 1336.2L1336.6 1333.3L1338.6 1330.1L1340.6 1326.6L1342.6 1322.8L1344.6 1318.7L1346.6 1314.3L1348.6 1309.6L1350.6 1304.6L1352.6 1299.2L1354.6 1293.5L1356.6 1287.7L1358.6 1281.9L1360.6 1276.1L1362.6 1270.2L1364.6 1264.0L1366.6 1257.4L1368.6 1250.6L1370.6 1243.5L1372.6 1236.0L1374.6 1228.2L1376.6 1220.1L1378.6 1211.8L1380.6 1203.4L1382.6 1194.8L1384.6 1186.3L1386.6 1177.6L1388.6 1168.9L1390.6 1160.7L1392.6 1153.0L1394.6 1145.8L1396.6 1139.2L1398.6 1133.1L1400.6 1127.6L1402.6 1123.0L1404.6 1119.6L1406.6 1117.3L1408.6 1116.0L1410.6 1115.6L1412.6 1116.1L1414.6 1117.4L1416.6 1119.4L1418.6 1122.1L1420.6 1125.6L1422.6 1129.8L1424.6 1134.9L1426.6 1140.8L1428.6 1147.4L1430.6 1154.5L1432.6 1162.2L1434.6 1170.6L1436.6 1179.7L1438.6 1189.6L1440.6 1199.9L1442.6 1210.1L1444.6 1220.1L1446.6 1230.1L1448.6 1240.1L1450.6 1250.2L1452.6 1260.3L1454.6 1270.1L1456.6 1279.5L1458.6 1288.6L1460.6 1297.3L1462.6 1305.5L1464.6 1313.3L1466.6 1320.4L1468.6 1326.6L1470.6 1331.9L1472.6 1336.5L1474.6 1340.6L1476.6 1343.9L1478.6 1346.6L1480.6 1348.9L1482.6 1351.0L1484.6 1352.7L1486.6 1354.1L1488.6 1355.2L1490.6 1356.2L1492.6 1357.1L1494.6 1357.8L1496.6 1358.2L1498.6 1358.6L1500.6 1358.8L1502.6 1359.0L1504.6 1359.1L1506.6 1359.4L1508.6 1359.5L1510.6 1359.6L1512.6 1359.7L1514.6 1359.7L1516.6 1359.7L1518.6 1359.7L1520.6 1359.7L1522.6 1359.7" fill="none" stroke="#a855f7" stroke-width="1.8" stroke-linejoin="round"/>
</g>
<g clip-path="url(#c55)">
<path d="M1623.8 1632.4L1623.8 1496.9L1624.0 1495.9L1626.0 1485.8L1628.0 1475.8L1630.0 1466.0L1632.0 1456.0L1634.0 1446.2L1636.0 1437.3L1638.0 1429.7L1640.0 1423.0L1642.0 1417.2L1644.0 1412.4L1646.0 1408.6L1648.0 1405.6L1650.0 1403.3L1652.0 1401.9L1654.0 1401.1L1656.0 1400.8L1658.0 1401.8L1660.0 1404.2L1662.0 1407.7L1664.0 1412.4L1666.0 1418.2L1668.0 1424.3L1670.0 1430.4L1672.0 1436.8L1674.0 1443.5L1676.0 1450.6L1678.0 1458.0L1680.0 1465.7L1682.0 1473.5L1684.0 1481.4L1686.0 1489.4L1688.0 1497.6L1688.0 1497.6L1688.0 1632.4Z" fill="#3b82f6" fill-opacity="0.2"/>
<path d="M1616.4 1632.4L1616.4 1470.8L1618.0 1462.9L1620.0 1453.2L1622.0 1444.1L1624.0 1435.7L1626.0 1428.0L1628.0 1420.9L1630.0 1414.3L1632.0 1408.2L1634.0 1402.5L1636.0 1397.6L1638.0 1393.4L1640.0 1389.8L1642.0 1386.9L1644.0 1385.3L1646.0 1385.5L1648.0 1387.4L1650.0 1390.4L1652.0 1394.4L1654.0 1399.2L1656.0 1404.4L1658.0 1409.8L1660.0 1415.5L1662.0 1421.5L1664.0 1427.8L1666.0 1434.5L1668.0 1441.6L1670.0 1449.2L1672.0 1457.2L1673.9 1465.4L1673.9 1632.4Z" fill="#10b981" fill-opacity="0.2"/>
<path d="M1614.2 1632.4L1614.2 1476.7L1616.0 1467.8L1618.0 1458.0L1620.0 1448.7L1622.0 1440.1L1624.0 1432.3L1626.0 1425.2L1628.0 1419.0L1630.0 1413.7L1632.0 1409.2L1634.0 1405.7L1636.0 1403.4L1638.0 1401.8L1640.0 1400.6L1642.0 1399.7L1644.0 1399.4L1646.0 1399.9L1648.0 1400.7L1650.0 1402.0L1652.0 1403.9L1654.0 1406.6L1656.0 1410.2L1658.0 1414.5L1660.0 1419.5L1662.0 1425.1L1664.0 1431.4L1666.0 1438.1L1668.0 1445.4L1670.0 1453.2L1672.0 1461.5L1674.0 1470.4L1676.0 1479.6L1676.4 1481.4L1676.4 1632.4Z" fill="#ef4444" fill-opacity="0.2"/>
<path d="M1614.2 1632.4L1614.2 1479.1L1616.0 1470.3L1618.0 1460.4L1620.0 1450.8L1622.0 1442.0L1624.0 1433.8L1626.0 1426.3L1628.0 1419.4L1630.0 1413.3L1632.0 1407.8L1634.0 1403.1L1636.0 1399.6L1638.0 1396.9L1640.0 1395.0L1642.0 1393.5L1644.0 1393.1L1646.0 1393.7L1648.0 1395.1L1650.0 1397.2L1652.0 1399.9L1654.0 1403.3L1656.0 1407.5L1658.0 1412.2L1660.0 1417.4L1662.0 1423.2L1664.0 1429.5L1666.0 1436.3L1668.0 1443.5L1670.0 1451.2L1672.0 1459.3L1674.0 1468.1L1676.0 1477.3L1676.4 1479.1L1676.4 1632.4Z" fill="#a855f7" fill-opacity="0.2"/>
<path d="M1524.0 1631.9L1526.0 1631.8L1528.0 1631.8L1530.0 1631.8L1532.0 1631.8L1534.0 1631.8L1536.0 1631.8L1538.0 1631.8L1540.0 1631.7L1542.0 1631.6L1544.0 1631.6L1546.0 1631.4L1548.0 1631.2L1550.0 1631.0L1552.0 1630.8L1554.0 1630.6L1556.0 1630.4L1558.0 1630.1L1560.0 1629.8L1562.0 1629.4L1564.0 1628.9L1566.0 1628.3L1568.0 1627.8L1570.0 1627.2L1572.0 1626.5L1574.0 1625.6L1576.0 1624.6L1578.0 1623.3L1580.0 1622.0L1582.0 1620.5L1584.0 1618.9L1586.0 1616.9L1588.0 1614.6L1590.0 1611.9L1592.0 1608.9L1594.0 1605.6L1596.0 1601.9L1598.0 1597.8L1600.0 1593.3L1602.0 1588.4L1604.0 1582.8L1606.0 1576.5L1608.0 1569.5L1610.0 1562.1L1612.0 1554.3L1614.0 1546.0L1616.0 1537.2L1618.0 1527.7L1620.0 1517.1L1622.0 1506.3L1624.0 1495.9L1626.0 1485.8L1628.0 1475.8L1630.0 1466.0L1632.0 1456.0L1634.0 1446.2L1636.0 1437.3L1638.0 1429.7L1640.0 1423.0L1642.0 1417.2L1644.0 1412.4L1646.0 1408.6L1648.0 1405.6L1650.0 1403.3L1652.0 1401.9L1654.0 1401.1L1656.0 1400.8L1658.0 1401.8L1660.0 1404.2L1662.0 1407.7L1664.0 1412.4L1666.0 1418.2L1668.0 1424.3L1670.0 1430.4L1672.0 1436.8L1674.0 1443.5L1676.0 1450.6L1678.0 1458.0L1680.0 1465.7L1682.0 1473.5L1684.0 1481.4L1686.0 1489.4L1688.0 1497.6L1690.0 1506.1L1692.0 1514.6L1694.0 1523.2L1696.0 1531.8L1698.0 1540.4L1700.0 1548.8L1702.0 1556.7L1704.0 1564.4L1706.0 1571.6L1708.0 1578.3L1710.0 1584.6L1712.0 1590.3L1714.0 1595.6L1716.0 1600.5L1718.0 1604.8L1720.0 1608.7L1722.0 1612.0L1724.0 1614.9L1726.0 1617.4L1728.0 1619.6L1730.0 1621.6L1732.0 1623.2L1734.0 1624.5L1736.0 1625.7L1738.0 1626.8L1740.0 1627.7L1742.0 1628.5L1744.0 1629.0L1746.0 1629.5L1748.0 1630.0L1750.0 1630.4L1752.0 1630.7L1754.0 1631.0L1756.0 1631.1L1758.0 1631.2L1760.0 1631.3L1762.0 1631.4L1764.0 1631.5L1766.0 1631.7L1768.0 1631.8L1770.0 1631.9L1772.0 1631.9L1774.0 1632.0L1776.0 1632.1L1778.0 1632.1L1780.0 1632.1L1782.0 1632.1L1784.0 1632.1L1786.0 1632.1L1788.0 1632.1L1790.0 1632.1L1792.0 1632.1L1794.0 1632.1L1796.0 1632.0L1798.0 1632.0L1800.0 1632.0L1802.0 1632.0L1804.0 1631.9L1806.0 1631.9L1808.0 1631.9L1810.0 1631.9L1812.0 1631.9" fill="none" stroke="#3b82f6" stroke-width="1.8" stroke-dasharray="1.80 2.97" stroke-linejoin="round"/>
<path d="M1524.0 1631.7L1526.0 1631.7L1528.0 1631.6L1530.0 1631.6L1532.0 1631.5L1534.0 1631.5L1536.0 1631.4L1538.0 1631.2L1540.0 1631.0L1542.0 1630.7L1544.0 1630.4L1546.0 1630.0L1548.0 1629.6L1550.0 1629.1L1552.0 1628.5L1554.0 1627.8L1556.0 1627.0L1558.0 1626.1L1560.0 1625.1L1562.0 1624.0L1564.0 1622.8L1566.0 1621.5L1568.0 1620.1L1570.0 1618.6L1572.0 1616.8L1574.0 1614.6L1576.0 1612.0L1578.0 1609.1L1580.0 1605.7L1582.0 1602.0L1584.0 1597.9L1586.0 1593.4L1588.0 1588.4L1590.0 1583.0L1592.0 1577.1L1594.0 1570.7L1596.0 1563.8L1598.0 1556.5L1600.0 1548.7L1602.0 1540.4L1604.0 1531.6L1606.0 1522.3L1608.0 1512.6L1610.0 1502.8L1612.0 1492.8L1614.0 1482.6L1616.0 1472.7L1618.0 1462.9L1620.0 1453.2L1622.0 1444.1L1624.0 1435.7L1626.0 1428.0L1628.0 1420.9L1630.0 1414.3L1632.0 1408.2L1634.0 1402.5L1636.0 1397.6L1638.0 1393.4L1640.0 1389.8L1642.0 1386.9L1644.0 1385.3L1646.0 1385.5L1648.0 1387.4L1650.0 1390.4L1652.0 1394.4L1654.0 1399.2L1656.0 1404.4L1658.0 1409.8L1660.0 1415.5L1662.0 1421.5L1664.0 1427.8L1666.0 1434.5L1668.0 1441.6L1670.0 1449.2L1672.0 1457.2L1674.0 1465.9L1676.0 1475.0L1678.0 1484.2L1680.0 1493.2L1682.0 1502.2L1684.0 1511.2L1686.0 1520.3L1688.0 1529.4L1690.0 1538.4L1692.0 1547.0L1694.0 1555.3L1696.0 1563.3L1698.0 1570.7L1700.0 1577.7L1702.0 1584.1L1704.0 1590.1L1706.0 1595.7L1708.0 1600.8L1710.0 1605.3L1712.0 1609.4L1714.0 1612.9L1716.0 1615.9L1718.0 1618.6L1720.0 1620.9L1722.0 1622.6L1724.0 1624.1L1726.0 1625.3L1728.0 1626.4L1730.0 1627.4L1732.0 1628.2L1734.0 1628.8L1736.0 1629.3L1738.0 1629.8L1740.0 1630.3L1742.0 1630.6L1744.0 1630.9L1746.0 1631.1L1748.0 1631.2L1750.0 1631.3L1752.0 1631.3L1754.0 1631.4L1756.0 1631.5L1758.0 1631.6L1760.0 1631.7L1762.0 1631.8L1764.0 1631.9L1766.0 1632.0L1768.0 1632.0L1770.0 1632.1L1772.0 1632.1L1774.0 1632.2L1776.0 1632.2L1778.0 1632.2L1780.0 1632.2L1782.0 1632.2L1784.0 1632.2L1786.0 1632.1L1788.0 1632.1L1790.0 1632.1L1792.0 1632.1L1794.0 1632.1L1796.0 1632.0L1798.0 1632.0L1800.0 1632.0L1802.0 1631.9L1804.0 1631.9L1806.0 1631.9L1808.0 1631.9L1810.0 1631.9L1812.0 1631.9" fill="none" stroke="#10b981" stroke-width="1.8" stroke-dasharray="11.52 2.88 1.80 2.88" stroke-linejoin="round"/>
<path d="M1524.0 1631.7L1526.0 1631.6L1528.0 1631.6L1530.0 1631.5L1532.0 1631.5L1534.0 1631.4L1536.0 1631.3L1538.0 1631.1L1540.0 1630.8L1542.0 1630.5L1544.0 1630.2L1546.0 1629.8L1548.0 1629.4L1550.0 1628.8L1552.0 1628.2L1554.0 1627.4L1556.0 1626.6L1558.0 1625.6L1560.0 1624.6L1562.0 1623.4L1564.0 1622.1L1566.0 1620.8L1568.0 1619.4L1570.0 1617.8L1572.0 1615.8L1574.0 1613.4L1576.0 1610.6L1578.0 1607.4L1580.0 1603.9L1582.0 1600.0L1584.0 1595.7L1586.0 1590.9L1588.0 1585.8L1590.0 1580.1L1592.0 1573.9L1594.0 1567.3L1596.0 1560.2L1598.0 1552.6L1600.0 1544.6L1602.0 1536.1L1604.0 1527.0L1606.0 1517.4L1608.0 1507.7L1610.0 1497.8L1612.0 1487.7L1614.0 1477.6L1616.0 1467.8L1618.0 1458.0L1620.0 1448.7L1622.0 1440.1L1624.0 1432.3L1626.0 1425.2L1628.0 1419.0L1630.0 1413.7L1632.0 1409.2L1634.0 1405.7L1636.0 1403.4L1638.0 1401.8L1640.0 1400.6L1642.0 1399.7L1644.0 1399.4L1646.0 1399.9L1648.0 1400.7L1650.0 1402.0L1652.0 1403.9L1654.0 1406.6L1656.0 1410.2L1658.0 1414.5L1660.0 1419.5L1662.0 1425.1L1664.0 1431.4L1666.0 1438.1L1668.0 1445.4L1670.0 1453.2L1672.0 1461.5L1674.0 1470.4L1676.0 1479.6L1678.0 1488.7L1680.0 1497.7L1682.0 1506.7L1684.0 1515.7L1686.0 1524.8L1688.0 1534.0L1690.0 1542.8L1692.0 1551.2L1694.0 1559.4L1696.0 1567.1L1698.0 1574.3L1700.0 1581.0L1702.0 1587.2L1704.0 1593.0L1706.0 1598.3L1708.0 1603.1L1710.0 1607.4L1712.0 1611.2L1714.0 1614.5L1716.0 1617.3L1718.0 1619.8L1720.0 1621.8L1722.0 1623.4L1724.0 1624.7L1726.0 1625.8L1728.0 1626.9L1730.0 1627.8L1732.0 1628.5L1734.0 1629.1L1736.0 1629.6L1738.0 1630.0L1740.0 1630.5L1742.0 1630.8L1744.0 1631.0L1746.0 1631.1L1748.0 1631.2L1750.0 1631.3L1752.0 1631.4L1754.0 1631.5L1756.0 1631.6L1758.0 1631.7L1760.0 1631.8L1762.0 1631.9L1764.0 1632.0L1766.0 1632.0L1768.0 1632.1L1770.0 1632.1L1772.0 1632.1L1774.0 1632.2L1776.0 1632.2L1778.0 1632.2L1780.0 1632.2L1782.0 1632.2L1784.0 1632.2L1786.0 1632.1L1788.0 1632.1L1790.0 1632.1L1792.0 1632.1L1794.0 1632.0L1796.0 1632.0L1798.0 1632.0L1800.0 1632.0L1802.0 1631.9L1804.0 1631.9L1806.0 1631.9L1808.0 1631.9L1810.0 1631.9L1812.0 1631.9" fill="none" stroke="#ef4444" stroke-width="1.8" stroke-dasharray="6.66 2.88" stroke-linejoin="round"/>
<path d="M1524.0 1631.7L1526.0 1631.6L1528.0 1631.6L1530.0 1631.6L1532.0 1631.5L1534.0 1631.4L1536.0 1631.3L1538.0 1631.2L1540.0 1630.9L1542.0 1630.6L1544.0 1630.3L1546.0 1629.9L1548.0 1629.5L1550.0 1629.0L1552.0 1628.3L1554.0 1627.6L1556.0 1626.8L1558.0 1625.9L1560.0 1624.9L1562.0 1623.7L1564.0 1622.5L1566.0 1621.1L1568.0 1619.8L1570.0 1618.2L1572.0 1616.3L1574.0 1614.0L1576.0 1611.3L1578.0 1608.3L1580.0 1604.8L1582.0 1601.0L1584.0 1596.8L1586.0 1592.2L1588.0 1587.1L1590.0 1581.6L1592.0 1575.5L1594.0 1569.0L1596.0 1562.0L1598.0 1554.6L1600.0 1546.6L1602.0 1538.3L1604.0 1529.3L1606.0 1519.9L1608.0 1510.1L1610.0 1500.3L1612.0 1490.2L1614.0 1480.1L1616.0 1470.3L1618.0 1460.4L1620.0 1450.8L1622.0 1442.0L1624.0 1433.8L1626.0 1426.3L1628.0 1419.4L1630.0 1413.3L1632.0 1407.8L1634.0 1403.1L1636.0 1399.6L1638.0 1396.9L1640.0 1395.0L1642.0 1393.5L1644.0 1393.1L1646.0 1393.7L1648.0 1395.1L1650.0 1397.2L1652.0 1399.9L1654.0 1403.3L1656.0 1407.5L1658.0 1412.2L1660.0 1417.4L1662.0 1423.2L1664.0 1429.5L1666.0 1436.3L1668.0 1443.5L1670.0 1451.2L1672.0 1459.3L1674.0 1468.1L1676.0 1477.3L1678.0 1486.5L1680.0 1495.5L1682.0 1504.5L1684.0 1513.5L1686.0 1522.6L1688.0 1531.7L1690.0 1540.6L1692.0 1549.1L1694.0 1557.4L1696.0 1565.2L1698.0 1572.5L1700.0 1579.3L1702.0 1585.7L1704.0 1591.6L1706.0 1597.0L1708.0 1602.0L1710.0 1606.4L1712.0 1610.3L1714.0 1613.7L1716.0 1616.6L1718.0 1619.2L1720.0 1621.4L1722.0 1623.0L1724.0 1624.4L1726.0 1625.5L1728.0 1626.6L1730.0 1627.6L1732.0 1628.3L1734.0 1628.9L1736.0 1629.5L1738.0 1629.9L1740.0 1630.4L1742.0 1630.7L1744.0 1630.9L1746.0 1631.1L1748.0 1631.2L1750.0 1631.3L1752.0 1631.4L1754.0 1631.4L1756.0 1631.5L1758.0 1631.6L1760.0 1631.8L1762.0 1631.9L1764.0 1631.9L1766.0 1632.0L1768.0 1632.1L1770.0 1632.1L1772.0 1632.1L1774.0 1632.2L1776.0 1632.2L1778.0 1632.2L1780.0 1632.2L1782.0 1632.2L1784.0 1632.2L1786.0 1632.1L1788.0 1632.1L1790.0 1632.1L1792.0 1632.1L1794.0 1632.0L1796.0 1632.0L1798.0 1632.0L1800.0 1632.0L1802.0 1631.9L1804.0 1631.9L1806.0 1631.9L1808.0 1631.9L1810.0 1631.9L1812.0 1631.9" fill="none" stroke="#a855f7" stroke-width="1.8" stroke-linejoin="round"/>
</g>
<rect x="80.43" y="1.58" width="289.2" height="271.5" fill="none" stroke="#000" stroke-width="1.6"/>
<rect x="80.43" y="273.1" width="289.2" height="272.0" fill="none" stroke="#000" stroke-width="1.6"/>
<rect x="369.64" y="273.1" width="288.0" height="272.0" fill="none" stroke="#000" stroke-width="1.6"/>
<rect x="80.43" y="545.1" width="289.2" height="272.0" fill="none" stroke="#000" stroke-width="1.6"/>
<rect x="369.64" y="545.1" width="288.0" height="272.0" fill="none" stroke="#000" stroke-width="1.6"/>
<rect x="657.64" y="545.1" width="289.2" height="272.0" fill="none" stroke="#000" stroke-width="1.6"/>
<rect x="80.43" y="817.1" width="289.2" height="272.0" fill="none" stroke="#000" stroke-width="1.6"/>
<rect x="369.64" y="817.1" width="288.0" height="272.0" fill="none" stroke="#000" stroke-width="1.6"/>
<rect x="657.64" y="817.1" width="289.2" height="272.0" fill="none" stroke="#000" stroke-width="1.6"/>
<rect x="946.85" y="817.1" width="287.8" height="272.0" fill="none" stroke="#000" stroke-width="1.6"/>
<rect x="80.43" y="1089.1" width="289.2" height="271.7" fill="none" stroke="#000" stroke-width="1.6"/>
<rect x="369.64" y="1089.1" width="288.0" height="271.7" fill="none" stroke="#000" stroke-width="1.6"/>
<rect x="657.64" y="1089.1" width="289.2" height="271.7" fill="none" stroke="#000" stroke-width="1.6"/>
<rect x="946.85" y="1089.1" width="287.8" height="271.7" fill="none" stroke="#000" stroke-width="1.6"/>
<rect x="1234.64" y="1089.1" width="289.4" height="271.7" fill="none" stroke="#000" stroke-width="1.6"/>
<rect x="80.43" y="1360.8" width="289.2" height="271.6" fill="none" stroke="#000" stroke-width="1.6"/>
<rect x="369.64" y="1360.8" width="288.0" height="271.6" fill="none" stroke="#000" stroke-width="1.6"/>
<rect x="657.64" y="1360.8" width="289.2" height="271.6" fill="none" stroke="#000" stroke-width="1.6"/>
<rect x="946.85" y="1360.8" width="287.8" height="271.6" fill="none" stroke="#000" stroke-width="1.6"/>
<rect x="1234.64" y="1360.8" width="289.4" height="271.6" fill="none" stroke="#000" stroke-width="1.6"/>
<rect x="1524.0" y="1360.8" width="288.0" height="271.6" fill="none" stroke="#000" stroke-width="1.6"/>
<path d="M135.9 1632.4v7.0M195.8 1632.4v7.0M255.6 1632.4v7.0M315.4 1632.4v7.0M419.7 1632.4v7.0M494.5 1632.4v7.0M569.3 1632.4v7.0M644.1 1632.4v7.0M719.8 1632.4v7.0M783.3 1632.4v7.0M846.8 1632.4v7.0M910.3 1632.4v7.0M1002.4 1632.4v7.0M1062.2 1632.4v7.0M1122.0 1632.4v7.0M1181.8 1632.4v7.0M1258.0 1632.4v7.0M1317.1 1632.4v7.0M1376.2 1632.4v7.0M1435.3 1632.4v7.0M1494.4 1632.4v7.0M1542.9 1632.4v7.0M1611.5 1632.4v7.0M1680.1 1632.4v7.0M1748.7 1632.4v7.0M80.43 285.5h-7.0M80.43 356.3h-7.0M80.43 427.0h-7.0M80.43 497.7h-7.0M80.43 579.4h-7.0M80.43 639.1h-7.0M80.43 698.8h-7.0M80.43 758.5h-7.0M80.43 867.8h-7.0M80.43 924.4h-7.0M80.43 981.0h-7.0M80.43 1037.6h-7.0M80.43 1116.0h-7.0M80.43 1171.7h-7.0M80.43 1227.3h-7.0M80.43 1283.0h-7.0M80.43 1338.6h-7.0M80.43 1419.9h-7.0M80.43 1485.0h-7.0M80.43 1550.0h-7.0M80.43 1615.0h-7.0" stroke="#000" stroke-width="1.35" fill="none"/>
<g font-family="'DejaVu Sans', 'Liberation Sans', sans-serif" font-size="14.6" fill="#000">
<text transform="translate(133.5 1663.7) rotate(-45)" text-anchor="middle" y="5.32">5.55</text>
<text transform="translate(193.4 1663.7) rotate(-45)" text-anchor="middle" y="5.32">5.70</text>
<text transform="translate(253.2 1663.7) rotate(-45)" text-anchor="middle" y="5.32">5.85</text>
<text transform="translate(313.0 1663.7) rotate(-45)" text-anchor="middle" y="5.32">6.00</text>
<text transform="translate(417.3 1662.1) rotate(-45)" text-anchor="middle" y="5.32">120</text>
<text transform="translate(492.1 1662.1) rotate(-45)" text-anchor="middle" y="5.32">140</text>
<text transform="translate(566.9 1662.1) rotate(-45)" text-anchor="middle" y="5.32">160</text>
<text transform="translate(641.7 1662.1) rotate(-45)" text-anchor="middle" y="5.32">180</text>
<text transform="translate(717.4 1662.1) rotate(-45)" text-anchor="middle" y="5.32">126</text>
<text transform="translate(780.9 1662.1) rotate(-45)" text-anchor="middle" y="5.32">129</text>
<text transform="translate(844.4 1662.1) rotate(-45)" text-anchor="middle" y="5.32">132</text>
<text transform="translate(907.9 1662.1) rotate(-45)" text-anchor="middle" y="5.32">135</text>
<text transform="translate(1000.0 1660.4) rotate(-45)" text-anchor="middle" y="5.32">6.3</text>
<text transform="translate(1059.8 1660.4) rotate(-45)" text-anchor="middle" y="5.32">6.6</text>
<text transform="translate(1119.6 1660.4) rotate(-45)" text-anchor="middle" y="5.32">6.9</text>
<text transform="translate(1179.4 1660.4) rotate(-45)" text-anchor="middle" y="5.32">7.2</text>
<text transform="translate(1255.6 1662.1) rotate(-45)" text-anchor="middle" y="5.32">180</text>
<text transform="translate(1314.7 1662.1) rotate(-45)" text-anchor="middle" y="5.32">195</text>
<text transform="translate(1373.8 1662.1) rotate(-45)" text-anchor="middle" y="5.32">210</text>
<text transform="translate(1432.9 1662.1) rotate(-45)" text-anchor="middle" y="5.32">225</text>
<text transform="translate(1492.0 1662.1) rotate(-45)" text-anchor="middle" y="5.32">240</text>
<text transform="translate(1540.5 1662.1) rotate(-45)" text-anchor="middle" y="5.32">264</text>
<text transform="translate(1609.1 1662.1) rotate(-45)" text-anchor="middle" y="5.32">268</text>
<text transform="translate(1677.7 1662.1) rotate(-45)" text-anchor="middle" y="5.32">272</text>
<text transform="translate(1746.3 1662.1) rotate(-45)" text-anchor="middle" y="5.32">276</text>
<text transform="translate(49.8 295.7) rotate(-45)" text-anchor="middle" y="5.32">180</text>
<text transform="translate(49.8 366.5) rotate(-45)" text-anchor="middle" y="5.32">160</text>
<text transform="translate(49.8 437.2) rotate(-45)" text-anchor="middle" y="5.32">140</text>
<text transform="translate(49.8 507.9) rotate(-45)" text-anchor="middle" y="5.32">120</text>
<text transform="translate(49.8 589.6) rotate(-45)" text-anchor="middle" y="5.32">135</text>
<text transform="translate(49.8 649.3) rotate(-45)" text-anchor="middle" y="5.32">132</text>
<text transform="translate(49.8 709.0) rotate(-45)" text-anchor="middle" y="5.32">129</text>
<text transform="translate(49.8 768.7) rotate(-45)" text-anchor="middle" y="5.32">126</text>
<text transform="translate(51.4 876.4) rotate(-45)" text-anchor="middle" y="5.32">7.2</text>
<text transform="translate(51.4 933.0) rotate(-45)" text-anchor="middle" y="5.32">6.9</text>
<text transform="translate(51.4 989.6) rotate(-45)" text-anchor="middle" y="5.32">6.6</text>
<text transform="translate(51.4 1046.2) rotate(-45)" text-anchor="middle" y="5.32">6.3</text>
<text transform="translate(49.8 1126.2) rotate(-45)" text-anchor="middle" y="5.32">240</text>
<text transform="translate(49.8 1181.9) rotate(-45)" text-anchor="middle" y="5.32">225</text>
<text transform="translate(49.8 1237.5) rotate(-45)" text-anchor="middle" y="5.32">210</text>
<text transform="translate(49.8 1293.2) rotate(-45)" text-anchor="middle" y="5.32">195</text>
<text transform="translate(49.8 1348.8) rotate(-45)" text-anchor="middle" y="5.32">180</text>
<text transform="translate(49.8 1430.1) rotate(-45)" text-anchor="middle" y="5.32">276</text>
<text transform="translate(49.8 1495.2) rotate(-45)" text-anchor="middle" y="5.32">272</text>
<text transform="translate(49.8 1560.2) rotate(-45)" text-anchor="middle" y="5.32">268</text>
<text transform="translate(49.8 1625.2) rotate(-45)" text-anchor="middle" y="5.32">264</text>
</g>
<g font-family="'DejaVu Serif', 'Liberation Serif', serif" font-size="26.4" fill="#000" text-anchor="middle" style="font-kerning:none">
<text transform="translate(224.7 1710.4) scale(1 0.97)">Contrast b (<tspan font-family="'DejaVu Sans', 'Liberation Sans', sans-serif">Δ</tspan>mag)</text>
<text transform="translate(509.0 1703.7) scale(1 0.97)">Sep. b (mas)</text>
<text transform="translate(800.5 1706.6) scale(1 0.97)">P.<tspan dx="-1.3">A</tspan>. b (<tspan dx="4.9" dy="-11.6" font-size="15.8" font-family="'DejaVu Sans', 'Liberation Sans', sans-serif">∘</tspan><tspan dx="4.9" dy="11.6">)</tspan></text>
<text transform="translate(1089.9 1704.0) scale(1 0.97)">Contrast c (<tspan font-family="'DejaVu Sans', 'Liberation Sans', sans-serif">Δ</tspan>mag)</text>
<text transform="translate(1374.3 1704.0) scale(1 0.97)">Sep. c (mas)</text>
<text transform="translate(1668.0 1706.6) scale(1 0.97)">P.<tspan dx="-1.3">A</tspan>. c (<tspan dx="4.9" dy="-11.6" font-size="15.8" font-family="'DejaVu Sans', 'Liberation Sans', sans-serif">∘</tspan><tspan dx="4.9" dy="11.6">)</tspan></text>
<text transform="translate(22.9 414.8) rotate(-90) scale(1 0.97)">Sep. b (mas)</text>
<text transform="translate(22.9 683.8) rotate(-90) scale(1 0.97)">P.<tspan dx="-1.3">A</tspan>. b (<tspan dx="4.9" dy="-11.6" font-size="15.8" font-family="'DejaVu Sans', 'Liberation Sans', sans-serif">∘</tspan><tspan dx="4.9" dy="11.6">)</tspan></text>
<text transform="translate(22.9 955.9) rotate(-90) scale(1 0.97)">Contrast c (<tspan font-family="'DejaVu Sans', 'Liberation Sans', sans-serif">Δ</tspan>mag)</text>
<text transform="translate(22.9 1231.0) rotate(-90) scale(1 0.97)">Sep. c (mas)</text>
<text transform="translate(22.9 1499.2) rotate(-90) scale(1 0.97)">P.<tspan dx="-1.3">A</tspan>. c (<tspan dx="4.9" dy="-11.6" font-size="15.8" font-family="'DejaVu Sans', 'Liberation Sans', sans-serif">∘</tspan><tspan dx="4.9" dy="11.6">)</tspan></text>
</g>
<path d="M1225.5 313.2H1273.8" fill="none" stroke="#3b82f6" stroke-width="1.8" stroke-dasharray="1.80 2.97"/>
<text transform="translate(1314.3 331.0) scale(1 0.97)" font-family="'DejaVu Serif', 'Liberation Serif', serif" font-size="49.0" fill="#3b82f6">Henyey-Greenstein</text>
<path d="M1225.5 374.2H1273.8" fill="none" stroke="#10b981" stroke-width="1.8" stroke-dasharray="11.52 2.88 1.80 2.88"/>
<text transform="translate(1314.3 392.1) scale(1 0.97)" font-family="'DejaVu Serif', 'Liberation Serif', serif" font-size="49.0" fill="#10b981">Gaussian</text>
<path d="M1225.5 435.2H1273.8" fill="none" stroke="#ef4444" stroke-width="1.8" stroke-dasharray="6.66 2.88"/>
<text transform="translate(1314.3 453.2) scale(1 0.97)" font-family="'DejaVu Serif', 'Liberation Serif', serif" font-size="49.0" fill="#ef4444">Power Law</text>
<path d="M1225.5 496.3H1273.8" fill="none" stroke="#a855f7" stroke-width="1.8"/>
<text transform="translate(1314.3 514.3) scale(1 0.97)" font-family="'DejaVu Serif', 'Liberation Serif', serif" font-size="49.0" fill="#a855f7">Bayesian Average</text>
</g>
</svg>
</body></html>
